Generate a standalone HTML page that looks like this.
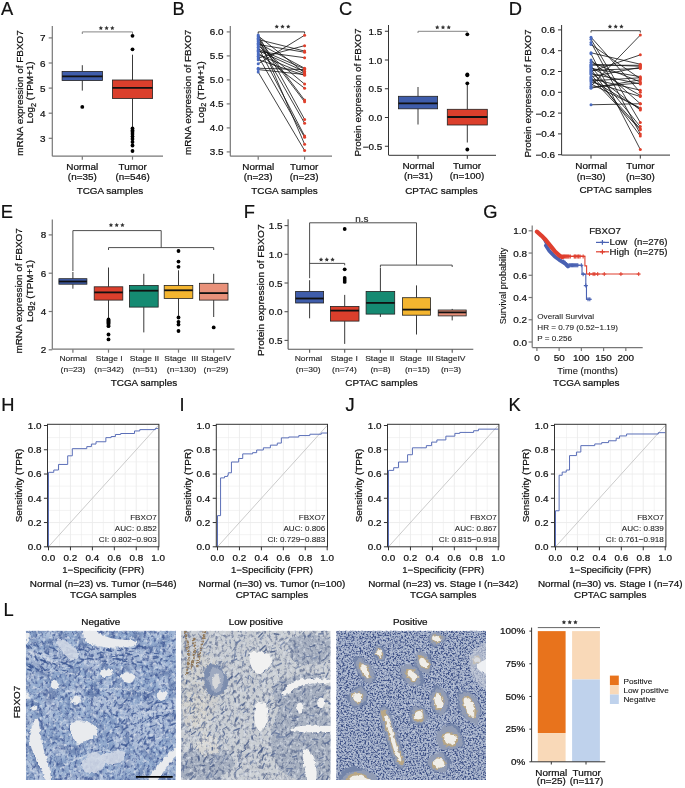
<!DOCTYPE html>
<html><head><meta charset="utf-8"><style>
html,body{margin:0;padding:0;background:#fff;}
svg{display:block;will-change:transform;}
text{font-family:"Liberation Sans", sans-serif;}
</style></head><body>
<svg width="685" height="788" viewBox="0 0 685 788">
<rect width="685" height="788" fill="#fff"/>
<text transform="translate(0.90,14.50) scale(1.0,1)" font-size="18.3" text-anchor="start" fill="#111" stroke="#111" stroke-width="0.22" >A</text>
<line x1="52.30" y1="26.00" x2="52.30" y2="156.20" stroke="#777" stroke-width="1.2" />
<line x1="48.70" y1="37.90" x2="52.30" y2="37.90" stroke="#777" stroke-width="1.2" />
<text transform="translate(45.60,41.40) scale(1.1,1)" font-size="9" text-anchor="end" fill="#111" stroke="#111" stroke-width="0.22" >7</text>
<line x1="48.70" y1="63.00" x2="52.30" y2="63.00" stroke="#777" stroke-width="1.2" />
<text transform="translate(45.60,66.50) scale(1.1,1)" font-size="9" text-anchor="end" fill="#111" stroke="#111" stroke-width="0.22" >6</text>
<line x1="48.70" y1="88.10" x2="52.30" y2="88.10" stroke="#777" stroke-width="1.2" />
<text transform="translate(45.60,91.60) scale(1.1,1)" font-size="9" text-anchor="end" fill="#111" stroke="#111" stroke-width="0.22" >5</text>
<line x1="48.70" y1="113.20" x2="52.30" y2="113.20" stroke="#777" stroke-width="1.2" />
<text transform="translate(45.60,116.70) scale(1.1,1)" font-size="9" text-anchor="end" fill="#111" stroke="#111" stroke-width="0.22" >4</text>
<line x1="48.70" y1="138.30" x2="52.30" y2="138.30" stroke="#777" stroke-width="1.2" />
<text transform="translate(45.60,141.80) scale(1.1,1)" font-size="9" text-anchor="end" fill="#111" stroke="#111" stroke-width="0.22" >3</text>
<line x1="52.30" y1="156.20" x2="163.00" y2="156.20" stroke="#777" stroke-width="1.2" />
<line x1="82.30" y1="156.20" x2="82.30" y2="159.70" stroke="#777" stroke-width="1.2" />
<line x1="132.50" y1="156.20" x2="132.50" y2="159.70" stroke="#777" stroke-width="1.2" />
<line x1="82.30" y1="65.20" x2="82.30" y2="71.40" stroke="#222" stroke-width="0.9" />
<line x1="82.30" y1="80.50" x2="82.30" y2="90.60" stroke="#222" stroke-width="0.9" />
<rect x="62.10" y="71.40" width="40.40" height="9.10" fill="#3f5dab" stroke="#222" stroke-width="0.8" />
<line x1="62.10" y1="76.40" x2="102.50" y2="76.40" stroke="#111" stroke-width="1.8" />
<circle cx="82.30" cy="106.90" r="1.9" fill="#000"/>
<line x1="132.50" y1="54.70" x2="132.50" y2="80.00" stroke="#222" stroke-width="0.9" />
<line x1="132.50" y1="98.50" x2="132.50" y2="128.00" stroke="#222" stroke-width="0.9" />
<rect x="112.40" y="80.00" width="40.20" height="18.50" fill="#db3f2c" stroke="#222" stroke-width="0.8" />
<line x1="112.40" y1="87.90" x2="152.60" y2="87.90" stroke="#111" stroke-width="1.8" />
<circle cx="132.50" cy="35.80" r="1.9" fill="#000"/>
<circle cx="132.50" cy="49.30" r="1.9" fill="#000"/>
<circle cx="132.50" cy="128.50" r="1.9" fill="#000"/>
<circle cx="132.50" cy="130.50" r="1.9" fill="#000"/>
<circle cx="132.50" cy="132.00" r="1.9" fill="#000"/>
<circle cx="132.50" cy="134.00" r="1.9" fill="#000"/>
<circle cx="132.50" cy="136.50" r="1.9" fill="#000"/>
<circle cx="132.50" cy="139.00" r="1.9" fill="#000"/>
<circle cx="132.50" cy="142.00" r="1.9" fill="#000"/>
<circle cx="132.50" cy="145.50" r="1.9" fill="#000"/>
<circle cx="132.50" cy="151.00" r="1.9" fill="#000"/>
<path d="M82.3,34 V31.9 H132.5 V34" stroke="#777" stroke-width="0.9" fill="none" />
<polygon points="100.85,25.80 101.53,27.17 103.04,27.39 101.94,28.46 102.20,29.96 100.85,29.25 99.50,29.96 99.76,28.46 98.66,27.39 100.17,27.17" fill="#333"/>
<polygon points="106.60,25.80 107.28,27.17 108.79,27.39 107.69,28.46 107.95,29.96 106.60,29.25 105.25,29.96 105.51,28.46 104.41,27.39 105.92,27.17" fill="#333"/>
<polygon points="112.35,25.80 113.03,27.17 114.54,27.39 113.44,28.46 113.70,29.96 112.35,29.25 111.00,29.96 111.26,28.46 110.16,27.39 111.67,27.17" fill="#333"/>
<text transform="translate(82.30,169.80) scale(1.1,1)" font-size="9" text-anchor="middle" fill="#111" stroke="#111" stroke-width="0.22" >Normal</text>
<text transform="translate(82.30,180.40) scale(1.1,1)" font-size="9" text-anchor="middle" fill="#111" stroke="#111" stroke-width="0.22" >(n=35)</text>
<text transform="translate(109.90,193.70) scale(1.1,1)" font-size="9" text-anchor="middle" fill="#111" stroke="#111" stroke-width="0.22" >TCGA samples</text>
<text transform="translate(22.50,93.00) rotate(-90) scale(1.1,1)" font-size="9" text-anchor="middle" fill="#111" stroke="#111" stroke-width="0.22" >mRNA expression of FBXO7</text>
<text transform="translate(33.2,92.4) rotate(-90) scale(1.1,1)" font-size="9" text-anchor="middle" fill="#111" stroke="#111" stroke-width="0.22">Log<tspan font-size="6.5" dy="2.5">2</tspan><tspan dy="-2.5"> (TPM+1)</tspan></text>
<text transform="translate(172.50,14.50) scale(1.0,1)" font-size="18.3" text-anchor="start" fill="#111" stroke="#111" stroke-width="0.22" >B</text>
<line x1="230.30" y1="26.00" x2="230.30" y2="156.20" stroke="#777" stroke-width="1.2" />
<line x1="226.70" y1="31.90" x2="230.30" y2="31.90" stroke="#777" stroke-width="1.2" />
<text transform="translate(223.60,35.40) scale(1.1,1)" font-size="9" text-anchor="end" fill="#111" stroke="#111" stroke-width="0.22" >6.0</text>
<line x1="226.70" y1="55.90" x2="230.30" y2="55.90" stroke="#777" stroke-width="1.2" />
<text transform="translate(223.60,59.40) scale(1.1,1)" font-size="9" text-anchor="end" fill="#111" stroke="#111" stroke-width="0.22" >5.5</text>
<line x1="226.70" y1="79.90" x2="230.30" y2="79.90" stroke="#777" stroke-width="1.2" />
<text transform="translate(223.60,83.40) scale(1.1,1)" font-size="9" text-anchor="end" fill="#111" stroke="#111" stroke-width="0.22" >5.0</text>
<line x1="226.70" y1="103.90" x2="230.30" y2="103.90" stroke="#777" stroke-width="1.2" />
<text transform="translate(223.60,107.40) scale(1.1,1)" font-size="9" text-anchor="end" fill="#111" stroke="#111" stroke-width="0.22" >4.5</text>
<line x1="226.70" y1="127.90" x2="230.30" y2="127.90" stroke="#777" stroke-width="1.2" />
<text transform="translate(223.60,131.40) scale(1.1,1)" font-size="9" text-anchor="end" fill="#111" stroke="#111" stroke-width="0.22" >4.0</text>
<line x1="226.70" y1="151.90" x2="230.30" y2="151.90" stroke="#777" stroke-width="1.2" />
<text transform="translate(223.60,155.40) scale(1.1,1)" font-size="9" text-anchor="end" fill="#111" stroke="#111" stroke-width="0.22" >3.5</text>
<line x1="230.30" y1="156.20" x2="332.00" y2="156.20" stroke="#777" stroke-width="1.2" />
<line x1="258.20" y1="156.20" x2="258.20" y2="159.70" stroke="#777" stroke-width="1.2" />
<line x1="304.60" y1="156.20" x2="304.60" y2="159.70" stroke="#777" stroke-width="1.2" />
<line x1="258.20" y1="34.91" x2="304.60" y2="119.44" stroke="#111" stroke-width="0.8" />
<line x1="258.20" y1="35.90" x2="304.60" y2="72.88" stroke="#111" stroke-width="0.8" />
<line x1="258.20" y1="36.89" x2="304.60" y2="144.20" stroke="#111" stroke-width="0.8" />
<line x1="258.20" y1="38.21" x2="304.60" y2="100.12" stroke="#111" stroke-width="0.8" />
<line x1="258.20" y1="39.53" x2="304.60" y2="51.09" stroke="#111" stroke-width="0.8" />
<line x1="258.20" y1="40.68" x2="304.60" y2="101.77" stroke="#111" stroke-width="0.8" />
<line x1="258.20" y1="41.84" x2="304.60" y2="123.23" stroke="#111" stroke-width="0.8" />
<line x1="258.20" y1="43.16" x2="304.60" y2="68.26" stroke="#111" stroke-width="0.8" />
<line x1="258.20" y1="44.48" x2="304.60" y2="52.24" stroke="#111" stroke-width="0.8" />
<line x1="258.20" y1="45.64" x2="304.60" y2="84.11" stroke="#111" stroke-width="0.8" />
<line x1="258.20" y1="47.29" x2="304.60" y2="135.95" stroke="#111" stroke-width="0.8" />
<line x1="258.20" y1="48.94" x2="304.60" y2="68.92" stroke="#111" stroke-width="0.8" />
<line x1="258.20" y1="50.59" x2="304.60" y2="71.56" stroke="#111" stroke-width="0.8" />
<line x1="258.20" y1="51.42" x2="304.60" y2="57.69" stroke="#111" stroke-width="0.8" />
<line x1="258.20" y1="53.07" x2="304.60" y2="88.23" stroke="#111" stroke-width="0.8" />
<line x1="258.20" y1="54.72" x2="304.60" y2="73.70" stroke="#111" stroke-width="0.8" />
<line x1="258.20" y1="56.37" x2="304.60" y2="137.27" stroke="#111" stroke-width="0.8" />
<line x1="258.20" y1="58.02" x2="304.60" y2="45.64" stroke="#111" stroke-width="0.8" />
<line x1="258.20" y1="59.67" x2="304.60" y2="75.35" stroke="#111" stroke-width="0.8" />
<line x1="258.20" y1="63.80" x2="304.60" y2="35.24" stroke="#111" stroke-width="0.8" />
<line x1="258.20" y1="68.26" x2="304.60" y2="69.58" stroke="#111" stroke-width="0.8" />
<line x1="258.20" y1="69.58" x2="304.60" y2="74.53" stroke="#111" stroke-width="0.8" />
<line x1="258.20" y1="72.05" x2="304.60" y2="150.47" stroke="#111" stroke-width="0.8" />
<circle cx="258.20" cy="34.91" r="1.5" fill="#4a6bc0"/>
<circle cx="258.20" cy="35.90" r="1.5" fill="#4a6bc0"/>
<circle cx="258.20" cy="36.89" r="1.5" fill="#4a6bc0"/>
<circle cx="258.20" cy="38.21" r="1.5" fill="#4a6bc0"/>
<circle cx="258.20" cy="39.53" r="1.5" fill="#4a6bc0"/>
<circle cx="258.20" cy="40.68" r="1.5" fill="#4a6bc0"/>
<circle cx="258.20" cy="41.84" r="1.5" fill="#4a6bc0"/>
<circle cx="258.20" cy="43.16" r="1.5" fill="#4a6bc0"/>
<circle cx="258.20" cy="44.48" r="1.5" fill="#4a6bc0"/>
<circle cx="258.20" cy="45.64" r="1.5" fill="#4a6bc0"/>
<circle cx="258.20" cy="47.29" r="1.5" fill="#4a6bc0"/>
<circle cx="258.20" cy="48.94" r="1.5" fill="#4a6bc0"/>
<circle cx="258.20" cy="50.59" r="1.5" fill="#4a6bc0"/>
<circle cx="258.20" cy="51.42" r="1.5" fill="#4a6bc0"/>
<circle cx="258.20" cy="53.07" r="1.5" fill="#4a6bc0"/>
<circle cx="258.20" cy="54.72" r="1.5" fill="#4a6bc0"/>
<circle cx="258.20" cy="56.37" r="1.5" fill="#4a6bc0"/>
<circle cx="258.20" cy="58.02" r="1.5" fill="#4a6bc0"/>
<circle cx="258.20" cy="59.67" r="1.5" fill="#4a6bc0"/>
<circle cx="258.20" cy="63.80" r="1.5" fill="#4a6bc0"/>
<circle cx="258.20" cy="68.26" r="1.5" fill="#4a6bc0"/>
<circle cx="258.20" cy="69.58" r="1.5" fill="#4a6bc0"/>
<circle cx="258.20" cy="72.05" r="1.5" fill="#4a6bc0"/>
<circle cx="304.60" cy="119.44" r="1.5" fill="#e0402c"/>
<circle cx="304.60" cy="72.88" r="1.5" fill="#e0402c"/>
<circle cx="304.60" cy="144.20" r="1.5" fill="#e0402c"/>
<circle cx="304.60" cy="100.12" r="1.5" fill="#e0402c"/>
<circle cx="304.60" cy="51.09" r="1.5" fill="#e0402c"/>
<circle cx="304.60" cy="101.77" r="1.5" fill="#e0402c"/>
<circle cx="304.60" cy="123.23" r="1.5" fill="#e0402c"/>
<circle cx="304.60" cy="68.26" r="1.5" fill="#e0402c"/>
<circle cx="304.60" cy="52.24" r="1.5" fill="#e0402c"/>
<circle cx="304.60" cy="84.11" r="1.5" fill="#e0402c"/>
<circle cx="304.60" cy="135.95" r="1.5" fill="#e0402c"/>
<circle cx="304.60" cy="68.92" r="1.5" fill="#e0402c"/>
<circle cx="304.60" cy="71.56" r="1.5" fill="#e0402c"/>
<circle cx="304.60" cy="57.69" r="1.5" fill="#e0402c"/>
<circle cx="304.60" cy="88.23" r="1.5" fill="#e0402c"/>
<circle cx="304.60" cy="73.70" r="1.5" fill="#e0402c"/>
<circle cx="304.60" cy="137.27" r="1.5" fill="#e0402c"/>
<circle cx="304.60" cy="45.64" r="1.5" fill="#e0402c"/>
<circle cx="304.60" cy="75.35" r="1.5" fill="#e0402c"/>
<circle cx="304.60" cy="35.24" r="1.5" fill="#e0402c"/>
<circle cx="304.60" cy="69.58" r="1.5" fill="#e0402c"/>
<circle cx="304.60" cy="74.53" r="1.5" fill="#e0402c"/>
<circle cx="304.60" cy="150.47" r="1.5" fill="#e0402c"/>
<path d="M258.2,33.6 V31.9 H304.6 V33.6" stroke="#222" stroke-width="0.9" fill="none" />
<polygon points="276.75,24.40 277.43,25.77 278.94,25.99 277.84,27.06 278.10,28.56 276.75,27.85 275.40,28.56 275.66,27.06 274.56,25.99 276.07,25.77" fill="#333"/>
<polygon points="282.50,24.40 283.18,25.77 284.69,25.99 283.59,27.06 283.85,28.56 282.50,27.85 281.15,28.56 281.41,27.06 280.31,25.99 281.82,25.77" fill="#333"/>
<polygon points="288.25,24.40 288.93,25.77 290.44,25.99 289.34,27.06 289.60,28.56 288.25,27.85 286.90,28.56 287.16,27.06 286.06,25.99 287.57,25.77" fill="#333"/>
<text transform="translate(258.20,169.80) scale(1.1,1)" font-size="9" text-anchor="middle" fill="#111" stroke="#111" stroke-width="0.22" >Normal</text>
<text transform="translate(258.20,180.20) scale(1.1,1)" font-size="9" text-anchor="middle" fill="#111" stroke="#111" stroke-width="0.22" >(n=23)</text>
<text transform="translate(284.50,193.70) scale(1.1,1)" font-size="9" text-anchor="middle" fill="#111" stroke="#111" stroke-width="0.22" >TCGA samples</text>
<text transform="translate(190.60,92.30) rotate(-90) scale(1.1,1)" font-size="9" text-anchor="middle" fill="#111" stroke="#111" stroke-width="0.22" >mRNA expression of FBXO7</text>
<text transform="translate(203.6,92.3) rotate(-90) scale(1.1,1)" font-size="9" text-anchor="middle" fill="#111" stroke="#111" stroke-width="0.22">Log<tspan font-size="6.5" dy="2.5">2</tspan><tspan dy="-2.5"> (TPM+1)</tspan></text>
<text transform="translate(339.10,14.50) scale(1.0,1)" font-size="18.3" text-anchor="start" fill="#111" stroke="#111" stroke-width="0.22" >C</text>
<line x1="388.50" y1="25.00" x2="388.50" y2="155.00" stroke="#333" stroke-width="1" />
<line x1="384.90" y1="31.25" x2="388.50" y2="31.25" stroke="#333" stroke-width="1" />
<text transform="translate(382.20,34.75) scale(1.1,1)" font-size="9" text-anchor="end" fill="#111" stroke="#111" stroke-width="0.22" >1.5</text>
<line x1="384.90" y1="60.00" x2="388.50" y2="60.00" stroke="#333" stroke-width="1" />
<text transform="translate(382.20,63.50) scale(1.1,1)" font-size="9" text-anchor="end" fill="#111" stroke="#111" stroke-width="0.22" >1.0</text>
<line x1="384.90" y1="88.75" x2="388.50" y2="88.75" stroke="#333" stroke-width="1" />
<text transform="translate(382.20,92.25) scale(1.1,1)" font-size="9" text-anchor="end" fill="#111" stroke="#111" stroke-width="0.22" >0.5</text>
<line x1="384.90" y1="117.50" x2="388.50" y2="117.50" stroke="#333" stroke-width="1" />
<text transform="translate(382.20,121.00) scale(1.1,1)" font-size="9" text-anchor="end" fill="#111" stroke="#111" stroke-width="0.22" >0.0</text>
<line x1="384.90" y1="146.25" x2="388.50" y2="146.25" stroke="#333" stroke-width="1" />
<text transform="translate(382.20,149.75) scale(1.1,1)" font-size="9" text-anchor="end" fill="#111" stroke="#111" stroke-width="0.22" >−0.5</text>
<line x1="388.50" y1="155.30" x2="496.00" y2="155.30" stroke="#333" stroke-width="1" />
<line x1="418.00" y1="155.30" x2="418.00" y2="158.80" stroke="#333" stroke-width="1" />
<line x1="467.30" y1="155.30" x2="467.30" y2="158.80" stroke="#333" stroke-width="1" />
<line x1="418.00" y1="87.00" x2="418.00" y2="96.30" stroke="#222" stroke-width="0.9" />
<line x1="418.00" y1="108.80" x2="418.00" y2="124.50" stroke="#222" stroke-width="0.9" />
<rect x="398.40" y="96.30" width="39.20" height="12.50" fill="#3f5dab" stroke="#222" stroke-width="0.8" />
<line x1="398.40" y1="103.30" x2="437.60" y2="103.30" stroke="#111" stroke-width="1.8" />
<line x1="467.30" y1="85.00" x2="467.30" y2="109.30" stroke="#222" stroke-width="0.9" />
<line x1="467.30" y1="125.00" x2="467.30" y2="142.50" stroke="#222" stroke-width="0.9" />
<rect x="447.30" y="109.30" width="40.00" height="15.70" fill="#db3f2c" stroke="#222" stroke-width="0.8" />
<line x1="447.30" y1="117.00" x2="487.30" y2="117.00" stroke="#111" stroke-width="1.8" />
<circle cx="467.30" cy="34.30" r="1.9" fill="#000"/>
<circle cx="467.30" cy="74.30" r="1.9" fill="#000"/>
<circle cx="467.30" cy="75.30" r="1.9" fill="#000"/>
<circle cx="467.30" cy="83.30" r="1.9" fill="#000"/>
<circle cx="467.30" cy="149.50" r="1.9" fill="#000"/>
<path d="M418,33 V31.3 H467.3 V33" stroke="#777" stroke-width="0.9" fill="none" />
<polygon points="437.25,25.10 437.93,26.47 439.44,26.69 438.34,27.76 438.60,29.26 437.25,28.55 435.90,29.26 436.16,27.76 435.06,26.69 436.57,26.47" fill="#333"/>
<polygon points="443.00,25.10 443.68,26.47 445.19,26.69 444.09,27.76 444.35,29.26 443.00,28.55 441.65,29.26 441.91,27.76 440.81,26.69 442.32,26.47" fill="#333"/>
<polygon points="448.75,25.10 449.43,26.47 450.94,26.69 449.84,27.76 450.10,29.26 448.75,28.55 447.40,29.26 447.66,27.76 446.56,26.69 448.07,26.47" fill="#333"/>
<text transform="translate(418.40,168.90) scale(1.1,1)" font-size="9" text-anchor="middle" fill="#111" stroke="#111" stroke-width="0.22" >Normal</text>
<text transform="translate(418.40,179.40) scale(1.1,1)" font-size="9" text-anchor="middle" fill="#111" stroke="#111" stroke-width="0.22" >(n=31)</text>
<text transform="translate(441.40,193.50) scale(1.1,1)" font-size="9" text-anchor="middle" fill="#111" stroke="#111" stroke-width="0.22" >CPTAC samples</text>
<text transform="translate(361.00,92.50) rotate(-90) scale(1.1,1)" font-size="9" text-anchor="middle" fill="#111" stroke="#111" stroke-width="0.22" >Protein expression of FBXO7</text>
<text transform="translate(508.80,14.50) scale(1.0,1)" font-size="18.3" text-anchor="start" fill="#111" stroke="#111" stroke-width="0.22" >D</text>
<line x1="561.60" y1="25.00" x2="561.60" y2="155.10" stroke="#333" stroke-width="1" />
<line x1="558.00" y1="29.90" x2="561.60" y2="29.90" stroke="#333" stroke-width="1" />
<text transform="translate(555.00,33.40) scale(1.1,1)" font-size="9" text-anchor="end" fill="#111" stroke="#111" stroke-width="0.22" >0.6</text>
<line x1="558.00" y1="50.70" x2="561.60" y2="50.70" stroke="#333" stroke-width="1" />
<text transform="translate(555.00,54.20) scale(1.1,1)" font-size="9" text-anchor="end" fill="#111" stroke="#111" stroke-width="0.22" >0.4</text>
<line x1="558.00" y1="71.50" x2="561.60" y2="71.50" stroke="#333" stroke-width="1" />
<text transform="translate(555.00,75.00) scale(1.1,1)" font-size="9" text-anchor="end" fill="#111" stroke="#111" stroke-width="0.22" >0.2</text>
<line x1="558.00" y1="92.30" x2="561.60" y2="92.30" stroke="#333" stroke-width="1" />
<text transform="translate(555.00,95.80) scale(1.1,1)" font-size="9" text-anchor="end" fill="#111" stroke="#111" stroke-width="0.22" >0.0</text>
<line x1="558.00" y1="113.10" x2="561.60" y2="113.10" stroke="#333" stroke-width="1" />
<text transform="translate(555.00,116.60) scale(1.1,1)" font-size="9" text-anchor="end" fill="#111" stroke="#111" stroke-width="0.22" >−0.2</text>
<line x1="558.00" y1="133.90" x2="561.60" y2="133.90" stroke="#333" stroke-width="1" />
<text transform="translate(555.00,137.40) scale(1.1,1)" font-size="9" text-anchor="end" fill="#111" stroke="#111" stroke-width="0.22" >−0.4</text>
<line x1="558.00" y1="154.70" x2="561.60" y2="154.70" stroke="#333" stroke-width="1" />
<text transform="translate(555.00,158.20) scale(1.1,1)" font-size="9" text-anchor="end" fill="#111" stroke="#111" stroke-width="0.22" >−0.6</text>
<line x1="561.60" y1="155.10" x2="670.00" y2="155.10" stroke="#333" stroke-width="1" />
<line x1="591.00" y1="155.10" x2="591.00" y2="158.60" stroke="#333" stroke-width="1" />
<line x1="640.30" y1="155.10" x2="640.30" y2="158.60" stroke="#333" stroke-width="1" />
<line x1="591.00" y1="37.18" x2="640.30" y2="92.30" stroke="#111" stroke-width="0.8" />
<line x1="591.00" y1="39.26" x2="640.30" y2="122.46" stroke="#111" stroke-width="0.8" />
<line x1="591.00" y1="42.38" x2="640.30" y2="133.90" stroke="#111" stroke-width="0.8" />
<line x1="591.00" y1="44.46" x2="640.30" y2="78.78" stroke="#111" stroke-width="0.8" />
<line x1="591.00" y1="52.78" x2="640.30" y2="64.22" stroke="#111" stroke-width="0.8" />
<line x1="591.00" y1="53.82" x2="640.30" y2="149.50" stroke="#111" stroke-width="0.8" />
<line x1="591.00" y1="60.06" x2="640.30" y2="103.74" stroke="#111" stroke-width="0.8" />
<line x1="591.00" y1="62.14" x2="640.30" y2="81.90" stroke="#111" stroke-width="0.8" />
<line x1="591.00" y1="64.22" x2="640.30" y2="66.30" stroke="#111" stroke-width="0.8" />
<line x1="591.00" y1="66.30" x2="640.30" y2="126.62" stroke="#111" stroke-width="0.8" />
<line x1="591.00" y1="67.34" x2="640.30" y2="95.42" stroke="#111" stroke-width="0.8" />
<line x1="591.00" y1="68.38" x2="640.30" y2="76.70" stroke="#111" stroke-width="0.8" />
<line x1="591.00" y1="69.42" x2="640.30" y2="135.98" stroke="#111" stroke-width="0.8" />
<line x1="591.00" y1="71.50" x2="640.30" y2="54.86" stroke="#111" stroke-width="0.8" />
<line x1="591.00" y1="72.54" x2="640.30" y2="109.98" stroke="#111" stroke-width="0.8" />
<line x1="591.00" y1="73.58" x2="640.30" y2="83.98" stroke="#111" stroke-width="0.8" />
<line x1="591.00" y1="74.62" x2="640.30" y2="128.70" stroke="#111" stroke-width="0.8" />
<line x1="591.00" y1="76.70" x2="640.30" y2="67.34" stroke="#111" stroke-width="0.8" />
<line x1="591.00" y1="77.74" x2="640.30" y2="129.74" stroke="#111" stroke-width="0.8" />
<line x1="591.00" y1="78.78" x2="640.30" y2="90.22" stroke="#111" stroke-width="0.8" />
<line x1="591.00" y1="80.86" x2="640.30" y2="77.74" stroke="#111" stroke-width="0.8" />
<line x1="591.00" y1="81.90" x2="640.30" y2="96.46" stroke="#111" stroke-width="0.8" />
<line x1="591.00" y1="83.98" x2="640.30" y2="107.90" stroke="#111" stroke-width="0.8" />
<line x1="591.00" y1="86.06" x2="640.30" y2="35.10" stroke="#111" stroke-width="0.8" />
<line x1="591.00" y1="87.10" x2="640.30" y2="82.94" stroke="#111" stroke-width="0.8" />
<line x1="591.00" y1="88.14" x2="640.30" y2="79.82" stroke="#111" stroke-width="0.8" />
<line x1="591.00" y1="79.82" x2="640.30" y2="108.94" stroke="#111" stroke-width="0.8" />
<line x1="591.00" y1="70.46" x2="640.30" y2="68.38" stroke="#111" stroke-width="0.8" />
<line x1="591.00" y1="65.26" x2="640.30" y2="65.26" stroke="#111" stroke-width="0.8" />
<line x1="591.00" y1="104.78" x2="640.30" y2="103.74" stroke="#111" stroke-width="0.8" />
<circle cx="591.00" cy="37.18" r="1.5" fill="#4a6bc0"/>
<circle cx="591.00" cy="39.26" r="1.5" fill="#4a6bc0"/>
<circle cx="591.00" cy="42.38" r="1.5" fill="#4a6bc0"/>
<circle cx="591.00" cy="44.46" r="1.5" fill="#4a6bc0"/>
<circle cx="591.00" cy="52.78" r="1.5" fill="#4a6bc0"/>
<circle cx="591.00" cy="53.82" r="1.5" fill="#4a6bc0"/>
<circle cx="591.00" cy="60.06" r="1.5" fill="#4a6bc0"/>
<circle cx="591.00" cy="62.14" r="1.5" fill="#4a6bc0"/>
<circle cx="591.00" cy="64.22" r="1.5" fill="#4a6bc0"/>
<circle cx="591.00" cy="66.30" r="1.5" fill="#4a6bc0"/>
<circle cx="591.00" cy="67.34" r="1.5" fill="#4a6bc0"/>
<circle cx="591.00" cy="68.38" r="1.5" fill="#4a6bc0"/>
<circle cx="591.00" cy="69.42" r="1.5" fill="#4a6bc0"/>
<circle cx="591.00" cy="71.50" r="1.5" fill="#4a6bc0"/>
<circle cx="591.00" cy="72.54" r="1.5" fill="#4a6bc0"/>
<circle cx="591.00" cy="73.58" r="1.5" fill="#4a6bc0"/>
<circle cx="591.00" cy="74.62" r="1.5" fill="#4a6bc0"/>
<circle cx="591.00" cy="76.70" r="1.5" fill="#4a6bc0"/>
<circle cx="591.00" cy="77.74" r="1.5" fill="#4a6bc0"/>
<circle cx="591.00" cy="78.78" r="1.5" fill="#4a6bc0"/>
<circle cx="591.00" cy="80.86" r="1.5" fill="#4a6bc0"/>
<circle cx="591.00" cy="81.90" r="1.5" fill="#4a6bc0"/>
<circle cx="591.00" cy="83.98" r="1.5" fill="#4a6bc0"/>
<circle cx="591.00" cy="86.06" r="1.5" fill="#4a6bc0"/>
<circle cx="591.00" cy="87.10" r="1.5" fill="#4a6bc0"/>
<circle cx="591.00" cy="88.14" r="1.5" fill="#4a6bc0"/>
<circle cx="591.00" cy="79.82" r="1.5" fill="#4a6bc0"/>
<circle cx="591.00" cy="70.46" r="1.5" fill="#4a6bc0"/>
<circle cx="591.00" cy="65.26" r="1.5" fill="#4a6bc0"/>
<circle cx="591.00" cy="104.78" r="1.5" fill="#4a6bc0"/>
<circle cx="640.30" cy="35.10" r="1.5" fill="#e0402c"/>
<circle cx="640.30" cy="54.86" r="1.5" fill="#e0402c"/>
<circle cx="640.30" cy="64.22" r="1.5" fill="#e0402c"/>
<circle cx="640.30" cy="66.30" r="1.5" fill="#e0402c"/>
<circle cx="640.30" cy="67.34" r="1.5" fill="#e0402c"/>
<circle cx="640.30" cy="68.38" r="1.5" fill="#e0402c"/>
<circle cx="640.30" cy="76.70" r="1.5" fill="#e0402c"/>
<circle cx="640.30" cy="77.74" r="1.5" fill="#e0402c"/>
<circle cx="640.30" cy="78.78" r="1.5" fill="#e0402c"/>
<circle cx="640.30" cy="79.82" r="1.5" fill="#e0402c"/>
<circle cx="640.30" cy="81.90" r="1.5" fill="#e0402c"/>
<circle cx="640.30" cy="83.98" r="1.5" fill="#e0402c"/>
<circle cx="640.30" cy="90.22" r="1.5" fill="#e0402c"/>
<circle cx="640.30" cy="92.30" r="1.5" fill="#e0402c"/>
<circle cx="640.30" cy="95.42" r="1.5" fill="#e0402c"/>
<circle cx="640.30" cy="96.46" r="1.5" fill="#e0402c"/>
<circle cx="640.30" cy="103.74" r="1.5" fill="#e0402c"/>
<circle cx="640.30" cy="107.90" r="1.5" fill="#e0402c"/>
<circle cx="640.30" cy="109.98" r="1.5" fill="#e0402c"/>
<circle cx="640.30" cy="122.46" r="1.5" fill="#e0402c"/>
<circle cx="640.30" cy="126.62" r="1.5" fill="#e0402c"/>
<circle cx="640.30" cy="128.70" r="1.5" fill="#e0402c"/>
<circle cx="640.30" cy="133.90" r="1.5" fill="#e0402c"/>
<circle cx="640.30" cy="135.98" r="1.5" fill="#e0402c"/>
<circle cx="640.30" cy="149.50" r="1.5" fill="#e0402c"/>
<circle cx="640.30" cy="65.26" r="1.5" fill="#e0402c"/>
<circle cx="640.30" cy="82.94" r="1.5" fill="#e0402c"/>
<circle cx="640.30" cy="129.74" r="1.5" fill="#e0402c"/>
<circle cx="640.30" cy="108.94" r="1.5" fill="#e0402c"/>
<circle cx="640.30" cy="103.74" r="1.5" fill="#e0402c"/>
<path d="M591,32.6 V30.7 H640.3 V32.6" stroke="#333" stroke-width="0.9" fill="none" />
<polygon points="609.95,24.30 610.63,25.67 612.14,25.89 611.04,26.96 611.30,28.46 609.95,27.75 608.60,28.46 608.86,26.96 607.76,25.89 609.27,25.67" fill="#333"/>
<polygon points="615.70,24.30 616.38,25.67 617.89,25.89 616.79,26.96 617.05,28.46 615.70,27.75 614.35,28.46 614.61,26.96 613.51,25.89 615.02,25.67" fill="#333"/>
<polygon points="621.45,24.30 622.13,25.67 623.64,25.89 622.54,26.96 622.80,28.46 621.45,27.75 620.10,28.46 620.36,26.96 619.26,25.89 620.77,25.67" fill="#333"/>
<text transform="translate(591.20,168.80) scale(1.1,1)" font-size="9" text-anchor="middle" fill="#111" stroke="#111" stroke-width="0.22" >Normal</text>
<text transform="translate(591.20,179.60) scale(1.1,1)" font-size="9" text-anchor="middle" fill="#111" stroke="#111" stroke-width="0.22" >(n=30)</text>
<text transform="translate(640.40,168.80) scale(1.1,1)" font-size="9" text-anchor="middle" fill="#111" stroke="#111" stroke-width="0.22" >Tumor</text>
<text transform="translate(640.40,179.60) scale(1.1,1)" font-size="9" text-anchor="middle" fill="#111" stroke="#111" stroke-width="0.22" >(n=30)</text>
<text transform="translate(615.60,193.20) scale(1.1,1)" font-size="9" text-anchor="middle" fill="#111" stroke="#111" stroke-width="0.22" >CPTAC samples</text>
<text transform="translate(530.50,93.50) rotate(-90) scale(1.1,1)" font-size="9" text-anchor="middle" fill="#111" stroke="#111" stroke-width="0.22" >Protein expression of FBXO7</text>
<text transform="translate(132.60,169.80) scale(1.1,1)" font-size="9" text-anchor="middle" fill="#111" stroke="#111" stroke-width="0.22" >Tumor</text>
<text transform="translate(132.60,180.40) scale(1.1,1)" font-size="9" text-anchor="middle" fill="#111" stroke="#111" stroke-width="0.22" >(n=546)</text>
<text transform="translate(304.20,169.80) scale(1.1,1)" font-size="9" text-anchor="middle" fill="#111" stroke="#111" stroke-width="0.22" >Tumor</text>
<text transform="translate(304.20,180.20) scale(1.1,1)" font-size="9" text-anchor="middle" fill="#111" stroke="#111" stroke-width="0.22" >(n=23)</text>
<text transform="translate(467.00,168.90) scale(1.1,1)" font-size="9" text-anchor="middle" fill="#111" stroke="#111" stroke-width="0.22" >Tumor</text>
<text transform="translate(467.00,179.40) scale(1.1,1)" font-size="9" text-anchor="middle" fill="#111" stroke="#111" stroke-width="0.22" >(n=100)</text>
<text transform="translate(0.70,217.90) scale(1.0,1)" font-size="18.3" text-anchor="start" fill="#111" stroke="#111" stroke-width="0.22" >E</text>
<line x1="52.30" y1="219.50" x2="52.30" y2="349.20" stroke="#777" stroke-width="1.2" />
<line x1="48.70" y1="234.90" x2="52.30" y2="234.90" stroke="#777" stroke-width="1.2" />
<text transform="translate(46.30,238.40) scale(1.1,1)" font-size="9" text-anchor="end" fill="#111" stroke="#111" stroke-width="0.22" >8</text>
<line x1="48.70" y1="273.20" x2="52.30" y2="273.20" stroke="#777" stroke-width="1.2" />
<text transform="translate(46.30,276.70) scale(1.1,1)" font-size="9" text-anchor="end" fill="#111" stroke="#111" stroke-width="0.22" >6</text>
<line x1="48.70" y1="311.50" x2="52.30" y2="311.50" stroke="#777" stroke-width="1.2" />
<text transform="translate(46.30,315.00) scale(1.1,1)" font-size="9" text-anchor="end" fill="#111" stroke="#111" stroke-width="0.22" >4</text>
<line x1="48.70" y1="349.80" x2="52.30" y2="349.80" stroke="#777" stroke-width="1.2" />
<text transform="translate(46.30,353.30) scale(1.1,1)" font-size="9" text-anchor="end" fill="#111" stroke="#111" stroke-width="0.22" >2</text>
<line x1="52.30" y1="349.20" x2="234.50" y2="349.20" stroke="#777" stroke-width="1.2" />
<line x1="72.90" y1="349.20" x2="72.90" y2="352.70" stroke="#777" stroke-width="1.2" />
<line x1="108.50" y1="349.20" x2="108.50" y2="352.70" stroke="#777" stroke-width="1.2" />
<line x1="143.80" y1="349.20" x2="143.80" y2="352.70" stroke="#777" stroke-width="1.2" />
<line x1="178.50" y1="349.20" x2="178.50" y2="352.70" stroke="#777" stroke-width="1.2" />
<line x1="213.70" y1="349.20" x2="213.70" y2="352.70" stroke="#777" stroke-width="1.2" />
<line x1="72.90" y1="272.00" x2="72.90" y2="278.70" stroke="#222" stroke-width="0.9" />
<line x1="72.90" y1="284.20" x2="72.90" y2="288.70" stroke="#222" stroke-width="0.9" />
<rect x="58.90" y="278.70" width="28.00" height="5.50" fill="#3f5dab" stroke="#222" stroke-width="0.8" />
<line x1="58.90" y1="281.50" x2="86.90" y2="281.50" stroke="#111" stroke-width="1.8" />
<line x1="108.50" y1="267.50" x2="108.50" y2="286.80" stroke="#222" stroke-width="0.9" />
<line x1="108.50" y1="300.10" x2="108.50" y2="318.30" stroke="#222" stroke-width="0.9" />
<rect x="94.20" y="286.80" width="28.60" height="13.30" fill="#db3f2c" stroke="#222" stroke-width="0.8" />
<line x1="94.20" y1="292.40" x2="122.80" y2="292.40" stroke="#111" stroke-width="1.8" />
<circle cx="108.50" cy="319.50" r="1.9" fill="#000"/>
<circle cx="108.50" cy="320.50" r="1.9" fill="#000"/>
<circle cx="108.50" cy="321.50" r="1.9" fill="#000"/>
<circle cx="108.50" cy="322.50" r="1.9" fill="#000"/>
<circle cx="108.50" cy="323.50" r="1.9" fill="#000"/>
<circle cx="108.50" cy="325.00" r="1.9" fill="#000"/>
<circle cx="108.50" cy="326.20" r="1.9" fill="#000"/>
<circle cx="108.50" cy="334.50" r="1.9" fill="#000"/>
<circle cx="108.50" cy="339.40" r="1.9" fill="#000"/>
<line x1="143.80" y1="273.80" x2="143.80" y2="285.40" stroke="#222" stroke-width="0.9" />
<line x1="143.80" y1="307.10" x2="143.80" y2="332.40" stroke="#222" stroke-width="0.9" />
<rect x="129.40" y="285.40" width="28.80" height="21.70" fill="#158a72" stroke="#222" stroke-width="0.8" />
<line x1="129.40" y1="290.70" x2="158.20" y2="290.70" stroke="#111" stroke-width="1.8" />
<line x1="178.50" y1="270.30" x2="178.50" y2="285.40" stroke="#222" stroke-width="0.9" />
<line x1="178.50" y1="298.40" x2="178.50" y2="315.90" stroke="#222" stroke-width="0.9" />
<rect x="164.20" y="285.40" width="28.60" height="13.00" fill="#f4b52f" stroke="#222" stroke-width="0.8" />
<line x1="164.20" y1="290.30" x2="192.80" y2="290.30" stroke="#111" stroke-width="1.8" />
<circle cx="178.50" cy="251.00" r="1.9" fill="#000"/>
<circle cx="178.50" cy="261.60" r="1.9" fill="#000"/>
<circle cx="178.50" cy="266.80" r="1.9" fill="#000"/>
<circle cx="178.50" cy="317.50" r="1.9" fill="#000"/>
<circle cx="178.50" cy="321.80" r="1.9" fill="#000"/>
<circle cx="178.50" cy="324.60" r="1.9" fill="#000"/>
<circle cx="178.50" cy="331.00" r="1.9" fill="#000"/>
<line x1="213.70" y1="273.80" x2="213.70" y2="283.30" stroke="#222" stroke-width="0.9" />
<line x1="213.70" y1="300.10" x2="213.70" y2="317.00" stroke="#222" stroke-width="0.9" />
<rect x="199.40" y="283.30" width="28.60" height="16.80" fill="#e9917a" stroke="#222" stroke-width="0.8" />
<line x1="199.40" y1="293.10" x2="228.00" y2="293.10" stroke="#111" stroke-width="1.8" />
<circle cx="213.70" cy="327.40" r="1.9" fill="#000"/>
<path d="M72.9,271 V230.6 H161.2 V247.6" stroke="#3a3a3a" stroke-width="0.9" fill="none" />
<path d="M108.5,250 V247.6 H213.7 V250" stroke="#3a3a3a" stroke-width="0.9" fill="none" />
<polygon points="110.95,222.80 111.63,224.17 113.14,224.39 112.04,225.46 112.30,226.96 110.95,226.25 109.60,226.96 109.86,225.46 108.76,224.39 110.27,224.17" fill="#333"/>
<polygon points="116.70,222.80 117.38,224.17 118.89,224.39 117.79,225.46 118.05,226.96 116.70,226.25 115.35,226.96 115.61,225.46 114.51,224.39 116.02,224.17" fill="#333"/>
<polygon points="122.45,222.80 123.13,224.17 124.64,224.39 123.54,225.46 123.80,226.96 122.45,226.25 121.10,226.96 121.36,225.46 120.26,224.39 121.77,224.17" fill="#333"/>
<text transform="translate(73.10,361.00) scale(1.12,1)" font-size="7.6" text-anchor="middle" fill="#2a2a2a" stroke="#2a2a2a" stroke-width="0.15" >Normal</text>
<text transform="translate(73.00,371.60) scale(1.12,1)" font-size="7.6" text-anchor="middle" fill="#2a2a2a" stroke="#2a2a2a" stroke-width="0.15" >(n=23)</text>
<text transform="translate(109.20,361.00) scale(1.12,1)" font-size="7.6" text-anchor="middle" fill="#2a2a2a" stroke="#2a2a2a" stroke-width="0.15" >Stage I</text>
<text transform="translate(109.10,371.60) scale(1.12,1)" font-size="7.6" text-anchor="middle" fill="#2a2a2a" stroke="#2a2a2a" stroke-width="0.15" >(n=342)</text>
<text transform="translate(144.50,361.00) scale(1.12,1)" font-size="7.6" text-anchor="middle" fill="#2a2a2a" stroke="#2a2a2a" stroke-width="0.15" >Stage II</text>
<text transform="translate(144.90,371.60) scale(1.12,1)" font-size="7.6" text-anchor="middle" fill="#2a2a2a" stroke="#2a2a2a" stroke-width="0.15" >(n=51)</text>
<text transform="translate(181.30,361.00) scale(1.12,1)" font-size="7.6" text-anchor="middle" fill="#2a2a2a" stroke="#2a2a2a" stroke-width="0.15" >Stage  III</text>
<text transform="translate(181.60,371.60) scale(1.12,1)" font-size="7.6" text-anchor="middle" fill="#2a2a2a" stroke="#2a2a2a" stroke-width="0.15" >(n=130)</text>
<text transform="translate(216.00,361.00) scale(1.12,1)" font-size="7.6" text-anchor="middle" fill="#2a2a2a" stroke="#2a2a2a" stroke-width="0.15" >StageIV</text>
<text transform="translate(216.00,371.60) scale(1.12,1)" font-size="7.6" text-anchor="middle" fill="#2a2a2a" stroke="#2a2a2a" stroke-width="0.15" >(n=29)</text>
<text transform="translate(144.00,386.30) scale(1.1,1)" font-size="9" text-anchor="middle" fill="#111" stroke="#111" stroke-width="0.22" >TCGA samples</text>
<text transform="translate(22.20,290.90) rotate(-90) scale(1.1,1)" font-size="9" text-anchor="middle" fill="#111" stroke="#111" stroke-width="0.22" >mRNA expression of FBXO7</text>
<text transform="translate(32.6,290.9) rotate(-90) scale(1.1,1)" font-size="9" text-anchor="middle" fill="#111" stroke="#111" stroke-width="0.22">Log<tspan font-size="6.5" dy="2.5">2</tspan><tspan dy="-2.5"> (TPM+1)</tspan></text>
<text transform="translate(243.70,217.90) scale(1.0,1)" font-size="18.3" text-anchor="start" fill="#111" stroke="#111" stroke-width="0.22" >F</text>
<line x1="288.10" y1="219.30" x2="288.10" y2="349.20" stroke="#555" stroke-width="1.1" />
<line x1="284.50" y1="225.60" x2="288.10" y2="225.60" stroke="#555" stroke-width="1.1" />
<text transform="translate(282.60,229.10) scale(1.1,1)" font-size="9" text-anchor="end" fill="#111" stroke="#111" stroke-width="0.22" >1.5</text>
<line x1="284.50" y1="254.30" x2="288.10" y2="254.30" stroke="#555" stroke-width="1.1" />
<text transform="translate(282.60,257.80) scale(1.1,1)" font-size="9" text-anchor="end" fill="#111" stroke="#111" stroke-width="0.22" >1.0</text>
<line x1="284.50" y1="283.00" x2="288.10" y2="283.00" stroke="#555" stroke-width="1.1" />
<text transform="translate(282.60,286.50) scale(1.1,1)" font-size="9" text-anchor="end" fill="#111" stroke="#111" stroke-width="0.22" >0.5</text>
<line x1="284.50" y1="311.70" x2="288.10" y2="311.70" stroke="#555" stroke-width="1.1" />
<text transform="translate(282.60,315.20) scale(1.1,1)" font-size="9" text-anchor="end" fill="#111" stroke="#111" stroke-width="0.22" >0.0</text>
<line x1="284.50" y1="340.40" x2="288.10" y2="340.40" stroke="#555" stroke-width="1.1" />
<text transform="translate(282.60,343.90) scale(1.1,1)" font-size="9" text-anchor="end" fill="#111" stroke="#111" stroke-width="0.22" >0.5</text>
<line x1="288.10" y1="349.20" x2="473.30" y2="349.20" stroke="#555" stroke-width="1.1" />
<line x1="309.60" y1="349.20" x2="309.60" y2="352.70" stroke="#555" stroke-width="1.1" />
<line x1="344.70" y1="349.20" x2="344.70" y2="352.70" stroke="#555" stroke-width="1.1" />
<line x1="380.40" y1="349.20" x2="380.40" y2="352.70" stroke="#555" stroke-width="1.1" />
<line x1="416.50" y1="349.20" x2="416.50" y2="352.70" stroke="#555" stroke-width="1.1" />
<line x1="452.20" y1="349.20" x2="452.20" y2="352.70" stroke="#555" stroke-width="1.1" />
<line x1="309.60" y1="280.20" x2="309.60" y2="291.40" stroke="#222" stroke-width="0.9" />
<line x1="309.60" y1="303.00" x2="309.60" y2="318.30" stroke="#222" stroke-width="0.9" />
<rect x="295.60" y="291.40" width="28.00" height="11.60" fill="#3f5dab" stroke="#222" stroke-width="0.8" />
<line x1="295.60" y1="298.50" x2="323.60" y2="298.50" stroke="#111" stroke-width="1.8" />
<line x1="344.70" y1="294.90" x2="344.70" y2="306.40" stroke="#222" stroke-width="0.9" />
<line x1="344.70" y1="321.10" x2="344.70" y2="343.90" stroke="#222" stroke-width="0.9" />
<rect x="330.40" y="306.40" width="28.60" height="14.70" fill="#db3f2c" stroke="#222" stroke-width="0.8" />
<line x1="330.40" y1="310.60" x2="359.00" y2="310.60" stroke="#111" stroke-width="1.8" />
<circle cx="344.70" cy="229.00" r="1.9" fill="#000"/>
<circle cx="344.70" cy="269.30" r="1.9" fill="#000"/>
<circle cx="344.70" cy="278.00" r="1.9" fill="#000"/>
<circle cx="344.70" cy="280.00" r="1.9" fill="#000"/>
<circle cx="344.70" cy="281.90" r="1.9" fill="#000"/>
<line x1="380.40" y1="267.50" x2="380.40" y2="291.40" stroke="#222" stroke-width="0.9" />
<line x1="380.40" y1="314.10" x2="380.40" y2="316.90" stroke="#222" stroke-width="0.9" />
<rect x="366.10" y="291.40" width="28.60" height="22.70" fill="#158a72" stroke="#222" stroke-width="0.8" />
<line x1="366.10" y1="302.90" x2="394.70" y2="302.90" stroke="#111" stroke-width="1.8" />
<line x1="416.50" y1="285.40" x2="416.50" y2="297.70" stroke="#222" stroke-width="0.9" />
<line x1="416.50" y1="315.20" x2="416.50" y2="334.50" stroke="#222" stroke-width="0.9" />
<rect x="402.50" y="297.70" width="28.00" height="17.50" fill="#f4b52f" stroke="#222" stroke-width="0.8" />
<line x1="402.50" y1="309.60" x2="430.50" y2="309.60" stroke="#111" stroke-width="1.8" />
<line x1="452.20" y1="308.90" x2="452.20" y2="310.00" stroke="#222" stroke-width="0.9" />
<line x1="452.20" y1="315.90" x2="452.20" y2="320.40" stroke="#222" stroke-width="0.9" />
<rect x="438.20" y="310.00" width="28.00" height="5.90" fill="#e9917a" stroke="#222" stroke-width="0.8" />
<line x1="438.20" y1="312.40" x2="466.20" y2="312.40" stroke="#111" stroke-width="1.8" />
<path d="M309.6,278.2 V222.8 H416.5 V265.1" stroke="#3a3a3a" stroke-width="0.9" fill="none" />
<path d="M380.4,267 V265.1 H452.2 V267" stroke="#3a3a3a" stroke-width="0.9" fill="none" />
<path d="M309.6,263.4 H344.7 V265.3" stroke="#3a3a3a" stroke-width="0.9" fill="none" />
<polygon points="321.05,257.30 321.73,258.67 323.24,258.89 322.14,259.96 322.40,261.46 321.05,260.75 319.70,261.46 319.96,259.96 318.86,258.89 320.37,258.67" fill="#333"/>
<polygon points="326.80,257.30 327.48,258.67 328.99,258.89 327.89,259.96 328.15,261.46 326.80,260.75 325.45,261.46 325.71,259.96 324.61,258.89 326.12,258.67" fill="#333"/>
<polygon points="332.55,257.30 333.23,258.67 334.74,258.89 333.64,259.96 333.90,261.46 332.55,260.75 331.20,261.46 331.46,259.96 330.36,258.89 331.87,258.67" fill="#333"/>
<text transform="translate(361.80,221.60) scale(1.1,1)" font-size="9" text-anchor="middle" fill="#333" stroke="#333" stroke-width="0.22" >n.s</text>
<text transform="translate(308.40,361.00) scale(1.12,1)" font-size="7.6" text-anchor="middle" fill="#2a2a2a" stroke="#2a2a2a" stroke-width="0.15" >Normal</text>
<text transform="translate(308.20,371.60) scale(1.12,1)" font-size="7.6" text-anchor="middle" fill="#2a2a2a" stroke="#2a2a2a" stroke-width="0.15" >(n=30)</text>
<text transform="translate(344.30,361.00) scale(1.12,1)" font-size="7.6" text-anchor="middle" fill="#2a2a2a" stroke="#2a2a2a" stroke-width="0.15" >Stage I</text>
<text transform="translate(344.50,371.60) scale(1.12,1)" font-size="7.6" text-anchor="middle" fill="#2a2a2a" stroke="#2a2a2a" stroke-width="0.15" >(n=74)</text>
<text transform="translate(379.80,361.00) scale(1.12,1)" font-size="7.6" text-anchor="middle" fill="#2a2a2a" stroke="#2a2a2a" stroke-width="0.15" >Stage II</text>
<text transform="translate(380.50,371.60) scale(1.12,1)" font-size="7.6" text-anchor="middle" fill="#2a2a2a" stroke="#2a2a2a" stroke-width="0.15" >(n=8)</text>
<text transform="translate(416.70,361.00) scale(1.12,1)" font-size="7.6" text-anchor="middle" fill="#2a2a2a" stroke="#2a2a2a" stroke-width="0.15" >Stage  III</text>
<text transform="translate(417.40,371.60) scale(1.12,1)" font-size="7.6" text-anchor="middle" fill="#2a2a2a" stroke="#2a2a2a" stroke-width="0.15" >(n=15)</text>
<text transform="translate(450.40,361.00) scale(1.12,1)" font-size="7.6" text-anchor="middle" fill="#2a2a2a" stroke="#2a2a2a" stroke-width="0.15" >StageIV</text>
<text transform="translate(451.00,371.60) scale(1.12,1)" font-size="7.6" text-anchor="middle" fill="#2a2a2a" stroke="#2a2a2a" stroke-width="0.15" >(n=3)</text>
<text transform="translate(381.50,386.30) scale(1.1,1)" font-size="9" text-anchor="middle" fill="#111" stroke="#111" stroke-width="0.22" >CPTAC samples</text>
<text transform="translate(263.80,290.20) rotate(-90) scale(1.13,1)" font-size="9" text-anchor="middle" fill="#111" stroke="#111" stroke-width="0.22" >Protein expression of FBXO7</text>
<text transform="translate(483.20,217.90) scale(1.0,1)" font-size="18.3" text-anchor="start" fill="#111" stroke="#111" stroke-width="0.22" >G</text>
<line x1="532.20" y1="225.50" x2="532.20" y2="347.60" stroke="#777" stroke-width="1.2" />
<line x1="528.60" y1="230.80" x2="532.20" y2="230.80" stroke="#777" stroke-width="1.2" />
<text transform="translate(526.90,234.30) scale(1.1,1)" font-size="9" text-anchor="end" fill="#111" stroke="#111" stroke-width="0.22" >1.0</text>
<line x1="528.60" y1="253.04" x2="532.20" y2="253.04" stroke="#777" stroke-width="1.2" />
<text transform="translate(526.90,256.54) scale(1.1,1)" font-size="9" text-anchor="end" fill="#111" stroke="#111" stroke-width="0.22" >0.8</text>
<line x1="528.60" y1="275.28" x2="532.20" y2="275.28" stroke="#777" stroke-width="1.2" />
<text transform="translate(526.90,278.78) scale(1.1,1)" font-size="9" text-anchor="end" fill="#111" stroke="#111" stroke-width="0.22" >0.6</text>
<line x1="528.60" y1="297.52" x2="532.20" y2="297.52" stroke="#777" stroke-width="1.2" />
<text transform="translate(526.90,301.02) scale(1.1,1)" font-size="9" text-anchor="end" fill="#111" stroke="#111" stroke-width="0.22" >0.4</text>
<line x1="528.60" y1="319.76" x2="532.20" y2="319.76" stroke="#777" stroke-width="1.2" />
<text transform="translate(526.90,323.26) scale(1.1,1)" font-size="9" text-anchor="end" fill="#111" stroke="#111" stroke-width="0.22" >0.2</text>
<line x1="528.60" y1="342.00" x2="532.20" y2="342.00" stroke="#777" stroke-width="1.2" />
<text transform="translate(526.90,345.50) scale(1.1,1)" font-size="9" text-anchor="end" fill="#111" stroke="#111" stroke-width="0.22" >0.0</text>
<line x1="532.20" y1="347.60" x2="642.70" y2="347.60" stroke="#777" stroke-width="1.2" />
<line x1="536.90" y1="347.60" x2="536.90" y2="351.10" stroke="#777" stroke-width="1.2" />
<line x1="559.13" y1="347.60" x2="559.13" y2="351.10" stroke="#777" stroke-width="1.2" />
<line x1="581.36" y1="347.60" x2="581.36" y2="351.10" stroke="#777" stroke-width="1.2" />
<line x1="603.59" y1="347.60" x2="603.59" y2="351.10" stroke="#777" stroke-width="1.2" />
<line x1="625.82" y1="347.60" x2="625.82" y2="351.10" stroke="#777" stroke-width="1.2" />
<text transform="translate(536.90,361.30) scale(1.1,1)" font-size="9" text-anchor="middle" fill="#111" stroke="#111" stroke-width="0.22" >0</text>
<text transform="translate(559.13,361.30) scale(1.1,1)" font-size="9" text-anchor="middle" fill="#111" stroke="#111" stroke-width="0.22" >50</text>
<text transform="translate(581.36,361.30) scale(1.1,1)" font-size="9" text-anchor="middle" fill="#111" stroke="#111" stroke-width="0.22" >100</text>
<text transform="translate(603.59,361.30) scale(1.1,1)" font-size="9" text-anchor="middle" fill="#111" stroke="#111" stroke-width="0.22" >150</text>
<text transform="translate(625.82,361.30) scale(1.1,1)" font-size="9" text-anchor="middle" fill="#111" stroke="#111" stroke-width="0.22" >200</text>
<text transform="translate(587.60,373.50) scale(1.1,1)" font-size="8.6" text-anchor="middle" fill="#111" stroke="#111" stroke-width="0.08" >Time (months)</text>
<text transform="translate(586.30,385.80) scale(1.1,1)" font-size="9" text-anchor="middle" fill="#111" stroke="#111" stroke-width="0.22" >TCGA samples</text>
<text transform="translate(505.60,286.00) rotate(-90) scale(1.1,1)" font-size="8.3" text-anchor="middle" fill="#111" stroke="#111" stroke-width="0.08" >Survival probability</text>
<path d="M536.90,230.80 L539.57,233.58 L542.24,237.47 L545.79,244.14 L549.35,249.70 L554.68,255.26 L559.13,258.60 L563.58,261.38 L566.24,263.05 L568.02,265.27" stroke="#4a62b3" stroke-width="1.2" fill="none" stroke-linejoin="round" stroke-linecap="round"/>
<path d="M545.79,245.48 L549.35,251.04 L554.68,256.60 L559.13,259.93 L563.58,262.71 L566.24,264.38 L568.02,266.61" stroke="#4a62b3" stroke-width="3.6" fill="none" stroke-linejoin="round" stroke-linecap="round"/>
<path d="M568.02,265.27 H582.03 V274.17 H585.81 V285.62 H586.47 V299.30 H591.14" stroke="#4a62b3" stroke-width="1.1" fill="none" />
<path d="M561.58,261.38 H565.58 M563.58,259.38 V263.38" stroke="#4a62b3" stroke-width="1.1" fill="none" />
<path d="M562.47,262.49 H566.47 M564.47,260.49 V264.49" stroke="#4a62b3" stroke-width="1.1" fill="none" />
<path d="M563.35,263.60 H567.35 M565.35,261.60 V265.60" stroke="#4a62b3" stroke-width="1.1" fill="none" />
<path d="M564.24,264.72 H568.24 M566.24,262.72 V266.72" stroke="#4a62b3" stroke-width="1.1" fill="none" />
<path d="M565.13,265.83 H569.13 M567.13,263.83 V267.83" stroke="#4a62b3" stroke-width="1.1" fill="none" />
<path d="M566.91,265.27 H570.91 M568.91,263.27 V267.27" stroke="#4a62b3" stroke-width="1.1" fill="none" />
<path d="M567.80,265.27 H571.80 M569.80,263.27 V267.27" stroke="#4a62b3" stroke-width="1.1" fill="none" />
<path d="M568.69,265.27 H572.69 M570.69,263.27 V267.27" stroke="#4a62b3" stroke-width="1.1" fill="none" />
<path d="M569.58,265.27 H573.58 M571.58,263.27 V267.27" stroke="#4a62b3" stroke-width="1.1" fill="none" />
<path d="M570.47,265.27 H574.47 M572.47,263.27 V267.27" stroke="#4a62b3" stroke-width="1.1" fill="none" />
<path d="M571.36,265.27 H575.36 M573.36,263.27 V267.27" stroke="#4a62b3" stroke-width="1.1" fill="none" />
<path d="M572.25,265.27 H576.25 M574.25,263.27 V267.27" stroke="#4a62b3" stroke-width="1.1" fill="none" />
<path d="M573.14,265.27 H577.14 M575.14,263.27 V267.27" stroke="#4a62b3" stroke-width="1.1" fill="none" />
<path d="M574.02,265.27 H578.02 M576.02,263.27 V267.27" stroke="#4a62b3" stroke-width="1.1" fill="none" />
<path d="M574.91,265.27 H578.91 M576.91,263.27 V267.27" stroke="#4a62b3" stroke-width="1.1" fill="none" />
<path d="M575.80,265.27 H579.80 M577.80,263.27 V267.27" stroke="#4a62b3" stroke-width="1.1" fill="none" />
<path d="M579.36,265.27 H583.36 M581.36,263.27 V267.27" stroke="#4a62b3" stroke-width="1.1" fill="none" />
<path d="M581.14,274.17 H585.14 M583.14,272.17 V276.17" stroke="#4a62b3" stroke-width="1.1" fill="none" />
<path d="M583.81,285.62 H587.81 M585.81,283.62 V287.62" stroke="#4a62b3" stroke-width="1.1" fill="none" />
<path d="M586.03,299.30 H590.03 M588.03,297.30 V301.30" stroke="#4a62b3" stroke-width="1.1" fill="none" />
<path d="M587.81,299.30 H591.81 M589.81,297.30 V301.30" stroke="#4a62b3" stroke-width="1.1" fill="none" />
<path d="M536.90,230.80 L541.35,234.69 L545.79,239.14 L550.24,244.70 L554.68,250.26 L559.13,254.49 L562.24,256.38" stroke="#df3f2f" stroke-width="1.2" fill="none" stroke-linejoin="round" stroke-linecap="round"/>
<path d="M536.90,231.69 L541.35,235.58 L545.79,240.03 L550.24,245.59 L554.68,251.15 L559.13,255.38 L562.24,257.27" stroke="#df3f2f" stroke-width="4.2" fill="none" stroke-linejoin="round" stroke-linecap="round"/>
<path d="M562.24,256.38 H584.92 V265.83 H586.61 V274.06 H639.60" stroke="#df3f2f" stroke-width="1.1" fill="none" />
<path d="M560.69,256.38 H564.69 M562.69,254.38 V258.38" stroke="#df3f2f" stroke-width="1.1" fill="none" />
<path d="M561.58,256.38 H565.58 M563.58,254.38 V258.38" stroke="#df3f2f" stroke-width="1.1" fill="none" />
<path d="M562.47,256.38 H566.47 M564.47,254.38 V258.38" stroke="#df3f2f" stroke-width="1.1" fill="none" />
<path d="M563.35,256.38 H567.35 M565.35,254.38 V258.38" stroke="#df3f2f" stroke-width="1.1" fill="none" />
<path d="M564.24,256.38 H568.24 M566.24,254.38 V258.38" stroke="#df3f2f" stroke-width="1.1" fill="none" />
<path d="M565.13,256.38 H569.13 M567.13,254.38 V258.38" stroke="#df3f2f" stroke-width="1.1" fill="none" />
<path d="M566.02,256.38 H570.02 M568.02,254.38 V258.38" stroke="#df3f2f" stroke-width="1.1" fill="none" />
<path d="M566.91,256.38 H570.91 M568.91,254.38 V258.38" stroke="#df3f2f" stroke-width="1.1" fill="none" />
<path d="M568.25,256.38 H572.25 M570.25,254.38 V258.38" stroke="#df3f2f" stroke-width="1.1" fill="none" />
<path d="M572.25,256.38 H576.25 M574.25,254.38 V258.38" stroke="#df3f2f" stroke-width="1.1" fill="none" />
<path d="M573.14,256.38 H577.14 M575.14,254.38 V258.38" stroke="#df3f2f" stroke-width="1.1" fill="none" />
<path d="M574.02,256.38 H578.02 M576.02,254.38 V258.38" stroke="#df3f2f" stroke-width="1.1" fill="none" />
<path d="M575.80,256.38 H579.80 M577.80,254.38 V258.38" stroke="#df3f2f" stroke-width="1.1" fill="none" />
<path d="M576.69,256.38 H580.69 M578.69,254.38 V258.38" stroke="#df3f2f" stroke-width="1.1" fill="none" />
<path d="M578.03,256.38 H582.03 M580.03,254.38 V258.38" stroke="#df3f2f" stroke-width="1.1" fill="none" />
<path d="M581.14,256.38 H585.14 M583.14,254.38 V258.38" stroke="#df3f2f" stroke-width="1.1" fill="none" />
<path d="M587.59,274.06 H591.59 M589.59,272.06 V276.06" stroke="#df3f2f" stroke-width="1.0" fill="none" />
<path d="M591.14,274.06 H595.14 M593.14,272.06 V276.06" stroke="#df3f2f" stroke-width="1.0" fill="none" />
<path d="M592.83,274.06 H596.83 M594.83,272.06 V276.06" stroke="#df3f2f" stroke-width="1.0" fill="none" />
<path d="M595.72,274.06 H599.72 M597.72,272.06 V276.06" stroke="#df3f2f" stroke-width="1.0" fill="none" />
<path d="M602.26,274.06 H606.26 M604.26,272.06 V276.06" stroke="#df3f2f" stroke-width="1.0" fill="none" />
<path d="M618.93,274.06 H622.93 M620.93,272.06 V276.06" stroke="#df3f2f" stroke-width="1.0" fill="none" />
<path d="M636.71,274.06 H640.71 M638.71,272.06 V276.06" stroke="#df3f2f" stroke-width="1.0" fill="none" />
<text transform="translate(589.20,234.40) scale(1.1,1)" font-size="8.8" text-anchor="start" fill="#222" stroke="#222" stroke-width="0.22" >FBXO7</text>
<line x1="596.00" y1="242.40" x2="609.00" y2="242.40" stroke="#4a62b3" stroke-width="1.2" />
<path d="M600.00,242.40 H604.80 M602.40,240.00 V244.80" stroke="#4a62b3" stroke-width="1.2" fill="none" />
<line x1="596.00" y1="251.80" x2="609.00" y2="251.80" stroke="#df3f2f" stroke-width="1.2" />
<path d="M600.00,251.80 H604.80 M602.40,249.40 V254.20" stroke="#df3f2f" stroke-width="1.2" fill="none" />
<text transform="translate(609.50,245.00) scale(1.1,1)" font-size="8.8" text-anchor="start" fill="#222" stroke="#222" stroke-width="0.22" >Low</text>
<text transform="translate(633.90,245.00) scale(1.1,1)" font-size="8.8" text-anchor="start" fill="#222" stroke="#222" stroke-width="0.22" >(n=276)</text>
<text transform="translate(609.50,254.80) scale(1.1,1)" font-size="8.8" text-anchor="start" fill="#222" stroke="#222" stroke-width="0.22" >High</text>
<text transform="translate(633.90,254.80) scale(1.1,1)" font-size="8.8" text-anchor="start" fill="#222" stroke="#222" stroke-width="0.22" >(n=275)</text>
<text transform="translate(537.30,318.80) scale(1.0,1)" font-size="8.1" text-anchor="start" fill="#222" stroke="#222" stroke-width="0.08" >Overall Survival</text>
<text transform="translate(537.30,330.40) scale(1.0,1)" font-size="8.1" text-anchor="start" fill="#222" stroke="#222" stroke-width="0.08" >HR = 0.79 (0.52−1.19)</text>
<text transform="translate(537.30,341.40) scale(1.0,1)" font-size="8.1" text-anchor="start" fill="#222" stroke="#222" stroke-width="0.08" >P = 0.256</text>
<text transform="translate(1.30,410.80) scale(1.0,1)" font-size="18.3" text-anchor="start" fill="#111" stroke="#111" stroke-width="0.22" >H</text>
<line x1="59.47" y1="424.30" x2="59.47" y2="546.80" stroke="#ebebeb" stroke-width="0.6" />
<line x1="47.50" y1="534.67" x2="158.90" y2="534.67" stroke="#ebebeb" stroke-width="0.6" />
<line x1="70.44" y1="424.30" x2="70.44" y2="546.80" stroke="#ebebeb" stroke-width="0.9" />
<line x1="47.50" y1="522.54" x2="158.90" y2="522.54" stroke="#ebebeb" stroke-width="0.9" />
<line x1="81.41" y1="424.30" x2="81.41" y2="546.80" stroke="#ebebeb" stroke-width="0.6" />
<line x1="47.50" y1="510.41" x2="158.90" y2="510.41" stroke="#ebebeb" stroke-width="0.6" />
<line x1="92.38" y1="424.30" x2="92.38" y2="546.80" stroke="#ebebeb" stroke-width="0.9" />
<line x1="47.50" y1="498.28" x2="158.90" y2="498.28" stroke="#ebebeb" stroke-width="0.9" />
<line x1="103.35" y1="424.30" x2="103.35" y2="546.80" stroke="#ebebeb" stroke-width="0.6" />
<line x1="47.50" y1="486.15" x2="158.90" y2="486.15" stroke="#ebebeb" stroke-width="0.6" />
<line x1="114.32" y1="424.30" x2="114.32" y2="546.80" stroke="#ebebeb" stroke-width="0.9" />
<line x1="47.50" y1="474.02" x2="158.90" y2="474.02" stroke="#ebebeb" stroke-width="0.9" />
<line x1="125.29" y1="424.30" x2="125.29" y2="546.80" stroke="#ebebeb" stroke-width="0.6" />
<line x1="47.50" y1="461.89" x2="158.90" y2="461.89" stroke="#ebebeb" stroke-width="0.6" />
<line x1="136.26" y1="424.30" x2="136.26" y2="546.80" stroke="#ebebeb" stroke-width="0.9" />
<line x1="47.50" y1="449.76" x2="158.90" y2="449.76" stroke="#ebebeb" stroke-width="0.9" />
<line x1="147.23" y1="424.30" x2="147.23" y2="546.80" stroke="#ebebeb" stroke-width="0.6" />
<line x1="47.50" y1="437.63" x2="158.90" y2="437.63" stroke="#ebebeb" stroke-width="0.6" />
<line x1="48.50" y1="546.80" x2="158.20" y2="425.50" stroke="#b5b5b5" stroke-width="0.7" />
<path d="M48.50,546.80 V472.32 H53.77 V470.02 H58.48 V464.44 H67.70 V455.82 H72.30 V448.67 H86.79 V446.61 H91.39 V444.06 H96.00 V441.75 H105.87 V437.63 H111.14 V436.54 H115.42 V434.48 H120.68 V433.51 H134.50 V430.96 H139.77 V429.62 H155.35 V428.41 H158.20 V428.41" stroke="#5b6fb8" stroke-width="1.0" fill="none" />
<rect x="47.50" y="424.30" width="111.40" height="122.50" fill="none" stroke="#333" stroke-width="1.0" />
<line x1="43.90" y1="546.80" x2="47.50" y2="546.80" stroke="#333" stroke-width="1" />
<text transform="translate(41.50,550.10) scale(1.1,1)" font-size="9" text-anchor="end" fill="#111" stroke="#111" stroke-width="0.22" >0.0</text>
<line x1="48.50" y1="546.80" x2="48.50" y2="550.30" stroke="#333" stroke-width="1" />
<text transform="translate(48.50,560.60) scale(1.1,1)" font-size="9" text-anchor="middle" fill="#111" stroke="#111" stroke-width="0.22" >0.0</text>
<line x1="43.90" y1="522.54" x2="47.50" y2="522.54" stroke="#333" stroke-width="1" />
<text transform="translate(41.50,525.84) scale(1.1,1)" font-size="9" text-anchor="end" fill="#111" stroke="#111" stroke-width="0.22" >0.2</text>
<line x1="70.44" y1="546.80" x2="70.44" y2="550.30" stroke="#333" stroke-width="1" />
<text transform="translate(70.44,560.60) scale(1.1,1)" font-size="9" text-anchor="middle" fill="#111" stroke="#111" stroke-width="0.22" >0.2</text>
<line x1="43.90" y1="498.28" x2="47.50" y2="498.28" stroke="#333" stroke-width="1" />
<text transform="translate(41.50,501.58) scale(1.1,1)" font-size="9" text-anchor="end" fill="#111" stroke="#111" stroke-width="0.22" >0.4</text>
<line x1="92.38" y1="546.80" x2="92.38" y2="550.30" stroke="#333" stroke-width="1" />
<text transform="translate(92.38,560.60) scale(1.1,1)" font-size="9" text-anchor="middle" fill="#111" stroke="#111" stroke-width="0.22" >0.4</text>
<line x1="43.90" y1="474.02" x2="47.50" y2="474.02" stroke="#333" stroke-width="1" />
<text transform="translate(41.50,477.32) scale(1.1,1)" font-size="9" text-anchor="end" fill="#111" stroke="#111" stroke-width="0.22" >0.6</text>
<line x1="114.32" y1="546.80" x2="114.32" y2="550.30" stroke="#333" stroke-width="1" />
<text transform="translate(114.32,560.60) scale(1.1,1)" font-size="9" text-anchor="middle" fill="#111" stroke="#111" stroke-width="0.22" >0.6</text>
<line x1="43.90" y1="449.76" x2="47.50" y2="449.76" stroke="#333" stroke-width="1" />
<text transform="translate(41.50,453.06) scale(1.1,1)" font-size="9" text-anchor="end" fill="#111" stroke="#111" stroke-width="0.22" >0.8</text>
<line x1="136.26" y1="546.80" x2="136.26" y2="550.30" stroke="#333" stroke-width="1" />
<text transform="translate(136.26,560.60) scale(1.1,1)" font-size="9" text-anchor="middle" fill="#111" stroke="#111" stroke-width="0.22" >0.8</text>
<line x1="43.90" y1="425.50" x2="47.50" y2="425.50" stroke="#333" stroke-width="1" />
<text transform="translate(41.50,428.80) scale(1.1,1)" font-size="9" text-anchor="end" fill="#111" stroke="#111" stroke-width="0.22" >1.0</text>
<line x1="158.20" y1="546.80" x2="158.20" y2="550.30" stroke="#333" stroke-width="1" />
<text transform="translate(158.20,560.60) scale(1.1,1)" font-size="9" text-anchor="middle" fill="#111" stroke="#111" stroke-width="0.22" >1.0</text>
<text transform="translate(156.70,519.80) scale(1.0,1)" font-size="8.1" text-anchor="end" fill="#222" stroke="#222" stroke-width="0.08" >FBXO7</text>
<text transform="translate(156.70,531.10) scale(1.0,1)" font-size="8.1" text-anchor="end" fill="#222" stroke="#222" stroke-width="0.08" >AUC: 0.852</text>
<text transform="translate(156.70,542.40) scale(1.0,1)" font-size="8.1" text-anchor="end" fill="#222" stroke="#222" stroke-width="0.08" >CI: 0.802−0.903</text>
<text transform="translate(103.20,572.70) scale(1.06,1)" font-size="9" text-anchor="middle" fill="#111" stroke="#111" stroke-width="0.22" >1−Specificity (FPR)</text>
<text transform="translate(103.20,586.60) scale(1.1,1)" font-size="9" text-anchor="middle" fill="#111" stroke="#111" stroke-width="0.22" >Normal (n=23) vs. Tumor (n=546)</text>
<text transform="translate(103.20,598.30) scale(1.1,1)" font-size="9" text-anchor="middle" fill="#111" stroke="#111" stroke-width="0.22" >TCGA samples</text>
<text transform="translate(21.70,485.50) rotate(-90) scale(1.1,1)" font-size="9" text-anchor="middle" fill="#111" stroke="#111" stroke-width="0.22" >Sensitivity (TPR)</text>
<text transform="translate(179.50,410.80) scale(1.0,1)" font-size="18.3" text-anchor="start" fill="#111" stroke="#111" stroke-width="0.22" >I</text>
<line x1="228.47" y1="424.30" x2="228.47" y2="546.80" stroke="#ebebeb" stroke-width="0.6" />
<line x1="216.30" y1="534.67" x2="327.50" y2="534.67" stroke="#ebebeb" stroke-width="0.6" />
<line x1="239.44" y1="424.30" x2="239.44" y2="546.80" stroke="#ebebeb" stroke-width="0.9" />
<line x1="216.30" y1="522.54" x2="327.50" y2="522.54" stroke="#ebebeb" stroke-width="0.9" />
<line x1="250.41" y1="424.30" x2="250.41" y2="546.80" stroke="#ebebeb" stroke-width="0.6" />
<line x1="216.30" y1="510.41" x2="327.50" y2="510.41" stroke="#ebebeb" stroke-width="0.6" />
<line x1="261.38" y1="424.30" x2="261.38" y2="546.80" stroke="#ebebeb" stroke-width="0.9" />
<line x1="216.30" y1="498.28" x2="327.50" y2="498.28" stroke="#ebebeb" stroke-width="0.9" />
<line x1="272.35" y1="424.30" x2="272.35" y2="546.80" stroke="#ebebeb" stroke-width="0.6" />
<line x1="216.30" y1="486.15" x2="327.50" y2="486.15" stroke="#ebebeb" stroke-width="0.6" />
<line x1="283.32" y1="424.30" x2="283.32" y2="546.80" stroke="#ebebeb" stroke-width="0.9" />
<line x1="216.30" y1="474.02" x2="327.50" y2="474.02" stroke="#ebebeb" stroke-width="0.9" />
<line x1="294.29" y1="424.30" x2="294.29" y2="546.80" stroke="#ebebeb" stroke-width="0.6" />
<line x1="216.30" y1="461.89" x2="327.50" y2="461.89" stroke="#ebebeb" stroke-width="0.6" />
<line x1="305.26" y1="424.30" x2="305.26" y2="546.80" stroke="#ebebeb" stroke-width="0.9" />
<line x1="216.30" y1="449.76" x2="327.50" y2="449.76" stroke="#ebebeb" stroke-width="0.9" />
<line x1="316.23" y1="424.30" x2="316.23" y2="546.80" stroke="#ebebeb" stroke-width="0.6" />
<line x1="216.30" y1="437.63" x2="327.50" y2="437.63" stroke="#ebebeb" stroke-width="0.6" />
<line x1="217.50" y1="546.80" x2="327.20" y2="425.50" stroke="#b5b5b5" stroke-width="0.7" />
<path d="M217.50,546.80 V515.63 H220.57 V477.90 H224.52 V476.45 H227.59 V475.23 H228.25 V472.81 H231.43 V462.01 H238.67 V458.49 H242.73 V453.88 H252.60 V452.67 H256.66 V450.00 H263.35 V447.82 H270.38 V445.15 H277.29 V443.09 H281.35 V437.87 H288.70 V437.02 H298.79 V435.57 H309.87 V434.23 H321.28 V433.02 H327.20 V433.02" stroke="#5b6fb8" stroke-width="1.0" fill="none" />
<rect x="216.30" y="424.30" width="111.20" height="122.50" fill="none" stroke="#333" stroke-width="1.0" />
<line x1="212.70" y1="546.80" x2="216.30" y2="546.80" stroke="#333" stroke-width="1" />
<text transform="translate(210.30,550.10) scale(1.1,1)" font-size="9" text-anchor="end" fill="#111" stroke="#111" stroke-width="0.22" >0.0</text>
<line x1="217.50" y1="546.80" x2="217.50" y2="550.30" stroke="#333" stroke-width="1" />
<text transform="translate(217.50,560.60) scale(1.1,1)" font-size="9" text-anchor="middle" fill="#111" stroke="#111" stroke-width="0.22" >0.0</text>
<line x1="212.70" y1="522.54" x2="216.30" y2="522.54" stroke="#333" stroke-width="1" />
<text transform="translate(210.30,525.84) scale(1.1,1)" font-size="9" text-anchor="end" fill="#111" stroke="#111" stroke-width="0.22" >0.2</text>
<line x1="239.44" y1="546.80" x2="239.44" y2="550.30" stroke="#333" stroke-width="1" />
<text transform="translate(239.44,560.60) scale(1.1,1)" font-size="9" text-anchor="middle" fill="#111" stroke="#111" stroke-width="0.22" >0.2</text>
<line x1="212.70" y1="498.28" x2="216.30" y2="498.28" stroke="#333" stroke-width="1" />
<text transform="translate(210.30,501.58) scale(1.1,1)" font-size="9" text-anchor="end" fill="#111" stroke="#111" stroke-width="0.22" >0.4</text>
<line x1="261.38" y1="546.80" x2="261.38" y2="550.30" stroke="#333" stroke-width="1" />
<text transform="translate(261.38,560.60) scale(1.1,1)" font-size="9" text-anchor="middle" fill="#111" stroke="#111" stroke-width="0.22" >0.4</text>
<line x1="212.70" y1="474.02" x2="216.30" y2="474.02" stroke="#333" stroke-width="1" />
<text transform="translate(210.30,477.32) scale(1.1,1)" font-size="9" text-anchor="end" fill="#111" stroke="#111" stroke-width="0.22" >0.6</text>
<line x1="283.32" y1="546.80" x2="283.32" y2="550.30" stroke="#333" stroke-width="1" />
<text transform="translate(283.32,560.60) scale(1.1,1)" font-size="9" text-anchor="middle" fill="#111" stroke="#111" stroke-width="0.22" >0.6</text>
<line x1="212.70" y1="449.76" x2="216.30" y2="449.76" stroke="#333" stroke-width="1" />
<text transform="translate(210.30,453.06) scale(1.1,1)" font-size="9" text-anchor="end" fill="#111" stroke="#111" stroke-width="0.22" >0.8</text>
<line x1="305.26" y1="546.80" x2="305.26" y2="550.30" stroke="#333" stroke-width="1" />
<text transform="translate(305.26,560.60) scale(1.1,1)" font-size="9" text-anchor="middle" fill="#111" stroke="#111" stroke-width="0.22" >0.8</text>
<line x1="212.70" y1="425.50" x2="216.30" y2="425.50" stroke="#333" stroke-width="1" />
<text transform="translate(210.30,428.80) scale(1.1,1)" font-size="9" text-anchor="end" fill="#111" stroke="#111" stroke-width="0.22" >1.0</text>
<line x1="327.20" y1="546.80" x2="327.20" y2="550.30" stroke="#333" stroke-width="1" />
<text transform="translate(327.20,560.60) scale(1.1,1)" font-size="9" text-anchor="middle" fill="#111" stroke="#111" stroke-width="0.22" >1.0</text>
<text transform="translate(325.30,519.80) scale(1.0,1)" font-size="8.1" text-anchor="end" fill="#222" stroke="#222" stroke-width="0.08" >FBXO7</text>
<text transform="translate(325.30,531.10) scale(1.0,1)" font-size="8.1" text-anchor="end" fill="#222" stroke="#222" stroke-width="0.08" >AUC: 0.806</text>
<text transform="translate(325.30,542.40) scale(1.0,1)" font-size="8.1" text-anchor="end" fill="#222" stroke="#222" stroke-width="0.08" >CI: 0.729−0.883</text>
<text transform="translate(271.90,572.70) scale(1.06,1)" font-size="9" text-anchor="middle" fill="#111" stroke="#111" stroke-width="0.22" >1−Specificity (FPR)</text>
<text transform="translate(271.90,586.60) scale(1.1,1)" font-size="9" text-anchor="middle" fill="#111" stroke="#111" stroke-width="0.22" >Normal (n=30) vs. Tumor (n=100)</text>
<text transform="translate(271.90,598.30) scale(1.1,1)" font-size="9" text-anchor="middle" fill="#111" stroke="#111" stroke-width="0.22" >CPTAC samples</text>
<text transform="translate(190.50,485.50) rotate(-90) scale(1.1,1)" font-size="9" text-anchor="middle" fill="#111" stroke="#111" stroke-width="0.22" >Sensitivity (TPR)</text>
<text transform="translate(345.60,410.80) scale(1.0,1)" font-size="18.3" text-anchor="start" fill="#111" stroke="#111" stroke-width="0.22" >J</text>
<line x1="399.47" y1="424.30" x2="399.47" y2="546.80" stroke="#ebebeb" stroke-width="0.6" />
<line x1="387.50" y1="534.67" x2="498.90" y2="534.67" stroke="#ebebeb" stroke-width="0.6" />
<line x1="410.44" y1="424.30" x2="410.44" y2="546.80" stroke="#ebebeb" stroke-width="0.9" />
<line x1="387.50" y1="522.54" x2="498.90" y2="522.54" stroke="#ebebeb" stroke-width="0.9" />
<line x1="421.41" y1="424.30" x2="421.41" y2="546.80" stroke="#ebebeb" stroke-width="0.6" />
<line x1="387.50" y1="510.41" x2="498.90" y2="510.41" stroke="#ebebeb" stroke-width="0.6" />
<line x1="432.38" y1="424.30" x2="432.38" y2="546.80" stroke="#ebebeb" stroke-width="0.9" />
<line x1="387.50" y1="498.28" x2="498.90" y2="498.28" stroke="#ebebeb" stroke-width="0.9" />
<line x1="443.35" y1="424.30" x2="443.35" y2="546.80" stroke="#ebebeb" stroke-width="0.6" />
<line x1="387.50" y1="486.15" x2="498.90" y2="486.15" stroke="#ebebeb" stroke-width="0.6" />
<line x1="454.32" y1="424.30" x2="454.32" y2="546.80" stroke="#ebebeb" stroke-width="0.9" />
<line x1="387.50" y1="474.02" x2="498.90" y2="474.02" stroke="#ebebeb" stroke-width="0.9" />
<line x1="465.29" y1="424.30" x2="465.29" y2="546.80" stroke="#ebebeb" stroke-width="0.6" />
<line x1="387.50" y1="461.89" x2="498.90" y2="461.89" stroke="#ebebeb" stroke-width="0.6" />
<line x1="476.26" y1="424.30" x2="476.26" y2="546.80" stroke="#ebebeb" stroke-width="0.9" />
<line x1="387.50" y1="449.76" x2="498.90" y2="449.76" stroke="#ebebeb" stroke-width="0.9" />
<line x1="487.23" y1="424.30" x2="487.23" y2="546.80" stroke="#ebebeb" stroke-width="0.6" />
<line x1="387.50" y1="437.63" x2="498.90" y2="437.63" stroke="#ebebeb" stroke-width="0.6" />
<line x1="388.50" y1="546.80" x2="498.20" y2="425.50" stroke="#b5b5b5" stroke-width="0.7" />
<path d="M388.50,546.80 V470.38 H393.66 V467.71 H398.48 V462.01 H407.59 V454.73 H412.41 V447.82 H426.35 V445.64 H431.61 V442.12 H436.88 V439.93 H445.87 V436.17 H454.87 V433.38 H459.81 V432.41 H473.63 V430.72 H478.45 V429.14 H498.20 V429.14" stroke="#5b6fb8" stroke-width="1.0" fill="none" />
<rect x="387.50" y="424.30" width="111.40" height="122.50" fill="none" stroke="#333" stroke-width="1.0" />
<line x1="383.90" y1="546.80" x2="387.50" y2="546.80" stroke="#333" stroke-width="1" />
<text transform="translate(381.50,550.10) scale(1.1,1)" font-size="9" text-anchor="end" fill="#111" stroke="#111" stroke-width="0.22" >0.0</text>
<line x1="388.50" y1="546.80" x2="388.50" y2="550.30" stroke="#333" stroke-width="1" />
<text transform="translate(388.50,560.60) scale(1.1,1)" font-size="9" text-anchor="middle" fill="#111" stroke="#111" stroke-width="0.22" >0.0</text>
<line x1="383.90" y1="522.54" x2="387.50" y2="522.54" stroke="#333" stroke-width="1" />
<text transform="translate(381.50,525.84) scale(1.1,1)" font-size="9" text-anchor="end" fill="#111" stroke="#111" stroke-width="0.22" >0.2</text>
<line x1="410.44" y1="546.80" x2="410.44" y2="550.30" stroke="#333" stroke-width="1" />
<text transform="translate(410.44,560.60) scale(1.1,1)" font-size="9" text-anchor="middle" fill="#111" stroke="#111" stroke-width="0.22" >0.2</text>
<line x1="383.90" y1="498.28" x2="387.50" y2="498.28" stroke="#333" stroke-width="1" />
<text transform="translate(381.50,501.58) scale(1.1,1)" font-size="9" text-anchor="end" fill="#111" stroke="#111" stroke-width="0.22" >0.4</text>
<line x1="432.38" y1="546.80" x2="432.38" y2="550.30" stroke="#333" stroke-width="1" />
<text transform="translate(432.38,560.60) scale(1.1,1)" font-size="9" text-anchor="middle" fill="#111" stroke="#111" stroke-width="0.22" >0.4</text>
<line x1="383.90" y1="474.02" x2="387.50" y2="474.02" stroke="#333" stroke-width="1" />
<text transform="translate(381.50,477.32) scale(1.1,1)" font-size="9" text-anchor="end" fill="#111" stroke="#111" stroke-width="0.22" >0.6</text>
<line x1="454.32" y1="546.80" x2="454.32" y2="550.30" stroke="#333" stroke-width="1" />
<text transform="translate(454.32,560.60) scale(1.1,1)" font-size="9" text-anchor="middle" fill="#111" stroke="#111" stroke-width="0.22" >0.6</text>
<line x1="383.90" y1="449.76" x2="387.50" y2="449.76" stroke="#333" stroke-width="1" />
<text transform="translate(381.50,453.06) scale(1.1,1)" font-size="9" text-anchor="end" fill="#111" stroke="#111" stroke-width="0.22" >0.8</text>
<line x1="476.26" y1="546.80" x2="476.26" y2="550.30" stroke="#333" stroke-width="1" />
<text transform="translate(476.26,560.60) scale(1.1,1)" font-size="9" text-anchor="middle" fill="#111" stroke="#111" stroke-width="0.22" >0.8</text>
<line x1="383.90" y1="425.50" x2="387.50" y2="425.50" stroke="#333" stroke-width="1" />
<text transform="translate(381.50,428.80) scale(1.1,1)" font-size="9" text-anchor="end" fill="#111" stroke="#111" stroke-width="0.22" >1.0</text>
<line x1="498.20" y1="546.80" x2="498.20" y2="550.30" stroke="#333" stroke-width="1" />
<text transform="translate(498.20,560.60) scale(1.1,1)" font-size="9" text-anchor="middle" fill="#111" stroke="#111" stroke-width="0.22" >1.0</text>
<text transform="translate(496.70,519.80) scale(1.0,1)" font-size="8.1" text-anchor="end" fill="#222" stroke="#222" stroke-width="0.08" >FBXO7</text>
<text transform="translate(496.70,531.10) scale(1.0,1)" font-size="8.1" text-anchor="end" fill="#222" stroke="#222" stroke-width="0.08" >AUC: 0.867</text>
<text transform="translate(496.70,542.40) scale(1.0,1)" font-size="8.1" text-anchor="end" fill="#222" stroke="#222" stroke-width="0.08" >CI: 0.815−0.918</text>
<text transform="translate(443.20,572.70) scale(1.06,1)" font-size="9" text-anchor="middle" fill="#111" stroke="#111" stroke-width="0.22" >1−Specificity (FPR)</text>
<text transform="translate(443.20,586.60) scale(1.1,1)" font-size="9" text-anchor="middle" fill="#111" stroke="#111" stroke-width="0.22" >Normal (n=23) vs. Stage I (n=342)</text>
<text transform="translate(443.20,598.30) scale(1.1,1)" font-size="9" text-anchor="middle" fill="#111" stroke="#111" stroke-width="0.22" >TCGA samples</text>
<text transform="translate(361.70,485.50) rotate(-90) scale(1.1,1)" font-size="9" text-anchor="middle" fill="#111" stroke="#111" stroke-width="0.22" >Sensitivity (TPR)</text>
<text transform="translate(508.50,410.80) scale(1.0,1)" font-size="18.3" text-anchor="start" fill="#111" stroke="#111" stroke-width="0.22" >K</text>
<line x1="566.47" y1="424.30" x2="566.47" y2="546.80" stroke="#ebebeb" stroke-width="0.6" />
<line x1="554.50" y1="534.67" x2="665.90" y2="534.67" stroke="#ebebeb" stroke-width="0.6" />
<line x1="577.44" y1="424.30" x2="577.44" y2="546.80" stroke="#ebebeb" stroke-width="0.9" />
<line x1="554.50" y1="522.54" x2="665.90" y2="522.54" stroke="#ebebeb" stroke-width="0.9" />
<line x1="588.41" y1="424.30" x2="588.41" y2="546.80" stroke="#ebebeb" stroke-width="0.6" />
<line x1="554.50" y1="510.41" x2="665.90" y2="510.41" stroke="#ebebeb" stroke-width="0.6" />
<line x1="599.38" y1="424.30" x2="599.38" y2="546.80" stroke="#ebebeb" stroke-width="0.9" />
<line x1="554.50" y1="498.28" x2="665.90" y2="498.28" stroke="#ebebeb" stroke-width="0.9" />
<line x1="610.35" y1="424.30" x2="610.35" y2="546.80" stroke="#ebebeb" stroke-width="0.6" />
<line x1="554.50" y1="486.15" x2="665.90" y2="486.15" stroke="#ebebeb" stroke-width="0.6" />
<line x1="621.32" y1="424.30" x2="621.32" y2="546.80" stroke="#ebebeb" stroke-width="0.9" />
<line x1="554.50" y1="474.02" x2="665.90" y2="474.02" stroke="#ebebeb" stroke-width="0.9" />
<line x1="632.29" y1="424.30" x2="632.29" y2="546.80" stroke="#ebebeb" stroke-width="0.6" />
<line x1="554.50" y1="461.89" x2="665.90" y2="461.89" stroke="#ebebeb" stroke-width="0.6" />
<line x1="643.26" y1="424.30" x2="643.26" y2="546.80" stroke="#ebebeb" stroke-width="0.9" />
<line x1="554.50" y1="449.76" x2="665.90" y2="449.76" stroke="#ebebeb" stroke-width="0.9" />
<line x1="654.23" y1="424.30" x2="654.23" y2="546.80" stroke="#ebebeb" stroke-width="0.6" />
<line x1="554.50" y1="437.63" x2="665.90" y2="437.63" stroke="#ebebeb" stroke-width="0.6" />
<line x1="555.50" y1="546.80" x2="665.20" y2="425.50" stroke="#b5b5b5" stroke-width="0.7" />
<path d="M555.50,546.80 V510.77 H559.12 V475.23 H562.19 V472.08 H566.25 V470.02 H569.54 V455.58 H576.45 V452.06 H580.84 V445.64 H594.77 V443.94 H601.68 V442.60 H608.59 V440.78 H616.16 V438.24 H619.56 V435.93 H626.59 V433.99 H658.29 V432.66 H665.20 V432.66" stroke="#5b6fb8" stroke-width="1.0" fill="none" />
<rect x="554.50" y="424.30" width="111.40" height="122.50" fill="none" stroke="#333" stroke-width="1.0" />
<line x1="550.90" y1="546.80" x2="554.50" y2="546.80" stroke="#333" stroke-width="1" />
<text transform="translate(548.50,550.10) scale(1.1,1)" font-size="9" text-anchor="end" fill="#111" stroke="#111" stroke-width="0.22" >0.0</text>
<line x1="555.50" y1="546.80" x2="555.50" y2="550.30" stroke="#333" stroke-width="1" />
<text transform="translate(555.50,560.60) scale(1.1,1)" font-size="9" text-anchor="middle" fill="#111" stroke="#111" stroke-width="0.22" >0.0</text>
<line x1="550.90" y1="522.54" x2="554.50" y2="522.54" stroke="#333" stroke-width="1" />
<text transform="translate(548.50,525.84) scale(1.1,1)" font-size="9" text-anchor="end" fill="#111" stroke="#111" stroke-width="0.22" >0.2</text>
<line x1="577.44" y1="546.80" x2="577.44" y2="550.30" stroke="#333" stroke-width="1" />
<text transform="translate(577.44,560.60) scale(1.1,1)" font-size="9" text-anchor="middle" fill="#111" stroke="#111" stroke-width="0.22" >0.2</text>
<line x1="550.90" y1="498.28" x2="554.50" y2="498.28" stroke="#333" stroke-width="1" />
<text transform="translate(548.50,501.58) scale(1.1,1)" font-size="9" text-anchor="end" fill="#111" stroke="#111" stroke-width="0.22" >0.4</text>
<line x1="599.38" y1="546.80" x2="599.38" y2="550.30" stroke="#333" stroke-width="1" />
<text transform="translate(599.38,560.60) scale(1.1,1)" font-size="9" text-anchor="middle" fill="#111" stroke="#111" stroke-width="0.22" >0.4</text>
<line x1="550.90" y1="474.02" x2="554.50" y2="474.02" stroke="#333" stroke-width="1" />
<text transform="translate(548.50,477.32) scale(1.1,1)" font-size="9" text-anchor="end" fill="#111" stroke="#111" stroke-width="0.22" >0.6</text>
<line x1="621.32" y1="546.80" x2="621.32" y2="550.30" stroke="#333" stroke-width="1" />
<text transform="translate(621.32,560.60) scale(1.1,1)" font-size="9" text-anchor="middle" fill="#111" stroke="#111" stroke-width="0.22" >0.6</text>
<line x1="550.90" y1="449.76" x2="554.50" y2="449.76" stroke="#333" stroke-width="1" />
<text transform="translate(548.50,453.06) scale(1.1,1)" font-size="9" text-anchor="end" fill="#111" stroke="#111" stroke-width="0.22" >0.8</text>
<line x1="643.26" y1="546.80" x2="643.26" y2="550.30" stroke="#333" stroke-width="1" />
<text transform="translate(643.26,560.60) scale(1.1,1)" font-size="9" text-anchor="middle" fill="#111" stroke="#111" stroke-width="0.22" >0.8</text>
<line x1="550.90" y1="425.50" x2="554.50" y2="425.50" stroke="#333" stroke-width="1" />
<text transform="translate(548.50,428.80) scale(1.1,1)" font-size="9" text-anchor="end" fill="#111" stroke="#111" stroke-width="0.22" >1.0</text>
<line x1="665.20" y1="546.80" x2="665.20" y2="550.30" stroke="#333" stroke-width="1" />
<text transform="translate(665.20,560.60) scale(1.1,1)" font-size="9" text-anchor="middle" fill="#111" stroke="#111" stroke-width="0.22" >1.0</text>
<text transform="translate(663.70,519.80) scale(1.0,1)" font-size="8.1" text-anchor="end" fill="#222" stroke="#222" stroke-width="0.08" >FBXO7</text>
<text transform="translate(663.70,531.10) scale(1.0,1)" font-size="8.1" text-anchor="end" fill="#222" stroke="#222" stroke-width="0.08" >AUC: 0.839</text>
<text transform="translate(663.70,542.40) scale(1.0,1)" font-size="8.1" text-anchor="end" fill="#222" stroke="#222" stroke-width="0.08" >CI: 0.761−0.918</text>
<text transform="translate(610.20,572.70) scale(1.06,1)" font-size="9" text-anchor="middle" fill="#111" stroke="#111" stroke-width="0.22" >1−Specificity (FPR)</text>
<text transform="translate(610.20,586.60) scale(1.1,1)" font-size="9" text-anchor="middle" fill="#111" stroke="#111" stroke-width="0.22" >Normal (n=30) vs. Stage I (n=74)</text>
<text transform="translate(610.20,598.30) scale(1.1,1)" font-size="9" text-anchor="middle" fill="#111" stroke="#111" stroke-width="0.22" >CPTAC samples</text>
<text transform="translate(528.70,485.50) rotate(-90) scale(1.1,1)" font-size="9" text-anchor="middle" fill="#111" stroke="#111" stroke-width="0.22" >Sensitivity (TPR)</text>
<text transform="translate(3.50,615.90) scale(1.0,1)" font-size="18.3" text-anchor="start" fill="#111" stroke="#111" stroke-width="0.22" >L</text>
<text transform="translate(100.80,625.00) scale(1.1,1)" font-size="9" text-anchor="middle" fill="#111" stroke="#111" stroke-width="0.22" >Negative</text>
<text transform="translate(255.90,625.00) scale(1.1,1)" font-size="9" text-anchor="middle" fill="#111" stroke="#111" stroke-width="0.22" >Low positive</text>
<text transform="translate(410.30,625.00) scale(1.1,1)" font-size="9" text-anchor="middle" fill="#111" stroke="#111" stroke-width="0.22" >Positive</text>
<text transform="translate(19.90,702.00) rotate(-90) scale(1.1,1)" font-size="9" text-anchor="middle" fill="#111" stroke="#111" stroke-width="0.22" >FBXO7</text>
<defs>
<clipPath id="c1"><rect x="25.9" y="630.8" width="150" height="149.2"/></clipPath>
<clipPath id="c2"><rect x="181.0" y="630.8" width="149.6" height="149.2"/></clipPath>
<clipPath id="c3"><rect x="336.2" y="630.8" width="149.8" height="149.2"/></clipPath>
<filter color-interpolation-filters="sRGB" id="spkD" x="0" y="0" width="1" height="1">
 <feTurbulence type="fractalNoise" baseFrequency="0.32 0.26" numOctaves="3" seed="4"/>
 <feColorMatrix type="matrix" values="0 0 0 0 0.2  0 0 0 0 0.31  0 0 0 0 0.6  4 0 0 0 -1.92"/>
</filter>
<filter color-interpolation-filters="sRGB" id="spkL" x="0" y="0" width="1" height="1">
 <feTurbulence type="fractalNoise" baseFrequency="0.3" numOctaves="2" seed="9"/>
 <feColorMatrix type="matrix" values="0 0 0 0 0.85  0 0 0 0 0.88  0 0 0 0 0.93  3.5 0 0 0 -1.8"/>
</filter>
<filter color-interpolation-filters="sRGB" id="spkN" x="0" y="0" width="1" height="1">
 <feTurbulence type="fractalNoise" baseFrequency="0.6" numOctaves="2" seed="21"/>
 <feColorMatrix type="matrix" values="0 0 0 0 0.17  0 0 0 0 0.27  0 0 0 0 0.57  4.5 0 0 0 -2.0"/>
</filter>
<filter color-interpolation-filters="sRGB" id="spkW3" x="0" y="0" width="1" height="1">
 <feTurbulence type="fractalNoise" baseFrequency="0.45" numOctaves="2" seed="33"/>
 <feColorMatrix type="matrix" values="0 0 0 0 0.88  0 0 0 0 0.9  0 0 0 0 0.94  4.5 0 0 0 -2.3"/>
</filter>
<filter color-interpolation-filters="sRGB" id="coarse" x="0" y="0" width="1" height="1">
 <feTurbulence type="fractalNoise" baseFrequency="0.07" numOctaves="2" seed="5"/>
 <feColorMatrix type="matrix" values="0 0 0 0 0.82  0 0 0 0 0.86  0 0 0 0 0.93  3 0 0 0 -1.3"/>
</filter>
<filter color-interpolation-filters="sRGB" id="coarseD" x="0" y="0" width="1" height="1">
 <feTurbulence type="fractalNoise" baseFrequency="0.09" numOctaves="2" seed="15"/>
 <feColorMatrix type="matrix" values="0 0 0 0 0.25  0 0 0 0 0.36  0 0 0 0 0.62  3 0 0 0 -1.35"/>
</filter>
<filter color-interpolation-filters="sRGB" id="rough" x="-20%" y="-20%" width="140%" height="140%">
 <feTurbulence type="fractalNoise" baseFrequency="0.25" numOctaves="2" seed="7" result="t"/>
 <feDisplacementMap in="SourceGraphic" in2="t" scale="4" xChannelSelector="R" yChannelSelector="G" result="d"/>
 <feGaussianBlur in="d" stdDeviation="0.5"/>
</filter>
<filter color-interpolation-filters="sRGB" id="desat1"><feColorMatrix type="saturate" values="0.85"/></filter>
<filter color-interpolation-filters="sRGB" id="desat2"><feColorMatrix type="saturate" values="0.6"/></filter>
<filter color-interpolation-filters="sRGB" id="desat3"><feColorMatrix type="saturate" values="0.75"/></filter>
<filter color-interpolation-filters="sRGB" id="soft" x="-20%" y="-20%" width="140%" height="140%"><feGaussianBlur stdDeviation="1.2"/></filter>
</defs>
<g clip-path="url(#c1)"><g filter="url(#desat1)">
<rect x="25.90" y="630.80" width="150.00" height="149.20" fill="#8eaad4" stroke="none" stroke-width="1" />
<rect x="25.9" y="630.8" width="150" height="149.2" filter="url(#coarse)" opacity="0.6"/>
<rect x="25.9" y="630.8" width="150" height="149.2" filter="url(#coarseD)" opacity="0.55"/>
<path d="M158.9,658.1 C158.1,659.7 155.6,661.3 149.3,662.4 C142.9,663.5 132.2,665.0 120.9,664.9 C109.6,664.7 92.9,662.8 81.3,661.5 C69.7,660.3 58.3,658.8 51.1,657.2 C44.0,655.5 37.2,653.2 38.2,651.8 C39.2,650.3 50.0,649.5 57.2,648.6 C64.5,647.7 71.4,646.5 81.8,646.4 C92.2,646.3 107.8,647.0 119.8,648.1 C131.8,649.1 147.3,650.9 153.9,652.6 C160.4,654.3 159.7,656.5 158.9,658.1Z" fill="#b9c8e2" filter="url(#rough)" opacity="0.55"/>
<path d="M172.5,716.8 C173.5,721.0 175.5,725.4 173.9,729.1 C172.3,732.8 167.2,735.7 163.0,739.2 C158.9,742.7 154.1,749.0 148.9,750.1 C143.7,751.3 135.4,749.1 132.0,746.3 C128.5,743.4 130.1,737.4 128.0,733.0 C126.0,728.6 119.1,724.4 119.8,719.8 C120.5,715.2 127.0,708.6 132.2,705.5 C137.4,702.4 145.1,701.3 151.0,701.1 C156.9,700.9 164.0,701.7 167.6,704.3 C171.1,706.9 171.4,712.7 172.5,716.8Z" fill="#b9c8e2" filter="url(#rough)" opacity="0.55"/>
<path d="M53.2,664.8 C52.0,666.2 50.5,666.9 48.5,667.8 C46.6,668.6 44.2,670.2 41.7,669.8 C39.2,669.4 36.0,666.9 33.6,665.3 C31.3,663.8 28.8,662.2 27.6,660.5 C26.4,658.8 25.7,656.4 26.4,655.0 C27.0,653.7 29.4,653.0 31.4,652.2 C33.4,651.4 35.6,650.1 38.3,650.4 C41.0,650.7 44.5,652.3 47.4,653.8 C50.3,655.3 54.7,657.6 55.7,659.4 C56.7,661.2 54.4,663.4 53.2,664.8Z" fill="#b9c8e2" filter="url(#rough)" opacity="0.55"/>
<path d="M132.2,705.0 C132.1,706.7 131.3,708.7 128.7,709.9 C126.1,711.2 121.1,712.1 116.8,712.6 C112.5,713.1 106.9,713.5 102.8,713.1 C98.8,712.6 94.6,711.0 92.5,709.6 C90.3,708.3 90.3,706.7 89.8,705.0 C89.2,703.3 87.0,700.9 89.0,699.5 C91.1,698.0 97.2,696.5 102.0,696.0 C106.8,695.5 113.1,695.8 117.6,696.5 C122.2,697.1 126.7,698.5 129.1,699.9 C131.5,701.4 132.2,703.3 132.2,705.0Z" fill="#b9c8e2" filter="url(#rough)" opacity="0.55"/>
<rect x="25.9" y="630.8" width="150" height="149.2" filter="url(#spkD)" opacity="0.72"/>
<rect x="25.9" y="630.8" width="150" height="149.2" filter="url(#spkL)" opacity="0.8"/>
<line x1="85.1" y1="650.4" x2="88.2" y2="652.0" stroke="#35559c" stroke-width="1.5" stroke-linecap="round" opacity="0.8"/>
<line x1="169.9" y1="661.0" x2="172.4" y2="661.5" stroke="#35559c" stroke-width="1.1" stroke-linecap="round" opacity="0.8"/>
<line x1="44.8" y1="670.8" x2="48.6" y2="672.1" stroke="#35559c" stroke-width="1.5" stroke-linecap="round" opacity="0.8"/>
<line x1="67.7" y1="652.0" x2="72.6" y2="652.0" stroke="#35559c" stroke-width="1.5" stroke-linecap="round" opacity="0.8"/>
<line x1="87.3" y1="647.1" x2="89.9" y2="648.5" stroke="#35559c" stroke-width="1.3" stroke-linecap="round" opacity="0.8"/>
<line x1="80.7" y1="659.0" x2="83.5" y2="659.4" stroke="#35559c" stroke-width="1.4" stroke-linecap="round" opacity="0.8"/>
<line x1="106.6" y1="650.3" x2="111.0" y2="649.4" stroke="#35559c" stroke-width="1.2" stroke-linecap="round" opacity="0.8"/>
<line x1="34.8" y1="653.4" x2="35.8" y2="657.9" stroke="#35559c" stroke-width="1.4" stroke-linecap="round" opacity="0.8"/>
<line x1="173.1" y1="650.0" x2="176.4" y2="649.6" stroke="#35559c" stroke-width="1.2" stroke-linecap="round" opacity="0.8"/>
<line x1="69.1" y1="655.7" x2="71.8" y2="657.3" stroke="#35559c" stroke-width="1.4" stroke-linecap="round" opacity="0.8"/>
<line x1="110.6" y1="664.5" x2="114.6" y2="662.1" stroke="#35559c" stroke-width="1.1" stroke-linecap="round" opacity="0.8"/>
<line x1="163.8" y1="660.8" x2="166.9" y2="660.7" stroke="#35559c" stroke-width="1.1" stroke-linecap="round" opacity="0.8"/>
<line x1="170.2" y1="709.0" x2="173.9" y2="710.7" stroke="#35559c" stroke-width="1.3" stroke-linecap="round" opacity="0.8"/>
<line x1="63.0" y1="663.8" x2="66.0" y2="662.9" stroke="#35559c" stroke-width="1.4" stroke-linecap="round" opacity="0.8"/>
<line x1="153.4" y1="657.0" x2="157.7" y2="656.4" stroke="#35559c" stroke-width="1.0" stroke-linecap="round" opacity="0.8"/>
<line x1="122.9" y1="661.1" x2="126.9" y2="661.6" stroke="#35559c" stroke-width="1.2" stroke-linecap="round" opacity="0.8"/>
<line x1="33.7" y1="644.9" x2="36.2" y2="646.0" stroke="#35559c" stroke-width="1.1" stroke-linecap="round" opacity="0.8"/>
<line x1="124.7" y1="647.9" x2="128.0" y2="648.9" stroke="#35559c" stroke-width="1.5" stroke-linecap="round" opacity="0.8"/>
<line x1="53.7" y1="663.3" x2="56.2" y2="664.0" stroke="#35559c" stroke-width="1.0" stroke-linecap="round" opacity="0.8"/>
<line x1="55.6" y1="670.6" x2="58.0" y2="671.4" stroke="#35559c" stroke-width="1.4" stroke-linecap="round" opacity="0.8"/>
<line x1="156.3" y1="716.4" x2="160.1" y2="715.4" stroke="#35559c" stroke-width="1.4" stroke-linecap="round" opacity="0.8"/>
<line x1="56.4" y1="663.1" x2="60.5" y2="664.9" stroke="#35559c" stroke-width="1.5" stroke-linecap="round" opacity="0.8"/>
<line x1="137.3" y1="661.9" x2="141.7" y2="662.6" stroke="#35559c" stroke-width="1.5" stroke-linecap="round" opacity="0.8"/>
<line x1="149.8" y1="720.5" x2="152.7" y2="717.7" stroke="#35559c" stroke-width="1.4" stroke-linecap="round" opacity="0.8"/>
<line x1="132.5" y1="663.3" x2="135.8" y2="664.4" stroke="#35559c" stroke-width="1.4" stroke-linecap="round" opacity="0.8"/>
<line x1="138.3" y1="743.0" x2="139.9" y2="740.8" stroke="#35559c" stroke-width="1.5" stroke-linecap="round" opacity="0.8"/>
<line x1="127.9" y1="654.7" x2="131.6" y2="654.6" stroke="#35559c" stroke-width="1.4" stroke-linecap="round" opacity="0.8"/>
<line x1="36.3" y1="644.0" x2="38.2" y2="646.6" stroke="#35559c" stroke-width="1.4" stroke-linecap="round" opacity="0.8"/>
<line x1="77.4" y1="663.0" x2="81.9" y2="661.6" stroke="#35559c" stroke-width="1.2" stroke-linecap="round" opacity="0.8"/>
<line x1="121.6" y1="723.2" x2="124.6" y2="719.9" stroke="#35559c" stroke-width="1.5" stroke-linecap="round" opacity="0.8"/>
<line x1="41.2" y1="660.1" x2="44.7" y2="661.4" stroke="#35559c" stroke-width="1.5" stroke-linecap="round" opacity="0.8"/>
<line x1="56.0" y1="669.7" x2="58.6" y2="671.6" stroke="#35559c" stroke-width="1.1" stroke-linecap="round" opacity="0.8"/>
<line x1="127.1" y1="712.2" x2="129.2" y2="709.2" stroke="#35559c" stroke-width="1.2" stroke-linecap="round" opacity="0.8"/>
<line x1="68.2" y1="656.4" x2="70.2" y2="658.1" stroke="#35559c" stroke-width="1.0" stroke-linecap="round" opacity="0.8"/>
<line x1="25.6" y1="663.8" x2="30.0" y2="664.5" stroke="#35559c" stroke-width="1.0" stroke-linecap="round" opacity="0.8"/>
<line x1="110.5" y1="646.9" x2="115.0" y2="646.0" stroke="#35559c" stroke-width="1.1" stroke-linecap="round" opacity="0.8"/>
<line x1="63.7" y1="658.4" x2="67.2" y2="656.2" stroke="#35559c" stroke-width="1.5" stroke-linecap="round" opacity="0.8"/>
<line x1="54.6" y1="649.3" x2="57.6" y2="651.4" stroke="#35559c" stroke-width="1.1" stroke-linecap="round" opacity="0.8"/>
<line x1="113.1" y1="658.8" x2="116.5" y2="658.9" stroke="#35559c" stroke-width="1.4" stroke-linecap="round" opacity="0.8"/>
<line x1="148.8" y1="738.0" x2="152.3" y2="737.6" stroke="#35559c" stroke-width="1.5" stroke-linecap="round" opacity="0.8"/>
<line x1="28.2" y1="669.5" x2="31.5" y2="670.9" stroke="#35559c" stroke-width="1.4" stroke-linecap="round" opacity="0.8"/>
<line x1="40.3" y1="659.8" x2="44.9" y2="661.0" stroke="#35559c" stroke-width="1.5" stroke-linecap="round" opacity="0.8"/>
<line x1="44.5" y1="661.3" x2="48.3" y2="663.9" stroke="#35559c" stroke-width="1.4" stroke-linecap="round" opacity="0.8"/>
<line x1="121.7" y1="744.4" x2="126.5" y2="745.6" stroke="#35559c" stroke-width="1.6" stroke-linecap="round" opacity="0.8"/>
<line x1="160.6" y1="715.5" x2="163.8" y2="716.5" stroke="#35559c" stroke-width="1.0" stroke-linecap="round" opacity="0.8"/>
<line x1="122.2" y1="660.6" x2="125.5" y2="659.0" stroke="#35559c" stroke-width="1.0" stroke-linecap="round" opacity="0.8"/>
<line x1="27.0" y1="665.4" x2="30.7" y2="667.8" stroke="#35559c" stroke-width="1.1" stroke-linecap="round" opacity="0.8"/>
<line x1="117.7" y1="658.6" x2="122.2" y2="659.5" stroke="#35559c" stroke-width="1.4" stroke-linecap="round" opacity="0.8"/>
<line x1="46.2" y1="669.5" x2="49.2" y2="671.8" stroke="#35559c" stroke-width="1.2" stroke-linecap="round" opacity="0.8"/>
<line x1="149.9" y1="726.8" x2="154.4" y2="725.5" stroke="#35559c" stroke-width="1.3" stroke-linecap="round" opacity="0.8"/>
<line x1="101.9" y1="661.0" x2="106.5" y2="661.5" stroke="#35559c" stroke-width="1.6" stroke-linecap="round" opacity="0.8"/>
<line x1="146.2" y1="711.1" x2="149.4" y2="708.9" stroke="#35559c" stroke-width="1.3" stroke-linecap="round" opacity="0.8"/>
<line x1="110.4" y1="750.2" x2="113.3" y2="746.7" stroke="#35559c" stroke-width="1.3" stroke-linecap="round" opacity="0.8"/>
<line x1="153.9" y1="704.2" x2="157.3" y2="702.4" stroke="#35559c" stroke-width="1.2" stroke-linecap="round" opacity="0.8"/>
<line x1="64.9" y1="651.8" x2="68.4" y2="652.7" stroke="#35559c" stroke-width="1.5" stroke-linecap="round" opacity="0.8"/>
<line x1="45.6" y1="652.9" x2="48.3" y2="654.2" stroke="#35559c" stroke-width="1.4" stroke-linecap="round" opacity="0.8"/>
<line x1="30.5" y1="665.1" x2="32.9" y2="667.0" stroke="#35559c" stroke-width="1.4" stroke-linecap="round" opacity="0.8"/>
<line x1="99.8" y1="657.2" x2="102.6" y2="657.1" stroke="#35559c" stroke-width="1.4" stroke-linecap="round" opacity="0.8"/>
<line x1="117.4" y1="650.4" x2="121.0" y2="650.6" stroke="#35559c" stroke-width="1.2" stroke-linecap="round" opacity="0.8"/>
<line x1="120.0" y1="648.4" x2="122.8" y2="649.3" stroke="#35559c" stroke-width="1.4" stroke-linecap="round" opacity="0.8"/>
<line x1="144.2" y1="743.9" x2="145.7" y2="741.2" stroke="#35559c" stroke-width="1.4" stroke-linecap="round" opacity="0.8"/>
<line x1="64.1" y1="653.5" x2="67.4" y2="653.5" stroke="#35559c" stroke-width="1.6" stroke-linecap="round" opacity="0.8"/>
<line x1="173.7" y1="661.8" x2="178.0" y2="662.2" stroke="#35559c" stroke-width="1.2" stroke-linecap="round" opacity="0.8"/>
<line x1="154.3" y1="653.4" x2="158.8" y2="653.8" stroke="#35559c" stroke-width="1.1" stroke-linecap="round" opacity="0.8"/>
<line x1="137.1" y1="646.1" x2="141.9" y2="646.5" stroke="#35559c" stroke-width="1.6" stroke-linecap="round" opacity="0.8"/>
<line x1="116.9" y1="658.9" x2="120.4" y2="660.4" stroke="#35559c" stroke-width="1.4" stroke-linecap="round" opacity="0.8"/>
<line x1="66.4" y1="647.3" x2="70.0" y2="648.5" stroke="#35559c" stroke-width="1.3" stroke-linecap="round" opacity="0.8"/>
<line x1="79.1" y1="649.6" x2="83.7" y2="649.7" stroke="#35559c" stroke-width="1.6" stroke-linecap="round" opacity="0.8"/>
<line x1="28.7" y1="645.1" x2="31.7" y2="648.3" stroke="#35559c" stroke-width="1.2" stroke-linecap="round" opacity="0.8"/>
<line x1="142.3" y1="722.6" x2="145.7" y2="720.4" stroke="#35559c" stroke-width="1.0" stroke-linecap="round" opacity="0.8"/>
<line x1="165.0" y1="710.6" x2="166.5" y2="707.5" stroke="#35559c" stroke-width="1.1" stroke-linecap="round" opacity="0.8"/>
<line x1="117.1" y1="646.1" x2="121.8" y2="646.5" stroke="#35559c" stroke-width="1.5" stroke-linecap="round" opacity="0.8"/>
<line x1="165.7" y1="733.0" x2="167.9" y2="730.0" stroke="#35559c" stroke-width="1.6" stroke-linecap="round" opacity="0.8"/>
<line x1="35.7" y1="668.2" x2="39.0" y2="671.0" stroke="#35559c" stroke-width="1.5" stroke-linecap="round" opacity="0.8"/>
<line x1="42.4" y1="667.6" x2="45.3" y2="670.8" stroke="#35559c" stroke-width="1.5" stroke-linecap="round" opacity="0.8"/>
<line x1="142.3" y1="648.0" x2="145.3" y2="646.5" stroke="#35559c" stroke-width="1.3" stroke-linecap="round" opacity="0.8"/>
<line x1="98.9" y1="658.1" x2="103.6" y2="656.9" stroke="#35559c" stroke-width="1.4" stroke-linecap="round" opacity="0.8"/>
<line x1="134.7" y1="656.8" x2="138.4" y2="655.7" stroke="#35559c" stroke-width="1.2" stroke-linecap="round" opacity="0.8"/>
<line x1="53.1" y1="663.3" x2="55.4" y2="664.6" stroke="#35559c" stroke-width="1.4" stroke-linecap="round" opacity="0.8"/>
<line x1="127.0" y1="721.4" x2="126.8" y2="718.8" stroke="#35559c" stroke-width="1.1" stroke-linecap="round" opacity="0.8"/>
<line x1="69.6" y1="650.0" x2="73.2" y2="651.0" stroke="#35559c" stroke-width="1.6" stroke-linecap="round" opacity="0.8"/>
<line x1="174.0" y1="733.4" x2="177.3" y2="730.4" stroke="#35559c" stroke-width="1.0" stroke-linecap="round" opacity="0.8"/>
<line x1="158.3" y1="702.6" x2="161.9" y2="701.9" stroke="#35559c" stroke-width="1.1" stroke-linecap="round" opacity="0.8"/>
<line x1="148.3" y1="704.2" x2="152.4" y2="701.7" stroke="#35559c" stroke-width="1.3" stroke-linecap="round" opacity="0.8"/>
<line x1="147.8" y1="719.3" x2="151.1" y2="717.2" stroke="#35559c" stroke-width="1.2" stroke-linecap="round" opacity="0.8"/>
<line x1="128.0" y1="700.4" x2="131.1" y2="701.0" stroke="#35559c" stroke-width="1.0" stroke-linecap="round" opacity="0.8"/>
<line x1="146.3" y1="652.5" x2="148.8" y2="653.5" stroke="#35559c" stroke-width="1.6" stroke-linecap="round" opacity="0.8"/>
<line x1="27.5" y1="669.3" x2="31.0" y2="669.6" stroke="#35559c" stroke-width="1.3" stroke-linecap="round" opacity="0.8"/>
<line x1="35.7" y1="657.6" x2="37.8" y2="660.6" stroke="#35559c" stroke-width="1.6" stroke-linecap="round" opacity="0.8"/>
<line x1="50.6" y1="647.7" x2="54.5" y2="648.6" stroke="#35559c" stroke-width="1.3" stroke-linecap="round" opacity="0.8"/>
<line x1="64.0" y1="655.1" x2="68.1" y2="655.9" stroke="#35559c" stroke-width="1.3" stroke-linecap="round" opacity="0.8"/>
<line x1="125.4" y1="653.2" x2="129.7" y2="653.9" stroke="#35559c" stroke-width="1.3" stroke-linecap="round" opacity="0.8"/>
<line x1="65.8" y1="663.8" x2="70.0" y2="665.9" stroke="#35559c" stroke-width="1.5" stroke-linecap="round" opacity="0.8"/>
<line x1="131.7" y1="714.0" x2="135.8" y2="713.1" stroke="#35559c" stroke-width="1.3" stroke-linecap="round" opacity="0.8"/>
<line x1="149.4" y1="738.4" x2="154.1" y2="736.9" stroke="#35559c" stroke-width="1.5" stroke-linecap="round" opacity="0.8"/>
<line x1="26.5" y1="645.6" x2="29.0" y2="647.6" stroke="#35559c" stroke-width="1.3" stroke-linecap="round" opacity="0.8"/>
<line x1="114.7" y1="727.6" x2="118.8" y2="726.5" stroke="#35559c" stroke-width="1.3" stroke-linecap="round" opacity="0.8"/>
<line x1="133.2" y1="724.5" x2="136.0" y2="723.4" stroke="#35559c" stroke-width="1.2" stroke-linecap="round" opacity="0.8"/>
<line x1="163.3" y1="703.4" x2="167.4" y2="704.0" stroke="#35559c" stroke-width="1.5" stroke-linecap="round" opacity="0.8"/>
<line x1="107.1" y1="649.9" x2="111.4" y2="651.4" stroke="#35559c" stroke-width="1.2" stroke-linecap="round" opacity="0.8"/>
<line x1="174.3" y1="718.4" x2="176.3" y2="714.1" stroke="#35559c" stroke-width="1.3" stroke-linecap="round" opacity="0.8"/>
<line x1="70.0" y1="662.1" x2="72.6" y2="661.4" stroke="#35559c" stroke-width="1.0" stroke-linecap="round" opacity="0.8"/>
<line x1="140.9" y1="735.1" x2="143.1" y2="733.4" stroke="#35559c" stroke-width="1.1" stroke-linecap="round" opacity="0.8"/>
<line x1="113.3" y1="714.6" x2="117.5" y2="715.8" stroke="#35559c" stroke-width="1.4" stroke-linecap="round" opacity="0.8"/>
<line x1="75.2" y1="652.6" x2="78.0" y2="652.2" stroke="#35559c" stroke-width="1.4" stroke-linecap="round" opacity="0.8"/>
<line x1="169.0" y1="748.8" x2="172.2" y2="745.2" stroke="#35559c" stroke-width="1.3" stroke-linecap="round" opacity="0.8"/>
<line x1="37.1" y1="654.1" x2="41.7" y2="653.1" stroke="#35559c" stroke-width="1.1" stroke-linecap="round" opacity="0.8"/>
<line x1="100.8" y1="651.9" x2="104.0" y2="653.2" stroke="#35559c" stroke-width="1.2" stroke-linecap="round" opacity="0.8"/>
<line x1="123.9" y1="661.7" x2="126.9" y2="659.0" stroke="#35559c" stroke-width="1.1" stroke-linecap="round" opacity="0.8"/>
<line x1="167.1" y1="714.8" x2="169.2" y2="713.3" stroke="#35559c" stroke-width="1.3" stroke-linecap="round" opacity="0.8"/>
<line x1="146.6" y1="749.4" x2="148.3" y2="747.3" stroke="#35559c" stroke-width="1.3" stroke-linecap="round" opacity="0.8"/>
<line x1="114.5" y1="706.0" x2="116.6" y2="702.2" stroke="#35559c" stroke-width="1.5" stroke-linecap="round" opacity="0.8"/>
<line x1="132.0" y1="648.7" x2="135.1" y2="648.4" stroke="#35559c" stroke-width="1.1" stroke-linecap="round" opacity="0.8"/>
<line x1="143.6" y1="739.8" x2="145.3" y2="736.7" stroke="#35559c" stroke-width="1.2" stroke-linecap="round" opacity="0.8"/>
<line x1="53.5" y1="658.6" x2="57.7" y2="658.1" stroke="#35559c" stroke-width="1.5" stroke-linecap="round" opacity="0.8"/>
<line x1="153.6" y1="658.5" x2="158.1" y2="657.5" stroke="#35559c" stroke-width="1.5" stroke-linecap="round" opacity="0.8"/>
<line x1="63.0" y1="670.5" x2="67.2" y2="671.2" stroke="#35559c" stroke-width="1.5" stroke-linecap="round" opacity="0.8"/>
<line x1="106.8" y1="649.5" x2="110.8" y2="647.8" stroke="#35559c" stroke-width="1.6" stroke-linecap="round" opacity="0.8"/>
<line x1="77.1" y1="650.5" x2="81.8" y2="648.8" stroke="#35559c" stroke-width="1.0" stroke-linecap="round" opacity="0.8"/>
<line x1="71.1" y1="657.6" x2="75.5" y2="657.8" stroke="#35559c" stroke-width="1.1" stroke-linecap="round" opacity="0.8"/>
<line x1="111.8" y1="656.5" x2="114.6" y2="656.5" stroke="#35559c" stroke-width="1.1" stroke-linecap="round" opacity="0.8"/>
<line x1="85.3" y1="659.2" x2="89.3" y2="658.6" stroke="#35559c" stroke-width="1.1" stroke-linecap="round" opacity="0.8"/>
<line x1="90.7" y1="649.2" x2="94.5" y2="649.0" stroke="#35559c" stroke-width="1.5" stroke-linecap="round" opacity="0.8"/>
<line x1="125.5" y1="746.1" x2="128.8" y2="742.6" stroke="#35559c" stroke-width="1.2" stroke-linecap="round" opacity="0.8"/>
<line x1="170.9" y1="725.1" x2="175.4" y2="723.2" stroke="#35559c" stroke-width="1.5" stroke-linecap="round" opacity="0.8"/>
<line x1="119.6" y1="655.2" x2="122.8" y2="655.3" stroke="#35559c" stroke-width="1.6" stroke-linecap="round" opacity="0.8"/>
<line x1="124.2" y1="702.2" x2="127.2" y2="698.9" stroke="#35559c" stroke-width="1.4" stroke-linecap="round" opacity="0.8"/>
<line x1="118.8" y1="708.4" x2="121.9" y2="707.3" stroke="#35559c" stroke-width="1.2" stroke-linecap="round" opacity="0.8"/>
<line x1="47.3" y1="660.9" x2="50.2" y2="663.4" stroke="#35559c" stroke-width="1.1" stroke-linecap="round" opacity="0.8"/>
<line x1="108.0" y1="742.1" x2="112.2" y2="740.1" stroke="#35559c" stroke-width="1.5" stroke-linecap="round" opacity="0.8"/>
<line x1="89.5" y1="658.5" x2="93.1" y2="659.3" stroke="#35559c" stroke-width="1.6" stroke-linecap="round" opacity="0.8"/>
<line x1="164.4" y1="715.5" x2="168.8" y2="714.8" stroke="#35559c" stroke-width="1.3" stroke-linecap="round" opacity="0.8"/>
<line x1="28.4" y1="666.3" x2="31.6" y2="668.3" stroke="#35559c" stroke-width="1.1" stroke-linecap="round" opacity="0.8"/>
<line x1="38.8" y1="652.4" x2="40.6" y2="654.4" stroke="#35559c" stroke-width="1.2" stroke-linecap="round" opacity="0.8"/>
<line x1="155.7" y1="718.8" x2="158.7" y2="717.1" stroke="#35559c" stroke-width="1.3" stroke-linecap="round" opacity="0.8"/>
<line x1="61.3" y1="662.3" x2="63.7" y2="663.0" stroke="#35559c" stroke-width="1.2" stroke-linecap="round" opacity="0.8"/>
<line x1="123.5" y1="729.4" x2="127.9" y2="727.0" stroke="#35559c" stroke-width="1.5" stroke-linecap="round" opacity="0.8"/>
<line x1="129.7" y1="651.4" x2="133.2" y2="651.1" stroke="#35559c" stroke-width="1.3" stroke-linecap="round" opacity="0.8"/>
<line x1="97.7" y1="653.4" x2="100.6" y2="652.7" stroke="#35559c" stroke-width="1.4" stroke-linecap="round" opacity="0.8"/>
<line x1="167.6" y1="656.8" x2="171.7" y2="655.5" stroke="#35559c" stroke-width="1.2" stroke-linecap="round" opacity="0.8"/>
<path d="M44,672 C60,668 80,676 101,683" stroke="#dde4ef" stroke-width="1.4" fill="none" filter="url(#rough)" opacity="0.55"/>
<path d="M100,689 C115,687 135,690 152,692" stroke="#dde4ef" stroke-width="1.4" fill="none" filter="url(#rough)" opacity="0.55"/>
<path d="M136,713 C150,712 165,711 176,709" stroke="#dde4ef" stroke-width="1.4" fill="none" filter="url(#rough)" opacity="0.55"/>
<path d="M28,652 C45,657 60,665 69,669" stroke="#dde4ef" stroke-width="1.4" fill="none" filter="url(#rough)" opacity="0.55"/>
<path d="M60,770 C70,760 90,752 110,750" stroke="#dde4ef" stroke-width="1.4" fill="none" filter="url(#rough)" opacity="0.55"/>
<path d="M56,640 C62,637 70,642 77,650 C80,656 77,661 71,660 C64,655 58,648 56,640 Z" fill="#d3dbea" filter="url(#rough)" opacity="0.85"/>
<path d="M105.3,764.0 C105.0,766.0 102.1,768.0 100.6,769.5 C99.0,771.0 97.7,772.5 96.0,773.1 C94.2,773.7 92.2,773.3 90.1,772.9 C88.0,772.6 85.0,772.4 83.5,770.9 C82.0,769.4 80.9,766.1 81.2,764.0 C81.4,761.9 83.7,760.0 85.1,758.3 C86.6,756.6 87.8,754.9 89.7,753.9 C91.7,752.9 94.7,751.7 96.8,752.3 C98.9,752.8 100.8,755.4 102.2,757.3 C103.6,759.3 105.6,762.0 105.3,764.0Z" fill="#d3dbea" filter="url(#rough)" opacity="0.85"/>
<path d="M124.9,756.1 C124.9,757.4 125.1,758.8 124.0,760.0 C122.9,761.2 120.5,762.4 118.5,763.1 C116.4,763.8 113.9,764.2 111.6,764.3 C109.3,764.4 106.1,764.4 104.7,763.7 C103.3,763.0 103.7,761.3 103.2,759.9 C102.6,758.5 100.3,756.7 101.3,755.4 C102.2,754.2 106.4,753.1 109.0,752.3 C111.6,751.5 114.3,750.8 116.8,750.7 C119.3,750.6 122.8,750.9 124.2,751.8 C125.5,752.7 124.9,754.7 124.9,756.1Z" fill="#d3dbea" filter="url(#rough)" opacity="0.85"/>
<path d="M83,630 L96,630 C98,633 102,636 115,639 C125,640 133,640 137,641 L137,645 C130,647.5 118,648 108,647.5 C98,647 92,645 87,642 C84,639 83,635 83,630 Z" fill="#e9ebee" filter="url(#rough)"/>
<path d="M25.9,633 L29.5,633 L29.5,643 L25.9,643 Z" fill="#e9ebee" filter="url(#rough)"/>
<path d="M58.8,685.0 C58.8,685.9 58.5,687.0 58.0,687.6 C57.5,688.2 56.4,688.5 55.6,688.6 C54.8,688.8 54.0,688.8 53.2,688.6 C52.5,688.3 51.6,687.9 51.3,687.3 C50.9,686.7 51.1,685.8 51.1,685.0 C51.1,684.2 51.0,683.4 51.3,682.7 C51.6,682.1 52.3,681.3 53.1,680.9 C53.8,680.6 55.0,680.3 55.9,680.5 C56.7,680.8 57.5,681.7 58.0,682.4 C58.5,683.1 58.8,684.1 58.8,685.0Z" fill="#e9ebee" filter="url(#rough)"/>
<path d="M80.8,700.0 C80.7,700.9 80.4,702.1 79.8,702.6 C79.2,703.2 78.0,703.2 77.1,703.4 C76.3,703.6 75.5,704.0 74.7,703.8 C73.9,703.7 73.1,703.0 72.6,702.4 C72.0,701.7 71.2,700.8 71.3,700.0 C71.3,699.2 72.3,698.5 72.9,697.8 C73.4,697.2 73.9,696.4 74.7,696.1 C75.4,695.8 76.5,695.7 77.4,695.9 C78.3,696.1 79.5,696.5 80.0,697.2 C80.6,697.9 80.8,699.1 80.8,700.0Z" fill="#e9ebee" filter="url(#rough)"/>
<path d="M112.7,673.0 C112.7,673.9 111.9,675.0 111.0,675.6 C110.2,676.2 108.8,676.2 107.6,676.5 C106.4,676.8 105.2,677.5 104.0,677.4 C102.8,677.3 101.1,676.6 100.4,675.8 C99.8,675.1 99.7,673.9 99.9,673.0 C100.1,672.1 100.7,671.3 101.4,670.7 C102.1,670.0 103.1,669.2 104.1,669.0 C105.2,668.8 106.4,669.3 107.6,669.5 C108.8,669.7 110.4,669.8 111.2,670.3 C112.1,670.9 112.7,672.1 112.7,673.0Z" fill="#e9ebee" filter="url(#rough)"/>
<path d="M135.6,676.8 C135.7,677.8 134.1,679.0 133.2,679.9 C132.2,680.8 131.2,681.7 129.9,682.1 C128.6,682.5 126.6,682.8 125.4,682.3 C124.2,681.9 123.8,680.4 122.9,679.5 C122.0,678.6 120.1,677.8 119.9,676.8 C119.8,675.8 121.0,674.3 122.0,673.6 C123.0,672.9 124.6,672.6 125.9,672.4 C127.1,672.2 128.3,672.3 129.5,672.6 C130.6,672.9 131.6,673.3 132.6,674.0 C133.6,674.7 135.5,675.8 135.6,676.8Z" fill="#e9ebee" filter="url(#rough)"/>
<path d="M166.7,695.5 C166.7,696.6 166.5,697.9 165.9,698.6 C165.3,699.4 164.1,699.6 163.1,700.0 C162.0,700.4 160.7,701.3 159.8,701.0 C158.9,700.7 158.3,699.2 157.8,698.3 C157.2,697.4 156.6,696.4 156.7,695.5 C156.7,694.6 157.6,693.9 158.1,693.0 C158.6,692.0 159.0,690.2 159.8,689.9 C160.6,689.7 161.9,691.0 162.9,691.4 C164.0,691.7 165.6,691.4 166.2,692.1 C166.9,692.8 166.8,694.4 166.7,695.5Z" fill="#e9ebee" filter="url(#rough)"/>
<path d="M37.2,707.8 C37.2,708.4 37.0,709.0 36.7,709.5 C36.4,709.9 35.8,710.4 35.3,710.5 C34.8,710.6 34.2,710.4 33.6,710.2 C33.0,710.1 32.2,710.1 31.8,709.7 C31.4,709.3 31.1,708.4 31.1,707.8 C31.1,707.2 31.5,706.4 31.9,706.0 C32.3,705.5 33.0,705.1 33.5,705.0 C34.0,705.0 34.6,705.3 35.1,705.5 C35.7,705.7 36.6,705.6 36.9,706.0 C37.3,706.3 37.3,707.2 37.2,707.8Z" fill="#e9ebee" filter="url(#rough)"/>
<path d="M35,719 C37,718 38.5,719 38.8,722 C40,730 41,740 44,751 C47,760 51,768 51,781 L46,781 C43,773 40,768 37,760 C33,752 29.5,745 29.5,738 C30,730 33,724 35,719 Z" fill="#e9ebee" filter="url(#rough)"/>
<path d="M70,724 C75,721 84,720 90,723 C95,725 98,728 97,733 C95,738 88,740 84,742 C81,744 79,746 77,744 C74,740 72,735 70,730 Z" fill="#e9ebee" filter="url(#rough)"/>
<path d="M147,781 C152,772 160,762 168,755 C172,751 175,748 177,747 L177,756 C172,760 166,768 157,781 Z" fill="#e9ebee" filter="url(#rough)"/>
<path d="M29.8,695.5 C29.9,696.2 30.1,697.3 29.8,697.9 C29.5,698.4 28.7,698.3 28.2,698.5 C27.7,698.7 27.2,699.0 26.7,698.9 C26.2,698.8 25.5,698.4 25.2,697.8 C25.0,697.2 25.2,696.2 25.3,695.5 C25.3,694.8 25.2,693.9 25.4,693.4 C25.7,692.9 26.4,692.8 26.8,692.7 C27.3,692.6 27.7,692.6 28.1,692.7 C28.5,692.9 29.0,693.2 29.3,693.7 C29.6,694.1 29.7,694.8 29.8,695.5Z" fill="#e9ebee" filter="url(#rough)"/>
</g></g>
<line x1="136.00" y1="776.80" x2="172.70" y2="776.80" stroke="#000" stroke-width="1.8" />
<g clip-path="url(#c2)"><g filter="url(#desat2)">
<rect x="181.00" y="630.80" width="149.60" height="149.20" fill="#bfcbe0" stroke="none" stroke-width="1" />
<rect x="181.0" y="630.8" width="149.6" height="149.2" filter="url(#coarse)" opacity="0.5"/>
<path d="M342.6,735.0 C344.0,744.7 339.5,760.7 335.0,769.0 C330.5,777.4 322.0,783.6 315.5,785.3 C308.9,787.0 302.1,782.4 295.8,779.3 C289.5,776.1 281.8,773.6 277.5,766.2 C273.3,758.8 269.8,744.9 270.3,735.0 C270.7,725.1 276.1,715.1 280.2,706.9 C284.3,698.7 288.8,690.0 294.8,685.9 C300.7,681.8 310.7,678.1 316.0,682.2 C321.2,686.4 321.9,701.9 326.4,710.7 C330.8,719.5 341.2,725.3 342.6,735.0Z" fill="#86a0cf" filter="url(#rough)" opacity="0.85"/>
<path d="M326.3,685.4 C327.1,688.3 327.9,692.3 325.2,695.0 C322.6,697.7 315.5,699.8 310.3,701.7 C305.0,703.5 299.3,705.6 293.8,705.9 C288.3,706.3 280.5,705.7 277.2,703.8 C273.9,701.9 274.4,697.7 273.9,694.6 C273.4,691.4 271.7,687.7 274.3,684.9 C276.8,682.1 283.8,679.7 289.2,677.8 C294.6,675.8 301.4,673.1 306.6,673.0 C311.9,672.9 317.6,675.3 320.9,677.3 C324.2,679.4 325.6,682.4 326.3,685.4Z" fill="#86a0cf" filter="url(#rough)" opacity="0.85"/>
<path d="M234.4,765.0 C233.5,768.4 227.3,770.8 223.9,773.8 C220.5,776.8 218.6,782.2 214.2,783.2 C209.8,784.2 203.4,780.9 197.5,779.9 C191.5,779.0 182.2,779.8 178.6,777.3 C175.0,774.8 175.3,768.8 176.0,765.0 C176.7,761.2 179.2,757.3 182.6,754.5 C186.0,751.8 191.4,749.7 196.6,748.4 C201.9,747.2 208.6,746.2 214.0,747.1 C219.5,748.0 225.8,750.7 229.2,753.7 C232.6,756.7 235.3,761.6 234.4,765.0Z" fill="#86a0cf" filter="url(#rough)" opacity="0.85"/>
<path d="M203.1,705.0 C203.0,709.4 202.2,714.7 200.6,717.8 C199.0,721.0 196.2,722.3 193.7,723.9 C191.2,725.5 188.1,728.4 185.6,727.4 C183.2,726.5 180.6,721.9 179.1,718.2 C177.6,714.5 176.2,709.1 176.5,705.0 C176.7,700.9 179.0,696.7 180.6,693.6 C182.3,690.5 184.2,687.8 186.4,686.4 C188.6,685.1 191.3,684.7 193.8,685.5 C196.3,686.4 199.6,688.3 201.1,691.5 C202.7,694.8 203.2,700.6 203.1,705.0Z" fill="#86a0cf" filter="url(#rough)" opacity="0.85"/>
<path d="M335.2,650.0 C335.1,652.8 333.4,656.1 330.4,658.3 C327.5,660.5 322.4,661.8 317.5,663.0 C312.7,664.1 305.6,666.1 301.2,665.3 C296.7,664.4 293.1,660.2 291.1,657.7 C289.1,655.2 289.5,652.8 289.0,650.0 C288.5,647.2 286.1,643.6 288.1,641.1 C290.2,638.6 296.1,635.7 301.2,634.8 C306.2,633.8 313.4,634.5 318.4,635.6 C323.3,636.7 328.1,639.1 330.9,641.5 C333.7,643.9 335.3,647.2 335.2,650.0Z" fill="#86a0cf" filter="url(#rough)" opacity="0.85"/>
<path d="M219.6,690.0 C219.3,698.8 215.9,707.2 213.5,714.6 C211.2,722.0 208.8,732.3 205.7,734.2 C202.7,736.2 198.4,729.7 195.3,726.2 C192.2,722.6 189.6,718.9 187.4,712.9 C185.2,706.8 182.7,698.2 182.3,690.0 C182.0,681.8 183.4,670.4 185.4,663.5 C187.5,656.7 191.4,650.4 194.6,648.8 C197.9,647.2 201.2,652.0 204.7,654.1 C208.2,656.3 213.1,655.7 215.6,661.7 C218.1,667.7 220.0,681.2 219.6,690.0Z" fill="#d9d3c6" opacity="0.45" filter="url(#soft)"/>
<path d="M205.1,712.0 C204.7,715.6 203.2,718.9 201.8,721.6 C200.4,724.2 198.5,726.8 196.4,727.9 C194.4,729.1 191.5,729.5 189.4,728.5 C187.4,727.4 185.3,724.3 184.2,721.6 C183.1,718.8 183.3,715.6 182.9,712.0 C182.5,708.4 180.9,703.2 181.9,699.9 C182.8,696.5 186.2,693.0 188.7,692.0 C191.2,691.0 194.4,692.5 196.9,693.9 C199.5,695.2 202.6,697.0 204.0,700.0 C205.4,703.0 205.5,708.4 205.1,712.0Z" fill="#e2ddd2" filter="url(#rough)" opacity="0.75"/>
<path d="M218.7,745.0 C218.8,747.3 219.1,750.6 217.9,752.2 C216.6,753.7 213.3,753.7 211.1,754.4 C208.8,755.1 206.3,756.9 204.3,756.4 C202.3,755.9 200.4,753.5 198.9,751.6 C197.4,749.7 195.2,747.0 195.4,745.0 C195.7,743.0 198.9,741.4 200.4,739.5 C201.9,737.5 202.5,734.0 204.2,733.4 C206.0,732.9 208.8,735.1 210.9,736.0 C213.1,736.8 215.7,736.9 217.0,738.4 C218.3,740.0 218.5,742.7 218.7,745.0Z" fill="#e6e4de" filter="url(#rough)" opacity="0.8"/>
<rect x="181.0" y="630.8" width="149.6" height="149.2" fill="#d9cfbb" opacity="0.28"/>
<rect x="181.0" y="630.8" width="149.6" height="149.2" filter="url(#spkD)" opacity="0.55"/>
<rect x="181.0" y="630.8" width="149.6" height="149.2" filter="url(#spkL)" opacity="0.8"/>
<line x1="321.7" y1="631.8" x2="324.9" y2="630.0" stroke="#3d5da3" stroke-width="1.2" stroke-linecap="round" opacity="0.85"/>
<line x1="247.2" y1="710.9" x2="249.5" y2="709.0" stroke="#4a6ab0" stroke-width="0.8" stroke-linecap="round" opacity="0.85"/>
<line x1="184.7" y1="767.6" x2="186.6" y2="762.1" stroke="#6f8cc4" stroke-width="1.5" stroke-linecap="round" opacity="0.85"/>
<line x1="209.2" y1="760.3" x2="213.4" y2="757.6" stroke="#3d5da3" stroke-width="1.0" stroke-linecap="round" opacity="0.85"/>
<line x1="304.4" y1="685.6" x2="308.3" y2="681.7" stroke="#4a6ab0" stroke-width="1.2" stroke-linecap="round" opacity="0.85"/>
<line x1="214.7" y1="775.0" x2="217.9" y2="770.0" stroke="#3d5da3" stroke-width="1.0" stroke-linecap="round" opacity="0.85"/>
<line x1="301.0" y1="775.8" x2="305.6" y2="772.7" stroke="#5a78b8" stroke-width="1.4" stroke-linecap="round" opacity="0.85"/>
<line x1="319.9" y1="697.3" x2="322.7" y2="697.1" stroke="#4a6ab0" stroke-width="1.5" stroke-linecap="round" opacity="0.85"/>
<line x1="198.1" y1="735.8" x2="200.0" y2="732.0" stroke="#5a78b8" stroke-width="1.4" stroke-linecap="round" opacity="0.85"/>
<line x1="234.1" y1="730.5" x2="239.4" y2="728.6" stroke="#4a6ab0" stroke-width="1.6" stroke-linecap="round" opacity="0.85"/>
<line x1="312.8" y1="658.9" x2="317.1" y2="656.6" stroke="#6f8cc4" stroke-width="1.6" stroke-linecap="round" opacity="0.85"/>
<line x1="245.4" y1="711.2" x2="248.4" y2="708.0" stroke="#3d5da3" stroke-width="0.8" stroke-linecap="round" opacity="0.85"/>
<line x1="268.7" y1="712.5" x2="268.8" y2="709.4" stroke="#4a6ab0" stroke-width="1.0" stroke-linecap="round" opacity="0.85"/>
<line x1="221.6" y1="713.7" x2="223.9" y2="711.5" stroke="#4a6ab0" stroke-width="1.6" stroke-linecap="round" opacity="0.85"/>
<line x1="184.6" y1="702.2" x2="187.5" y2="697.2" stroke="#6f8cc4" stroke-width="0.8" stroke-linecap="round" opacity="0.85"/>
<line x1="190.3" y1="749.5" x2="190.8" y2="743.9" stroke="#5a78b8" stroke-width="1.3" stroke-linecap="round" opacity="0.85"/>
<line x1="297.6" y1="710.3" x2="298.6" y2="705.5" stroke="#4a6ab0" stroke-width="1.3" stroke-linecap="round" opacity="0.85"/>
<line x1="294.7" y1="648.6" x2="298.1" y2="646.5" stroke="#6f8cc4" stroke-width="1.2" stroke-linecap="round" opacity="0.85"/>
<line x1="218.3" y1="739.6" x2="220.3" y2="735.7" stroke="#6f8cc4" stroke-width="1.0" stroke-linecap="round" opacity="0.85"/>
<line x1="211.0" y1="776.9" x2="211.5" y2="774.3" stroke="#6f8cc4" stroke-width="1.5" stroke-linecap="round" opacity="0.85"/>
<line x1="206.2" y1="654.5" x2="209.7" y2="652.4" stroke="#6f8cc4" stroke-width="1.4" stroke-linecap="round" opacity="0.85"/>
<line x1="307.9" y1="636.1" x2="310.5" y2="634.8" stroke="#4a6ab0" stroke-width="1.3" stroke-linecap="round" opacity="0.85"/>
<line x1="261.3" y1="750.4" x2="263.2" y2="747.4" stroke="#3d5da3" stroke-width="1.4" stroke-linecap="round" opacity="0.85"/>
<line x1="301.1" y1="741.7" x2="306.1" y2="740.3" stroke="#6f8cc4" stroke-width="0.9" stroke-linecap="round" opacity="0.85"/>
<line x1="301.6" y1="657.6" x2="305.9" y2="655.2" stroke="#6f8cc4" stroke-width="0.8" stroke-linecap="round" opacity="0.85"/>
<line x1="241.3" y1="686.3" x2="243.6" y2="684.0" stroke="#3d5da3" stroke-width="0.9" stroke-linecap="round" opacity="0.85"/>
<line x1="291.8" y1="720.5" x2="296.2" y2="720.3" stroke="#3d5da3" stroke-width="0.8" stroke-linecap="round" opacity="0.85"/>
<line x1="241.1" y1="709.9" x2="243.5" y2="708.5" stroke="#5a78b8" stroke-width="1.2" stroke-linecap="round" opacity="0.85"/>
<line x1="318.9" y1="777.9" x2="323.0" y2="773.6" stroke="#4a6ab0" stroke-width="1.0" stroke-linecap="round" opacity="0.85"/>
<line x1="199.0" y1="760.4" x2="198.6" y2="756.4" stroke="#3d5da3" stroke-width="1.5" stroke-linecap="round" opacity="0.85"/>
<line x1="234.3" y1="681.7" x2="236.6" y2="680.5" stroke="#6f8cc4" stroke-width="1.3" stroke-linecap="round" opacity="0.85"/>
<line x1="328.0" y1="742.1" x2="331.7" y2="739.6" stroke="#4a6ab0" stroke-width="1.2" stroke-linecap="round" opacity="0.85"/>
<line x1="239.8" y1="758.2" x2="239.7" y2="755.0" stroke="#5a78b8" stroke-width="1.0" stroke-linecap="round" opacity="0.85"/>
<line x1="297.6" y1="750.8" x2="301.8" y2="750.8" stroke="#6f8cc4" stroke-width="1.0" stroke-linecap="round" opacity="0.85"/>
<line x1="252.7" y1="678.6" x2="249.3" y2="675.1" stroke="#6f8cc4" stroke-width="1.0" stroke-linecap="round" opacity="0.85"/>
<line x1="236.3" y1="643.0" x2="240.3" y2="640.3" stroke="#5a78b8" stroke-width="1.6" stroke-linecap="round" opacity="0.85"/>
<line x1="272.0" y1="709.4" x2="275.8" y2="707.0" stroke="#4a6ab0" stroke-width="1.0" stroke-linecap="round" opacity="0.85"/>
<line x1="235.0" y1="656.6" x2="235.0" y2="650.8" stroke="#5a78b8" stroke-width="0.9" stroke-linecap="round" opacity="0.85"/>
<line x1="214.3" y1="755.8" x2="219.7" y2="756.2" stroke="#6f8cc4" stroke-width="0.9" stroke-linecap="round" opacity="0.85"/>
<line x1="310.8" y1="678.0" x2="315.3" y2="680.6" stroke="#3d5da3" stroke-width="1.0" stroke-linecap="round" opacity="0.85"/>
<line x1="270.5" y1="704.1" x2="273.3" y2="703.2" stroke="#4a6ab0" stroke-width="1.0" stroke-linecap="round" opacity="0.85"/>
<line x1="243.2" y1="712.8" x2="245.7" y2="711.2" stroke="#5a78b8" stroke-width="1.1" stroke-linecap="round" opacity="0.85"/>
<line x1="246.6" y1="688.0" x2="250.5" y2="686.1" stroke="#6f8cc4" stroke-width="1.1" stroke-linecap="round" opacity="0.85"/>
<line x1="238.9" y1="761.6" x2="238.8" y2="758.4" stroke="#5a78b8" stroke-width="1.1" stroke-linecap="round" opacity="0.85"/>
<line x1="270.4" y1="652.0" x2="274.5" y2="651.5" stroke="#3d5da3" stroke-width="1.4" stroke-linecap="round" opacity="0.85"/>
<line x1="325.9" y1="677.5" x2="328.0" y2="673.1" stroke="#4a6ab0" stroke-width="1.2" stroke-linecap="round" opacity="0.85"/>
<line x1="232.4" y1="651.2" x2="235.3" y2="646.8" stroke="#5a78b8" stroke-width="0.9" stroke-linecap="round" opacity="0.85"/>
<line x1="244.8" y1="690.7" x2="245.1" y2="688.0" stroke="#6f8cc4" stroke-width="1.5" stroke-linecap="round" opacity="0.85"/>
<line x1="222.5" y1="737.0" x2="224.6" y2="734.5" stroke="#4a6ab0" stroke-width="1.1" stroke-linecap="round" opacity="0.85"/>
<line x1="285.3" y1="707.3" x2="289.9" y2="709.6" stroke="#6f8cc4" stroke-width="1.4" stroke-linecap="round" opacity="0.85"/>
<line x1="250.6" y1="671.2" x2="254.5" y2="667.1" stroke="#6f8cc4" stroke-width="0.9" stroke-linecap="round" opacity="0.85"/>
<line x1="315.9" y1="768.2" x2="318.3" y2="765.7" stroke="#6f8cc4" stroke-width="1.2" stroke-linecap="round" opacity="0.85"/>
<line x1="268.2" y1="702.0" x2="269.1" y2="699.6" stroke="#5a78b8" stroke-width="1.1" stroke-linecap="round" opacity="0.85"/>
<line x1="234.9" y1="677.0" x2="238.8" y2="673.3" stroke="#4a6ab0" stroke-width="1.3" stroke-linecap="round" opacity="0.85"/>
<line x1="237.1" y1="683.8" x2="239.9" y2="679.7" stroke="#4a6ab0" stroke-width="1.4" stroke-linecap="round" opacity="0.85"/>
<line x1="273.2" y1="724.5" x2="276.5" y2="722.3" stroke="#6f8cc4" stroke-width="0.9" stroke-linecap="round" opacity="0.85"/>
<line x1="192.2" y1="701.7" x2="190.2" y2="698.4" stroke="#4a6ab0" stroke-width="1.3" stroke-linecap="round" opacity="0.85"/>
<line x1="220.2" y1="706.0" x2="223.4" y2="703.3" stroke="#3d5da3" stroke-width="0.9" stroke-linecap="round" opacity="0.85"/>
<line x1="209.3" y1="666.1" x2="210.3" y2="663.7" stroke="#6f8cc4" stroke-width="0.8" stroke-linecap="round" opacity="0.85"/>
<line x1="262.2" y1="760.0" x2="263.4" y2="754.9" stroke="#3d5da3" stroke-width="1.3" stroke-linecap="round" opacity="0.85"/>
<line x1="263.4" y1="755.9" x2="266.4" y2="753.7" stroke="#3d5da3" stroke-width="1.1" stroke-linecap="round" opacity="0.85"/>
<line x1="286.1" y1="735.9" x2="290.1" y2="733.2" stroke="#4a6ab0" stroke-width="1.5" stroke-linecap="round" opacity="0.85"/>
<line x1="204.9" y1="725.4" x2="204.8" y2="721.6" stroke="#5a78b8" stroke-width="1.1" stroke-linecap="round" opacity="0.85"/>
<line x1="278.8" y1="706.3" x2="283.0" y2="704.0" stroke="#5a78b8" stroke-width="1.1" stroke-linecap="round" opacity="0.85"/>
<line x1="206.8" y1="708.6" x2="208.4" y2="706.3" stroke="#3d5da3" stroke-width="1.5" stroke-linecap="round" opacity="0.85"/>
<line x1="226.1" y1="759.2" x2="228.7" y2="755.7" stroke="#6f8cc4" stroke-width="0.8" stroke-linecap="round" opacity="0.85"/>
<line x1="272.8" y1="693.9" x2="275.2" y2="690.8" stroke="#6f8cc4" stroke-width="1.0" stroke-linecap="round" opacity="0.85"/>
<line x1="273.8" y1="686.8" x2="278.1" y2="684.5" stroke="#4a6ab0" stroke-width="1.1" stroke-linecap="round" opacity="0.85"/>
<line x1="292.7" y1="757.0" x2="296.5" y2="756.0" stroke="#4a6ab0" stroke-width="1.3" stroke-linecap="round" opacity="0.85"/>
<line x1="304.6" y1="751.6" x2="306.1" y2="749.1" stroke="#6f8cc4" stroke-width="1.3" stroke-linecap="round" opacity="0.85"/>
<line x1="222.6" y1="729.4" x2="226.8" y2="726.8" stroke="#4a6ab0" stroke-width="1.0" stroke-linecap="round" opacity="0.85"/>
<line x1="220.5" y1="670.6" x2="222.6" y2="666.2" stroke="#6f8cc4" stroke-width="1.5" stroke-linecap="round" opacity="0.85"/>
<line x1="327.8" y1="638.8" x2="330.0" y2="637.3" stroke="#5a78b8" stroke-width="1.1" stroke-linecap="round" opacity="0.85"/>
<line x1="261.0" y1="752.3" x2="262.2" y2="748.5" stroke="#3d5da3" stroke-width="1.5" stroke-linecap="round" opacity="0.85"/>
<line x1="306.2" y1="656.6" x2="311.8" y2="656.1" stroke="#5a78b8" stroke-width="1.0" stroke-linecap="round" opacity="0.85"/>
<line x1="287.6" y1="692.2" x2="290.4" y2="691.2" stroke="#6f8cc4" stroke-width="1.3" stroke-linecap="round" opacity="0.85"/>
<line x1="211.4" y1="674.8" x2="215.4" y2="671.2" stroke="#5a78b8" stroke-width="1.5" stroke-linecap="round" opacity="0.85"/>
<line x1="245.2" y1="656.2" x2="246.2" y2="650.7" stroke="#5a78b8" stroke-width="1.3" stroke-linecap="round" opacity="0.85"/>
<line x1="201.5" y1="726.0" x2="203.4" y2="722.2" stroke="#5a78b8" stroke-width="1.2" stroke-linecap="round" opacity="0.85"/>
<line x1="263.7" y1="654.3" x2="265.6" y2="652.6" stroke="#5a78b8" stroke-width="1.3" stroke-linecap="round" opacity="0.85"/>
<line x1="179.1" y1="682.6" x2="184.1" y2="679.4" stroke="#6f8cc4" stroke-width="1.2" stroke-linecap="round" opacity="0.85"/>
<line x1="241.3" y1="752.1" x2="244.8" y2="750.4" stroke="#3d5da3" stroke-width="1.0" stroke-linecap="round" opacity="0.85"/>
<line x1="271.7" y1="755.1" x2="274.8" y2="753.3" stroke="#4a6ab0" stroke-width="1.6" stroke-linecap="round" opacity="0.85"/>
<line x1="245.5" y1="756.9" x2="249.1" y2="753.4" stroke="#4a6ab0" stroke-width="1.5" stroke-linecap="round" opacity="0.85"/>
<line x1="321.3" y1="712.0" x2="323.3" y2="710.4" stroke="#5a78b8" stroke-width="0.9" stroke-linecap="round" opacity="0.85"/>
<line x1="250.4" y1="764.4" x2="251.0" y2="761.7" stroke="#5a78b8" stroke-width="0.8" stroke-linecap="round" opacity="0.85"/>
<line x1="258.6" y1="753.1" x2="261.1" y2="750.2" stroke="#3d5da3" stroke-width="1.5" stroke-linecap="round" opacity="0.85"/>
<line x1="253.4" y1="758.1" x2="252.8" y2="754.2" stroke="#3d5da3" stroke-width="0.8" stroke-linecap="round" opacity="0.85"/>
<line x1="201.3" y1="680.7" x2="202.8" y2="677.5" stroke="#5a78b8" stroke-width="1.3" stroke-linecap="round" opacity="0.85"/>
<line x1="248.3" y1="678.7" x2="248.3" y2="676.0" stroke="#5a78b8" stroke-width="1.3" stroke-linecap="round" opacity="0.85"/>
<line x1="219.8" y1="663.9" x2="221.4" y2="661.4" stroke="#5a78b8" stroke-width="1.3" stroke-linecap="round" opacity="0.85"/>
<line x1="206.6" y1="647.8" x2="208.4" y2="645.4" stroke="#5a78b8" stroke-width="0.9" stroke-linecap="round" opacity="0.85"/>
<line x1="182.4" y1="692.7" x2="186.2" y2="688.2" stroke="#4a6ab0" stroke-width="0.8" stroke-linecap="round" opacity="0.85"/>
<line x1="205.9" y1="642.6" x2="208.4" y2="638.8" stroke="#5a78b8" stroke-width="1.1" stroke-linecap="round" opacity="0.85"/>
<line x1="324.3" y1="665.0" x2="325.7" y2="662.2" stroke="#5a78b8" stroke-width="0.9" stroke-linecap="round" opacity="0.85"/>
<line x1="237.2" y1="769.9" x2="241.5" y2="766.5" stroke="#5a78b8" stroke-width="1.2" stroke-linecap="round" opacity="0.85"/>
<line x1="182.5" y1="741.1" x2="182.5" y2="738.4" stroke="#5a78b8" stroke-width="1.5" stroke-linecap="round" opacity="0.85"/>
<line x1="308.6" y1="726.7" x2="309.6" y2="722.5" stroke="#3d5da3" stroke-width="0.9" stroke-linecap="round" opacity="0.85"/>
<line x1="290.0" y1="744.1" x2="293.0" y2="739.6" stroke="#4a6ab0" stroke-width="1.1" stroke-linecap="round" opacity="0.85"/>
<line x1="260.1" y1="639.3" x2="263.8" y2="635.0" stroke="#6f8cc4" stroke-width="1.2" stroke-linecap="round" opacity="0.85"/>
<line x1="268.4" y1="721.0" x2="271.2" y2="718.0" stroke="#5a78b8" stroke-width="1.4" stroke-linecap="round" opacity="0.85"/>
<line x1="226.6" y1="743.4" x2="229.0" y2="738.0" stroke="#6f8cc4" stroke-width="0.8" stroke-linecap="round" opacity="0.85"/>
<line x1="324.4" y1="743.7" x2="327.3" y2="742.6" stroke="#4a6ab0" stroke-width="1.5" stroke-linecap="round" opacity="0.85"/>
<line x1="298.0" y1="708.9" x2="302.7" y2="705.3" stroke="#3d5da3" stroke-width="0.9" stroke-linecap="round" opacity="0.85"/>
<line x1="186.5" y1="683.5" x2="186.9" y2="680.3" stroke="#3d5da3" stroke-width="1.5" stroke-linecap="round" opacity="0.85"/>
<line x1="209.2" y1="674.6" x2="211.4" y2="670.4" stroke="#3d5da3" stroke-width="0.9" stroke-linecap="round" opacity="0.85"/>
<line x1="245.6" y1="745.4" x2="248.2" y2="742.1" stroke="#3d5da3" stroke-width="1.4" stroke-linecap="round" opacity="0.85"/>
<line x1="262.1" y1="768.4" x2="264.2" y2="763.5" stroke="#4a6ab0" stroke-width="1.4" stroke-linecap="round" opacity="0.85"/>
<line x1="206.1" y1="680.7" x2="209.3" y2="680.5" stroke="#5a78b8" stroke-width="0.9" stroke-linecap="round" opacity="0.85"/>
<line x1="208.0" y1="691.5" x2="208.3" y2="686.1" stroke="#6f8cc4" stroke-width="1.5" stroke-linecap="round" opacity="0.85"/>
<line x1="190.0" y1="780.3" x2="193.5" y2="776.0" stroke="#4a6ab0" stroke-width="1.2" stroke-linecap="round" opacity="0.85"/>
<line x1="327.1" y1="687.0" x2="332.4" y2="687.4" stroke="#5a78b8" stroke-width="1.5" stroke-linecap="round" opacity="0.85"/>
<line x1="320.2" y1="730.1" x2="324.8" y2="727.9" stroke="#4a6ab0" stroke-width="1.4" stroke-linecap="round" opacity="0.85"/>
<line x1="249.7" y1="651.1" x2="251.8" y2="649.1" stroke="#5a78b8" stroke-width="1.3" stroke-linecap="round" opacity="0.85"/>
<line x1="232.1" y1="661.0" x2="236.8" y2="659.1" stroke="#5a78b8" stroke-width="1.5" stroke-linecap="round" opacity="0.85"/>
<line x1="295.0" y1="661.4" x2="297.3" y2="660.0" stroke="#5a78b8" stroke-width="1.1" stroke-linecap="round" opacity="0.85"/>
<line x1="302.2" y1="694.3" x2="305.2" y2="689.3" stroke="#5a78b8" stroke-width="1.2" stroke-linecap="round" opacity="0.85"/>
<line x1="242.6" y1="705.4" x2="244.4" y2="703.1" stroke="#3d5da3" stroke-width="1.5" stroke-linecap="round" opacity="0.85"/>
<line x1="223.0" y1="761.0" x2="224.7" y2="755.5" stroke="#6f8cc4" stroke-width="1.0" stroke-linecap="round" opacity="0.85"/>
<line x1="242.7" y1="666.0" x2="243.2" y2="661.3" stroke="#5a78b8" stroke-width="1.1" stroke-linecap="round" opacity="0.85"/>
<line x1="221.2" y1="698.2" x2="225.0" y2="695.0" stroke="#4a6ab0" stroke-width="0.8" stroke-linecap="round" opacity="0.85"/>
<line x1="235.9" y1="721.8" x2="238.2" y2="716.8" stroke="#6f8cc4" stroke-width="1.1" stroke-linecap="round" opacity="0.85"/>
<line x1="230.4" y1="754.6" x2="233.8" y2="751.8" stroke="#3d5da3" stroke-width="1.2" stroke-linecap="round" opacity="0.85"/>
<line x1="212.2" y1="750.0" x2="212.4" y2="747.4" stroke="#3d5da3" stroke-width="1.4" stroke-linecap="round" opacity="0.85"/>
<line x1="279.9" y1="681.7" x2="282.3" y2="682.5" stroke="#4a6ab0" stroke-width="1.2" stroke-linecap="round" opacity="0.85"/>
<line x1="235.3" y1="701.9" x2="234.9" y2="698.4" stroke="#3d5da3" stroke-width="1.6" stroke-linecap="round" opacity="0.85"/>
<line x1="326.2" y1="781.1" x2="328.0" y2="776.7" stroke="#3d5da3" stroke-width="1.6" stroke-linecap="round" opacity="0.85"/>
<line x1="189.3" y1="700.8" x2="192.6" y2="698.8" stroke="#4a6ab0" stroke-width="1.2" stroke-linecap="round" opacity="0.85"/>
<line x1="267.4" y1="706.0" x2="269.4" y2="704.0" stroke="#3d5da3" stroke-width="0.8" stroke-linecap="round" opacity="0.85"/>
<line x1="322.9" y1="736.8" x2="325.8" y2="732.4" stroke="#5a78b8" stroke-width="1.3" stroke-linecap="round" opacity="0.85"/>
<line x1="324.6" y1="701.8" x2="327.6" y2="701.2" stroke="#5a78b8" stroke-width="1.5" stroke-linecap="round" opacity="0.85"/>
<line x1="321.4" y1="765.4" x2="323.2" y2="763.5" stroke="#5a78b8" stroke-width="1.1" stroke-linecap="round" opacity="0.85"/>
<line x1="263.4" y1="778.7" x2="266.5" y2="773.6" stroke="#3d5da3" stroke-width="0.9" stroke-linecap="round" opacity="0.85"/>
<line x1="215.9" y1="731.7" x2="217.3" y2="727.6" stroke="#5a78b8" stroke-width="1.0" stroke-linecap="round" opacity="0.85"/>
<line x1="296.0" y1="668.6" x2="298.6" y2="666.6" stroke="#6f8cc4" stroke-width="0.9" stroke-linecap="round" opacity="0.85"/>
<line x1="195.0" y1="653.7" x2="198.2" y2="649.0" stroke="#4a6ab0" stroke-width="0.9" stroke-linecap="round" opacity="0.85"/>
<line x1="266.2" y1="659.1" x2="264.7" y2="654.3" stroke="#3d5da3" stroke-width="1.1" stroke-linecap="round" opacity="0.85"/>
<line x1="183.2" y1="656.3" x2="182.0" y2="651.1" stroke="#6f8cc4" stroke-width="0.9" stroke-linecap="round" opacity="0.85"/>
<line x1="258.3" y1="637.1" x2="262.6" y2="633.0" stroke="#3d5da3" stroke-width="1.1" stroke-linecap="round" opacity="0.85"/>
<line x1="224.3" y1="664.4" x2="227.3" y2="661.2" stroke="#6f8cc4" stroke-width="1.1" stroke-linecap="round" opacity="0.85"/>
<line x1="252.0" y1="728.9" x2="256.3" y2="727.8" stroke="#3d5da3" stroke-width="1.1" stroke-linecap="round" opacity="0.85"/>
<line x1="226.1" y1="742.8" x2="225.5" y2="739.4" stroke="#5a78b8" stroke-width="0.9" stroke-linecap="round" opacity="0.85"/>
<line x1="298.4" y1="689.2" x2="300.5" y2="687.2" stroke="#5a78b8" stroke-width="1.5" stroke-linecap="round" opacity="0.85"/>
<line x1="189.8" y1="711.7" x2="190.7" y2="707.4" stroke="#6f8cc4" stroke-width="1.5" stroke-linecap="round" opacity="0.85"/>
<line x1="279.1" y1="737.5" x2="284.9" y2="736.8" stroke="#6f8cc4" stroke-width="1.4" stroke-linecap="round" opacity="0.85"/>
<line x1="236.0" y1="720.5" x2="237.7" y2="718.1" stroke="#5a78b8" stroke-width="1.6" stroke-linecap="round" opacity="0.85"/>
<line x1="235.1" y1="722.3" x2="236.3" y2="717.8" stroke="#3d5da3" stroke-width="1.1" stroke-linecap="round" opacity="0.85"/>
<line x1="253.6" y1="709.6" x2="257.3" y2="706.0" stroke="#3d5da3" stroke-width="1.5" stroke-linecap="round" opacity="0.85"/>
<line x1="211.1" y1="720.2" x2="214.8" y2="717.3" stroke="#5a78b8" stroke-width="1.1" stroke-linecap="round" opacity="0.85"/>
<line x1="224.4" y1="733.5" x2="223.1" y2="731.0" stroke="#4a6ab0" stroke-width="1.5" stroke-linecap="round" opacity="0.85"/>
<line x1="228.3" y1="679.7" x2="231.9" y2="676.6" stroke="#3d5da3" stroke-width="1.6" stroke-linecap="round" opacity="0.85"/>
<line x1="254.6" y1="691.1" x2="254.1" y2="688.4" stroke="#4a6ab0" stroke-width="1.5" stroke-linecap="round" opacity="0.85"/>
<line x1="274.3" y1="633.8" x2="278.8" y2="634.5" stroke="#3d5da3" stroke-width="1.5" stroke-linecap="round" opacity="0.85"/>
<line x1="252.1" y1="683.1" x2="253.2" y2="678.6" stroke="#3d5da3" stroke-width="0.9" stroke-linecap="round" opacity="0.85"/>
<line x1="191.4" y1="734.4" x2="195.5" y2="731.7" stroke="#3d5da3" stroke-width="1.2" stroke-linecap="round" opacity="0.85"/>
<line x1="312.5" y1="739.3" x2="317.9" y2="739.5" stroke="#5a78b8" stroke-width="1.3" stroke-linecap="round" opacity="0.85"/>
<line x1="260.9" y1="649.7" x2="265.1" y2="645.7" stroke="#3d5da3" stroke-width="1.5" stroke-linecap="round" opacity="0.85"/>
<line x1="211.1" y1="694.2" x2="214.1" y2="691.1" stroke="#3d5da3" stroke-width="0.9" stroke-linecap="round" opacity="0.85"/>
<line x1="220.4" y1="692.0" x2="223.5" y2="691.2" stroke="#6f8cc4" stroke-width="1.2" stroke-linecap="round" opacity="0.85"/>
<line x1="283.1" y1="691.1" x2="285.3" y2="686.3" stroke="#3d5da3" stroke-width="1.2" stroke-linecap="round" opacity="0.85"/>
<line x1="306.6" y1="747.5" x2="311.2" y2="744.7" stroke="#5a78b8" stroke-width="1.1" stroke-linecap="round" opacity="0.85"/>
<line x1="299.3" y1="733.7" x2="303.0" y2="731.9" stroke="#6f8cc4" stroke-width="1.1" stroke-linecap="round" opacity="0.85"/>
<line x1="266.4" y1="704.0" x2="270.3" y2="701.0" stroke="#4a6ab0" stroke-width="1.3" stroke-linecap="round" opacity="0.85"/>
<line x1="232.9" y1="693.3" x2="234.1" y2="690.9" stroke="#3d5da3" stroke-width="1.4" stroke-linecap="round" opacity="0.85"/>
<line x1="218.2" y1="668.1" x2="220.0" y2="666.1" stroke="#4a6ab0" stroke-width="1.6" stroke-linecap="round" opacity="0.85"/>
<line x1="315.1" y1="698.0" x2="319.0" y2="699.6" stroke="#4a6ab0" stroke-width="0.9" stroke-linecap="round" opacity="0.85"/>
<line x1="271.6" y1="734.3" x2="275.9" y2="730.1" stroke="#5a78b8" stroke-width="1.3" stroke-linecap="round" opacity="0.85"/>
<line x1="262.7" y1="681.8" x2="264.3" y2="679.2" stroke="#5a78b8" stroke-width="1.4" stroke-linecap="round" opacity="0.85"/>
<line x1="194.4" y1="749.6" x2="196.8" y2="746.0" stroke="#5a78b8" stroke-width="0.9" stroke-linecap="round" opacity="0.85"/>
<line x1="292.7" y1="718.4" x2="298.2" y2="717.0" stroke="#5a78b8" stroke-width="1.4" stroke-linecap="round" opacity="0.85"/>
<line x1="234.3" y1="775.2" x2="236.7" y2="770.2" stroke="#5a78b8" stroke-width="0.9" stroke-linecap="round" opacity="0.85"/>
<line x1="234.1" y1="659.3" x2="235.0" y2="653.8" stroke="#5a78b8" stroke-width="1.0" stroke-linecap="round" opacity="0.85"/>
<line x1="263.4" y1="672.1" x2="266.4" y2="667.8" stroke="#4a6ab0" stroke-width="1.5" stroke-linecap="round" opacity="0.85"/>
<line x1="203.5" y1="761.4" x2="206.4" y2="756.7" stroke="#3d5da3" stroke-width="1.2" stroke-linecap="round" opacity="0.85"/>
<line x1="289.5" y1="712.8" x2="292.1" y2="708.3" stroke="#5a78b8" stroke-width="1.0" stroke-linecap="round" opacity="0.85"/>
<line x1="245.6" y1="749.5" x2="244.2" y2="744.9" stroke="#4a6ab0" stroke-width="1.2" stroke-linecap="round" opacity="0.85"/>
<line x1="282.1" y1="683.0" x2="285.2" y2="681.7" stroke="#5a78b8" stroke-width="1.5" stroke-linecap="round" opacity="0.85"/>
<line x1="190.2" y1="713.8" x2="194.3" y2="711.9" stroke="#3d5da3" stroke-width="1.0" stroke-linecap="round" opacity="0.85"/>
<line x1="180.0" y1="771.4" x2="182.8" y2="768.8" stroke="#5a78b8" stroke-width="1.5" stroke-linecap="round" opacity="0.85"/>
<line x1="189.6" y1="731.5" x2="190.8" y2="729.0" stroke="#3d5da3" stroke-width="1.1" stroke-linecap="round" opacity="0.85"/>
<line x1="199.6" y1="765.0" x2="205.2" y2="765.7" stroke="#3d5da3" stroke-width="1.1" stroke-linecap="round" opacity="0.85"/>
<line x1="280.8" y1="645.3" x2="284.5" y2="642.0" stroke="#6f8cc4" stroke-width="1.5" stroke-linecap="round" opacity="0.85"/>
<line x1="310.3" y1="646.8" x2="314.9" y2="645.2" stroke="#3d5da3" stroke-width="1.2" stroke-linecap="round" opacity="0.85"/>
<line x1="325.1" y1="715.0" x2="327.9" y2="714.1" stroke="#5a78b8" stroke-width="1.0" stroke-linecap="round" opacity="0.85"/>
<line x1="211.8" y1="673.3" x2="215.9" y2="669.6" stroke="#4a6ab0" stroke-width="1.5" stroke-linecap="round" opacity="0.85"/>
<line x1="318.8" y1="634.0" x2="323.0" y2="633.6" stroke="#5a78b8" stroke-width="1.5" stroke-linecap="round" opacity="0.85"/>
<line x1="193.1" y1="709.4" x2="194.8" y2="707.1" stroke="#5a78b8" stroke-width="1.6" stroke-linecap="round" opacity="0.85"/>
<line x1="183.3" y1="637.9" x2="185.9" y2="633.2" stroke="#3d5da3" stroke-width="0.8" stroke-linecap="round" opacity="0.85"/>
<line x1="189.2" y1="749.7" x2="193.1" y2="748.8" stroke="#5a78b8" stroke-width="1.0" stroke-linecap="round" opacity="0.85"/>
<line x1="239.0" y1="766.4" x2="240.3" y2="763.3" stroke="#3d5da3" stroke-width="1.3" stroke-linecap="round" opacity="0.85"/>
<line x1="259.2" y1="682.4" x2="260.2" y2="679.3" stroke="#6f8cc4" stroke-width="0.9" stroke-linecap="round" opacity="0.85"/>
<line x1="203.2" y1="670.7" x2="203.6" y2="666.5" stroke="#5a78b8" stroke-width="0.9" stroke-linecap="round" opacity="0.85"/>
<line x1="281.2" y1="723.7" x2="283.7" y2="720.0" stroke="#3d5da3" stroke-width="0.9" stroke-linecap="round" opacity="0.85"/>
<line x1="215.4" y1="677.6" x2="216.1" y2="674.0" stroke="#4a6ab0" stroke-width="1.3" stroke-linecap="round" opacity="0.85"/>
<line x1="297.6" y1="711.2" x2="300.9" y2="711.6" stroke="#4a6ab0" stroke-width="0.8" stroke-linecap="round" opacity="0.85"/>
<line x1="262.5" y1="653.0" x2="266.2" y2="649.8" stroke="#3d5da3" stroke-width="1.5" stroke-linecap="round" opacity="0.85"/>
<line x1="326.6" y1="688.6" x2="331.8" y2="688.5" stroke="#5a78b8" stroke-width="1.6" stroke-linecap="round" opacity="0.85"/>
<line x1="210.0" y1="767.1" x2="214.0" y2="765.1" stroke="#3d5da3" stroke-width="1.2" stroke-linecap="round" opacity="0.85"/>
<line x1="302.6" y1="634.0" x2="304.2" y2="631.8" stroke="#4a6ab0" stroke-width="0.9" stroke-linecap="round" opacity="0.85"/>
<line x1="210.3" y1="764.4" x2="213.2" y2="759.3" stroke="#5a78b8" stroke-width="1.1" stroke-linecap="round" opacity="0.85"/>
<line x1="319.1" y1="653.0" x2="321.4" y2="650.9" stroke="#4a6ab0" stroke-width="1.4" stroke-linecap="round" opacity="0.85"/>
<line x1="217.8" y1="759.9" x2="215.1" y2="755.0" stroke="#6f8cc4" stroke-width="1.1" stroke-linecap="round" opacity="0.85"/>
<line x1="286.8" y1="768.6" x2="292.7" y2="768.7" stroke="#5a78b8" stroke-width="1.3" stroke-linecap="round" opacity="0.85"/>
<line x1="197.3" y1="679.5" x2="201.6" y2="678.0" stroke="#5a78b8" stroke-width="1.2" stroke-linecap="round" opacity="0.85"/>
<line x1="260.3" y1="718.0" x2="263.4" y2="713.0" stroke="#3d5da3" stroke-width="1.3" stroke-linecap="round" opacity="0.85"/>
<line x1="183.5" y1="771.3" x2="183.4" y2="765.4" stroke="#4a6ab0" stroke-width="0.9" stroke-linecap="round" opacity="0.85"/>
<line x1="229.5" y1="718.4" x2="231.3" y2="712.8" stroke="#6f8cc4" stroke-width="1.1" stroke-linecap="round" opacity="0.85"/>
<line x1="328.9" y1="703.4" x2="331.5" y2="704.0" stroke="#4a6ab0" stroke-width="1.6" stroke-linecap="round" opacity="0.85"/>
<line x1="326.1" y1="635.1" x2="328.5" y2="633.8" stroke="#4a6ab0" stroke-width="0.8" stroke-linecap="round" opacity="0.85"/>
<line x1="240.8" y1="756.5" x2="241.3" y2="750.6" stroke="#3d5da3" stroke-width="1.0" stroke-linecap="round" opacity="0.85"/>
<line x1="299.5" y1="706.4" x2="301.6" y2="704.1" stroke="#3d5da3" stroke-width="0.9" stroke-linecap="round" opacity="0.85"/>
<line x1="324.7" y1="683.2" x2="328.0" y2="678.8" stroke="#5a78b8" stroke-width="1.4" stroke-linecap="round" opacity="0.85"/>
<line x1="217.2" y1="743.4" x2="219.9" y2="739.8" stroke="#6f8cc4" stroke-width="1.1" stroke-linecap="round" opacity="0.85"/>
<line x1="266.8" y1="671.2" x2="270.7" y2="666.9" stroke="#6f8cc4" stroke-width="1.0" stroke-linecap="round" opacity="0.85"/>
<line x1="319.0" y1="758.8" x2="323.0" y2="757.4" stroke="#5a78b8" stroke-width="1.4" stroke-linecap="round" opacity="0.85"/>
<line x1="319.0" y1="679.0" x2="322.4" y2="676.1" stroke="#6f8cc4" stroke-width="0.9" stroke-linecap="round" opacity="0.85"/>
<line x1="320.9" y1="673.1" x2="324.6" y2="673.2" stroke="#3d5da3" stroke-width="1.2" stroke-linecap="round" opacity="0.85"/>
<line x1="317.1" y1="707.8" x2="320.9" y2="707.2" stroke="#3d5da3" stroke-width="1.3" stroke-linecap="round" opacity="0.85"/>
<line x1="240.0" y1="706.0" x2="242.0" y2="704.2" stroke="#5a78b8" stroke-width="1.2" stroke-linecap="round" opacity="0.85"/>
<line x1="252.9" y1="729.4" x2="253.3" y2="723.5" stroke="#5a78b8" stroke-width="1.2" stroke-linecap="round" opacity="0.85"/>
<line x1="186.8" y1="673.5" x2="190.2" y2="671.7" stroke="#3d5da3" stroke-width="1.0" stroke-linecap="round" opacity="0.85"/>
<line x1="314.2" y1="706.7" x2="317.9" y2="705.3" stroke="#3d5da3" stroke-width="1.6" stroke-linecap="round" opacity="0.85"/>
<line x1="253.6" y1="704.8" x2="254.9" y2="700.7" stroke="#5a78b8" stroke-width="1.5" stroke-linecap="round" opacity="0.85"/>
<line x1="275.8" y1="733.1" x2="279.7" y2="734.3" stroke="#5a78b8" stroke-width="1.6" stroke-linecap="round" opacity="0.85"/>
<line x1="315.7" y1="733.9" x2="320.7" y2="732.2" stroke="#4a6ab0" stroke-width="0.9" stroke-linecap="round" opacity="0.85"/>
<line x1="252.3" y1="738.7" x2="252.0" y2="736.1" stroke="#3d5da3" stroke-width="1.6" stroke-linecap="round" opacity="0.85"/>
<line x1="278.3" y1="702.6" x2="280.6" y2="699.5" stroke="#3d5da3" stroke-width="1.6" stroke-linecap="round" opacity="0.85"/>
<line x1="204.9" y1="671.3" x2="204.9" y2="667.8" stroke="#6f8cc4" stroke-width="1.0" stroke-linecap="round" opacity="0.85"/>
<line x1="207.5" y1="736.3" x2="210.1" y2="732.4" stroke="#4a6ab0" stroke-width="1.4" stroke-linecap="round" opacity="0.85"/>
<line x1="281.5" y1="697.8" x2="280.7" y2="694.0" stroke="#6f8cc4" stroke-width="1.4" stroke-linecap="round" opacity="0.85"/>
<line x1="309.6" y1="715.6" x2="313.8" y2="715.8" stroke="#6f8cc4" stroke-width="1.4" stroke-linecap="round" opacity="0.85"/>
<line x1="186.2" y1="764.7" x2="187.5" y2="760.6" stroke="#4a6ab0" stroke-width="1.0" stroke-linecap="round" opacity="0.85"/>
<line x1="271.5" y1="648.9" x2="275.5" y2="647.8" stroke="#4a6ab0" stroke-width="0.8" stroke-linecap="round" opacity="0.85"/>
<line x1="219.8" y1="746.8" x2="222.0" y2="745.0" stroke="#5a78b8" stroke-width="1.5" stroke-linecap="round" opacity="0.85"/>
<line x1="314.4" y1="674.0" x2="320.3" y2="674.3" stroke="#3d5da3" stroke-width="1.1" stroke-linecap="round" opacity="0.85"/>
<line x1="222.1" y1="710.7" x2="223.5" y2="706.8" stroke="#3d5da3" stroke-width="0.9" stroke-linecap="round" opacity="0.85"/>
<line x1="284.9" y1="639.1" x2="288.0" y2="637.5" stroke="#5a78b8" stroke-width="1.0" stroke-linecap="round" opacity="0.85"/>
<line x1="230.0" y1="642.6" x2="230.0" y2="639.9" stroke="#5a78b8" stroke-width="1.0" stroke-linecap="round" opacity="0.85"/>
<line x1="307.7" y1="760.7" x2="311.6" y2="756.5" stroke="#6f8cc4" stroke-width="1.5" stroke-linecap="round" opacity="0.85"/>
<line x1="191.9" y1="696.7" x2="193.8" y2="693.0" stroke="#6f8cc4" stroke-width="1.4" stroke-linecap="round" opacity="0.85"/>
<line x1="262.4" y1="726.8" x2="265.7" y2="726.2" stroke="#6f8cc4" stroke-width="1.6" stroke-linecap="round" opacity="0.85"/>
<line x1="259.5" y1="661.6" x2="260.4" y2="656.5" stroke="#3d5da3" stroke-width="1.3" stroke-linecap="round" opacity="0.85"/>
<line x1="206.7" y1="777.7" x2="210.2" y2="773.1" stroke="#5a78b8" stroke-width="1.4" stroke-linecap="round" opacity="0.85"/>
<line x1="276.9" y1="737.9" x2="278.9" y2="734.3" stroke="#6f8cc4" stroke-width="1.6" stroke-linecap="round" opacity="0.85"/>
<line x1="321.5" y1="660.9" x2="325.3" y2="658.6" stroke="#3d5da3" stroke-width="1.0" stroke-linecap="round" opacity="0.85"/>
<line x1="283.5" y1="695.5" x2="286.2" y2="696.7" stroke="#6f8cc4" stroke-width="1.2" stroke-linecap="round" opacity="0.85"/>
<line x1="295.8" y1="668.4" x2="300.9" y2="666.3" stroke="#6f8cc4" stroke-width="0.8" stroke-linecap="round" opacity="0.85"/>
<line x1="286.4" y1="651.0" x2="288.2" y2="649.0" stroke="#6f8cc4" stroke-width="1.1" stroke-linecap="round" opacity="0.85"/>
<line x1="237.6" y1="743.1" x2="239.0" y2="740.2" stroke="#4a6ab0" stroke-width="1.5" stroke-linecap="round" opacity="0.85"/>
<line x1="253.9" y1="720.3" x2="253.7" y2="716.7" stroke="#3d5da3" stroke-width="1.1" stroke-linecap="round" opacity="0.85"/>
<line x1="183.3" y1="757.7" x2="185.3" y2="753.1" stroke="#4a6ab0" stroke-width="1.0" stroke-linecap="round" opacity="0.85"/>
<line x1="298.4" y1="738.2" x2="300.3" y2="734.6" stroke="#5a78b8" stroke-width="1.3" stroke-linecap="round" opacity="0.85"/>
<line x1="210.2" y1="698.1" x2="213.1" y2="693.4" stroke="#3d5da3" stroke-width="1.2" stroke-linecap="round" opacity="0.85"/>
<line x1="250.7" y1="763.7" x2="253.0" y2="760.4" stroke="#6f8cc4" stroke-width="1.3" stroke-linecap="round" opacity="0.85"/>
<line x1="255.1" y1="750.6" x2="257.8" y2="749.9" stroke="#4a6ab0" stroke-width="1.0" stroke-linecap="round" opacity="0.85"/>
<line x1="287.8" y1="774.4" x2="290.8" y2="770.6" stroke="#6f8cc4" stroke-width="1.1" stroke-linecap="round" opacity="0.85"/>
<line x1="276.1" y1="665.8" x2="281.4" y2="663.2" stroke="#5a78b8" stroke-width="1.3" stroke-linecap="round" opacity="0.85"/>
<line x1="239.6" y1="758.0" x2="239.5" y2="754.3" stroke="#6f8cc4" stroke-width="1.0" stroke-linecap="round" opacity="0.85"/>
<line x1="272.9" y1="665.3" x2="272.7" y2="662.2" stroke="#6f8cc4" stroke-width="0.8" stroke-linecap="round" opacity="0.85"/>
<line x1="265.6" y1="753.9" x2="270.9" y2="752.7" stroke="#6f8cc4" stroke-width="0.9" stroke-linecap="round" opacity="0.85"/>
<path d="M185,631 C188,645 190,655 187,674" stroke="#9b6a2c" stroke-width="2.6" fill="none" stroke-dasharray="2 1.2" filter="url(#rough)" opacity="0.85"/>
<path d="M205,631 C202,645 199,655 197,668" stroke="#9b6a2c" stroke-width="2.6" fill="none" stroke-dasharray="2 1.2" filter="url(#rough)" opacity="0.85"/>
<path d="M194,638 C196,650 193,660 191,670" stroke="#9b6a2c" stroke-width="2.6" fill="none" stroke-dasharray="2 1.2" filter="url(#rough)" opacity="0.85"/>
<path d="M228.5,679.5 C228.9,682.8 226.7,688.0 225.0,690.6 C223.3,693.2 220.6,694.4 218.3,695.2 C216.1,696.0 213.7,696.2 211.6,695.3 C209.5,694.4 207.0,692.3 205.8,689.7 C204.6,687.1 204.6,683.0 204.5,679.5 C204.4,676.0 203.9,671.2 205.1,668.5 C206.3,665.9 209.4,664.0 211.6,663.4 C213.7,662.8 216.3,663.7 218.1,664.9 C220.0,666.2 221.0,668.5 222.7,671.0 C224.4,673.4 228.1,676.2 228.5,679.5Z" fill="#6f8cc4" filter="url(#rough)" opacity="0.95"/>
<path d="M223.7,680.0 C223.6,682.6 222.7,685.2 221.8,687.3 C220.8,689.4 219.5,692.0 218.1,692.7 C216.6,693.4 214.4,692.6 213.2,691.4 C211.9,690.3 211.5,687.7 210.5,685.8 C209.5,683.9 207.4,682.1 207.3,680.0 C207.2,677.9 208.9,675.6 209.8,673.3 C210.7,671.1 211.5,667.4 212.8,666.7 C214.1,666.1 216.1,668.4 217.7,669.3 C219.3,670.2 221.5,670.1 222.5,671.9 C223.5,673.7 223.8,677.4 223.7,680.0Z" fill="#98aad0" filter="url(#rough)"/>
<path d="M219.9,681.0 C219.9,682.6 219.3,684.4 218.8,685.7 C218.4,687.0 217.8,687.9 217.1,688.6 C216.4,689.2 215.5,690.1 214.8,689.7 C214.0,689.4 213.1,687.9 212.7,686.5 C212.3,685.0 212.1,682.6 212.3,681.0 C212.4,679.4 213.1,678.0 213.6,677.0 C214.0,675.9 214.5,675.2 215.1,674.6 C215.7,674.0 216.4,673.2 217.1,673.5 C217.7,673.8 218.4,674.9 218.9,676.2 C219.4,677.5 219.9,679.4 219.9,681.0Z" fill="#d6d8dc" filter="url(#rough)"/>
<path d="M250,653 C258,650 268,652 272,658 C272,666 266,672 258,674 C252,672 248,662 250,653 Z" fill="#f1f1f1" filter="url(#rough)"/>
<path d="M256,703 C262,700 268,704 268,712 C268,720 266,728 260,731 C254,728 253,716 256,703 Z" fill="#f1f1f1" filter="url(#rough)"/>
<path d="M281,694 C285,687 292,681 302,679 C312,678 322,679 331,680 L331,683.5 C320,683 310,683 303,685 C295,688 289,693 284,696 Z" fill="#f1f1f1" filter="url(#rough)"/>
<path d="M290,728 C300,725 315,725 331,726 L331,732 C318,732 302,733 291,731 Z" fill="#f1f1f1" filter="url(#rough)"/>
<path d="M303,750 C308,748 313,754 315,762 C317,770 317,776 316,780 L306,780 C306,770 302,760 303,750 Z" fill="#f1f1f1" filter="url(#rough)"/>
<path d="M303.4,708.0 C303.4,709.0 302.7,710.0 302.3,710.9 C301.9,711.8 301.6,712.8 301.0,713.3 C300.4,713.7 299.5,714.0 298.9,713.6 C298.4,713.2 297.9,711.9 297.6,711.0 C297.3,710.0 297.2,709.1 297.1,708.0 C297.0,706.9 296.8,705.3 297.1,704.4 C297.4,703.6 298.4,703.3 299.0,703.0 C299.7,702.7 300.4,702.3 301.0,702.6 C301.6,702.9 302.1,703.9 302.5,704.8 C302.9,705.7 303.5,707.0 303.4,708.0Z" fill="#f1f1f1" filter="url(#rough)"/>
<path d="M325.3,703.0 C325.2,704.0 324.3,704.7 323.8,705.6 C323.3,706.4 322.9,707.5 322.3,707.9 C321.6,708.3 320.5,708.1 319.8,707.8 C319.0,707.5 318.2,706.8 317.7,706.0 C317.3,705.2 317.1,704.0 317.1,703.0 C317.2,702.0 317.5,701.0 317.9,700.2 C318.3,699.3 318.9,698.1 319.6,697.8 C320.4,697.4 321.5,697.7 322.3,698.0 C323.1,698.4 324.1,698.9 324.6,699.7 C325.1,700.5 325.4,702.0 325.3,703.0Z" fill="#f1f1f1" filter="url(#rough)"/>
</g></g>
<g clip-path="url(#c3)"><g filter="url(#desat3)">
<rect x="336.20" y="630.80" width="149.80" height="149.20" fill="#a3b3d3" stroke="none" stroke-width="1" />
<rect x="336.2" y="630.8" width="149.8" height="149.2" filter="url(#spkN)" opacity="0.9"/>
<rect x="336.2" y="630.8" width="149.8" height="149.2" filter="url(#spkW3)" opacity="0.45"/>
<path d="M445.9,639.0 C445.7,640.3 444.2,641.8 443.1,642.7 C441.9,643.6 440.5,643.9 439.0,644.5 C437.4,645.2 435.2,646.8 433.6,646.6 C432.0,646.4 429.9,644.6 429.2,643.3 C428.5,642.0 429.2,640.3 429.4,639.0 C429.6,637.7 429.5,636.3 430.4,635.3 C431.2,634.4 433.0,633.8 434.4,633.5 C435.9,633.2 437.4,633.2 439.0,633.4 C440.6,633.6 442.9,633.8 444.0,634.8 C445.2,635.7 446.0,637.7 445.9,639.0Z" fill="#6e84b6" filter="url(#rough)"/>
<path d="M444.6,639.0 C444.5,640.1 443.3,641.3 442.3,642.1 C441.3,642.9 440.2,643.7 438.9,644.1 C437.5,644.5 435.6,645.0 434.3,644.7 C433.0,644.3 431.7,643.1 430.9,642.2 C430.2,641.2 429.8,640.2 429.7,639.0 C429.5,637.8 429.2,636.3 430.0,635.3 C430.7,634.2 432.5,633.2 434.0,632.8 C435.6,632.4 437.8,632.5 439.3,632.9 C440.8,633.3 442.3,634.4 443.2,635.4 C444.1,636.4 444.8,637.9 444.6,639.0Z" fill="#8d9cbd" filter="url(#rough)"/>
<path d="M441.2,639.0 C441.3,639.8 442.2,640.9 441.8,641.6 C441.3,642.3 439.7,642.9 438.6,643.0 C437.5,643.2 436.2,642.7 435.1,642.4 C434.1,642.1 432.9,641.8 432.3,641.3 C431.7,640.7 431.5,639.8 431.5,639.0 C431.5,638.2 431.6,637.3 432.2,636.7 C432.8,636.1 433.9,635.4 435.0,635.2 C436.0,635.0 437.2,635.3 438.3,635.6 C439.3,635.8 440.9,636.0 441.3,636.6 C441.8,637.2 441.2,638.2 441.2,639.0Z" fill="#bfa779" filter="url(#rough)"/>
<path d="M441.8,639.0 C441.9,639.6 441.2,640.4 440.6,640.9 C440.0,641.4 439.1,642.1 438.2,642.2 C437.4,642.3 436.3,641.7 435.5,641.5 C434.7,641.2 434.1,640.9 433.5,640.5 C433.0,640.1 432.3,639.6 432.2,639.0 C432.0,638.4 432.3,637.6 432.8,637.1 C433.3,636.6 434.5,636.4 435.4,636.2 C436.2,636.1 437.3,635.9 438.1,636.1 C438.9,636.3 439.5,636.9 440.1,637.4 C440.7,637.8 441.7,638.4 441.8,639.0Z" fill="#f1eee7" filter="url(#rough)"/>
<path d="M382.6,662.3 C381.4,662.5 379.9,661.3 378.5,660.7 C377.1,660.0 375.3,659.8 374.4,658.5 C373.5,657.2 373.1,654.6 373.2,653.0 C373.2,651.4 374.1,650.3 374.6,649.1 C375.2,647.8 375.5,646.2 376.5,645.5 C377.5,644.9 379.1,644.9 380.4,645.4 C381.7,645.9 383.5,647.1 384.4,648.5 C385.4,650.0 386.0,652.3 386.2,654.1 C386.4,655.9 386.2,657.9 385.6,659.3 C385.0,660.6 383.8,662.0 382.6,662.3Z" fill="#6e84b6" filter="url(#rough)"/>
<path d="M382.0,660.7 C381.1,661.1 379.6,661.6 378.7,660.9 C377.8,660.2 377.2,657.8 376.5,656.5 C375.9,655.2 375.1,654.3 374.8,653.0 C374.4,651.7 374.3,650.0 374.7,648.8 C375.0,647.7 375.8,646.4 376.7,646.1 C377.6,645.8 379.0,646.5 380.0,647.1 C381.0,647.7 382.2,648.7 382.9,649.8 C383.6,651.0 383.9,652.6 384.2,654.0 C384.4,655.5 384.8,657.4 384.5,658.5 C384.1,659.6 383.0,660.3 382.0,660.7Z" fill="#8d9cbd" filter="url(#rough)"/>
<path d="M381.1,658.3 C380.6,658.7 379.7,659.2 379.0,658.9 C378.3,658.5 377.4,657.2 376.9,656.2 C376.4,655.2 375.9,654.0 375.8,653.0 C375.8,652.1 376.3,651.4 376.7,650.7 C377.0,650.1 377.3,649.5 377.8,649.2 C378.3,648.8 379.2,648.2 379.8,648.5 C380.4,648.9 380.8,650.4 381.4,651.3 C382.0,652.2 383.1,653.1 383.3,654.0 C383.4,654.9 382.7,655.8 382.4,656.5 C382.0,657.2 381.7,657.9 381.1,658.3Z" fill="#bfa779" filter="url(#rough)"/>
<path d="M380.6,656.8 C380.2,657.0 379.7,657.2 379.2,656.9 C378.8,656.6 378.4,655.8 377.9,655.2 C377.4,654.5 376.4,653.7 376.3,653.0 C376.1,652.3 376.7,651.4 377.0,651.0 C377.3,650.5 377.8,650.4 378.2,650.2 C378.6,650.0 379.1,649.7 379.6,649.9 C380.1,650.2 380.8,650.9 381.1,651.5 C381.5,652.2 381.7,653.1 381.8,653.9 C381.9,654.6 381.9,655.4 381.7,655.9 C381.5,656.4 381.0,656.6 380.6,656.8Z" fill="#f1eee7" filter="url(#rough)"/>
<path d="M372.5,681.8 C371.0,682.2 369.6,682.1 367.8,681.7 C365.9,681.3 363.2,681.1 361.5,679.4 C359.8,677.7 358.6,673.9 357.3,671.3 C356.1,668.6 354.5,665.8 354.2,663.5 C353.8,661.1 354.0,658.1 355.1,657.0 C356.3,655.9 358.9,656.0 361.1,656.9 C363.3,657.7 366.4,660.0 368.4,662.3 C370.4,664.6 371.9,667.9 373.2,670.7 C374.5,673.5 376.4,677.1 376.3,679.0 C376.2,680.8 373.9,681.4 372.5,681.8Z" fill="#6e84b6" filter="url(#rough)"/>
<path d="M372.0,681.2 C371.2,682.2 370.2,684.1 368.7,683.4 C367.1,682.8 364.4,679.6 362.6,677.5 C360.9,675.4 359.4,673.1 358.3,670.9 C357.1,668.7 356.0,666.1 355.7,664.2 C355.5,662.2 356.0,660.5 356.8,659.5 C357.7,658.4 359.1,657.2 360.9,657.8 C362.7,658.5 365.5,661.2 367.6,663.4 C369.6,665.6 372.1,668.8 373.1,671.1 C374.1,673.4 373.7,675.8 373.5,677.4 C373.3,679.1 372.8,680.2 372.0,681.2Z" fill="#8d9cbd" filter="url(#rough)"/>
<path d="M369.8,678.1 C369.2,678.5 368.2,678.6 367.1,678.3 C366.0,677.9 364.3,677.1 363.3,675.8 C362.2,674.6 361.6,672.5 360.8,670.9 C360.1,669.3 358.9,667.6 358.7,666.3 C358.5,665.0 358.9,663.7 359.5,663.3 C360.2,662.9 361.5,663.4 362.7,663.8 C363.9,664.2 365.5,664.5 366.7,665.7 C367.9,666.9 369.1,669.4 369.9,671.1 C370.6,672.8 371.1,674.5 371.1,675.7 C371.1,676.9 370.5,677.6 369.8,678.1Z" fill="#bfa779" filter="url(#rough)"/>
<path d="M369.0,676.9 C368.7,677.5 368.0,678.5 367.2,678.0 C366.3,677.5 365.0,675.3 363.9,674.1 C362.9,672.9 361.7,671.9 361.1,670.8 C360.5,669.7 360.5,668.5 360.4,667.5 C360.3,666.5 360.1,665.2 360.5,664.7 C360.9,664.2 361.9,664.3 362.8,664.6 C363.8,665.0 365.3,665.8 366.2,666.9 C367.1,668.0 367.8,669.9 368.3,671.2 C368.8,672.4 369.1,673.4 369.2,674.4 C369.3,675.3 369.3,676.3 369.0,676.9Z" fill="#f1eee7" filter="url(#rough)"/>
<path d="M429.8,673.3 C428.6,674.1 426.2,673.5 424.4,672.9 C422.7,672.3 420.6,671.2 419.1,669.6 C417.5,668.0 415.6,665.4 415.1,663.4 C414.6,661.4 415.7,659.5 416.3,657.7 C416.8,656.0 417.0,654.1 418.2,653.2 C419.3,652.3 421.1,652.4 423.0,652.6 C424.8,652.8 427.7,653.0 429.2,654.6 C430.8,656.2 431.9,660.0 432.2,662.2 C432.6,664.4 431.8,666.2 431.4,668.0 C431.0,669.9 430.9,672.5 429.8,673.3Z" fill="#6e84b6" filter="url(#rough)"/>
<path d="M429.8,673.3 C428.8,674.3 426.4,673.9 424.7,673.3 C423.0,672.6 421.0,671.0 419.5,669.3 C418.1,667.6 416.5,665.1 415.9,663.2 C415.3,661.2 415.9,659.3 416.1,657.4 C416.4,655.5 416.3,652.8 417.4,651.9 C418.5,651.0 420.9,651.2 422.7,652.0 C424.4,652.8 426.3,654.8 427.7,656.6 C429.1,658.3 430.6,660.7 431.0,662.5 C431.4,664.3 430.4,665.6 430.2,667.4 C430.0,669.2 430.7,672.3 429.8,673.3Z" fill="#8d9cbd" filter="url(#rough)"/>
<path d="M427.7,669.7 C426.8,669.9 425.5,668.7 424.4,668.3 C423.2,667.9 421.8,668.1 421.0,667.2 C420.2,666.3 419.8,664.3 419.4,662.9 C418.9,661.5 418.4,660.1 418.5,658.9 C418.5,657.6 418.7,655.8 419.4,655.3 C420.1,654.9 421.7,655.5 422.9,655.9 C424.1,656.4 425.4,657.1 426.5,658.3 C427.5,659.4 428.8,661.2 429.3,662.7 C429.9,664.2 430.0,666.1 429.7,667.3 C429.5,668.5 428.6,669.6 427.7,669.7Z" fill="#bfa779" filter="url(#rough)"/>
<path d="M426.8,668.2 C426.2,668.4 425.1,667.4 424.3,667.1 C423.4,666.8 422.5,667.0 421.7,666.3 C420.9,665.5 419.8,663.9 419.4,662.8 C419.1,661.7 419.2,660.2 419.4,659.5 C419.7,658.7 420.4,658.3 421.0,658.1 C421.6,657.8 422.3,657.6 423.0,658.0 C423.8,658.3 424.5,659.2 425.3,660.0 C426.1,660.8 427.5,661.8 427.9,662.8 C428.3,663.8 428.1,665.1 427.9,666.0 C427.7,666.9 427.4,668.0 426.8,668.2Z" fill="#f1eee7" filter="url(#rough)"/>
<path d="M422.4,685.6 C420.9,686.5 417.2,685.3 415.0,684.9 C412.8,684.4 411.2,684.0 409.1,683.0 C406.9,682.0 403.4,680.7 402.3,678.9 C401.1,677.1 401.9,674.0 402.2,672.1 C402.5,670.2 403.1,668.6 404.2,667.4 C405.3,666.2 406.9,665.2 408.8,664.9 C410.7,664.6 413.5,664.6 415.6,665.7 C417.7,666.8 420.1,669.4 421.5,671.6 C422.9,673.8 423.9,676.6 424.0,679.0 C424.2,681.3 423.9,684.6 422.4,685.6Z" fill="#6e84b6" filter="url(#rough)"/>
<path d="M420.3,683.5 C419.5,684.8 417.4,685.6 415.5,685.6 C413.6,685.7 410.8,685.1 408.9,683.9 C407.0,682.6 405.3,680.1 404.0,678.1 C402.6,676.0 400.8,673.4 400.7,671.4 C400.6,669.5 401.9,667.6 403.2,666.4 C404.5,665.2 406.4,664.1 408.3,664.2 C410.3,664.3 413.2,665.5 415.0,666.9 C416.8,668.3 418.2,670.8 419.1,672.6 C420.0,674.5 420.1,676.2 420.3,678.0 C420.5,679.8 421.1,682.2 420.3,683.5Z" fill="#8d9cbd" filter="url(#rough)"/>
<path d="M416.5,679.7 C415.8,680.4 415.6,681.9 414.5,682.1 C413.5,682.3 411.3,681.8 410.1,680.9 C408.9,680.0 408.3,678.1 407.3,676.7 C406.4,675.3 404.8,673.7 404.6,672.5 C404.4,671.3 405.4,670.0 406.2,669.4 C407.1,668.8 408.5,668.9 409.7,669.0 C411.0,669.1 412.5,669.1 413.7,669.9 C414.9,670.7 416.0,672.3 416.9,673.6 C417.7,674.9 418.9,676.7 418.9,677.7 C418.8,678.7 417.2,679.0 416.5,679.7Z" fill="#bfa779" filter="url(#rough)"/>
<path d="M415.7,678.9 C415.1,679.4 414.9,680.5 414.1,680.5 C413.3,680.5 411.8,679.5 410.9,678.8 C410.0,678.1 409.1,677.1 408.5,676.2 C408.0,675.4 407.7,674.3 407.6,673.5 C407.5,672.7 407.6,671.8 408.0,671.2 C408.3,670.5 409.0,669.6 409.9,669.7 C410.7,669.7 412.0,670.8 413.1,671.5 C414.2,672.2 415.8,672.9 416.5,673.8 C417.2,674.8 417.6,676.5 417.5,677.3 C417.3,678.2 416.2,678.3 415.7,678.9Z" fill="#f1eee7" filter="url(#rough)"/>
<path d="M483.0,660.0 C483.2,661.3 483.6,663.1 482.9,664.3 C482.3,665.5 480.7,666.6 479.3,667.0 C477.9,667.5 476.2,667.5 474.7,667.1 C473.2,666.7 471.2,665.9 470.4,664.8 C469.7,663.6 470.1,661.4 470.5,660.0 C470.8,658.6 471.6,657.7 472.3,656.6 C473.1,655.5 473.8,654.1 474.9,653.6 C476.1,653.0 478.1,652.6 479.2,653.1 C480.4,653.6 481.3,655.3 481.9,656.4 C482.5,657.6 482.9,658.7 483.0,660.0Z" fill="#6e84b6" filter="url(#rough)"/>
<path d="M482.2,660.0 C482.2,661.0 481.6,662.0 481.0,662.9 C480.4,663.7 479.6,664.7 478.7,665.1 C477.7,665.6 476.2,665.9 475.2,665.6 C474.1,665.3 472.9,664.4 472.3,663.4 C471.7,662.5 471.6,661.2 471.5,660.0 C471.4,658.8 471.0,657.1 471.7,656.1 C472.3,655.2 474.0,654.6 475.1,654.3 C476.3,654.0 477.8,653.9 478.8,654.4 C479.8,654.8 480.6,656.1 481.1,657.0 C481.7,657.9 482.2,659.0 482.2,660.0Z" fill="#8d9cbd" filter="url(#rough)"/>
<path d="M480.6,660.0 C480.7,660.7 481.1,661.7 480.7,662.4 C480.4,663.0 479.3,663.6 478.4,663.9 C477.6,664.1 476.4,664.1 475.6,663.8 C474.8,663.6 474.0,662.9 473.6,662.2 C473.1,661.6 472.6,660.7 472.7,660.0 C472.8,659.3 473.6,658.7 474.1,658.1 C474.6,657.5 474.9,656.7 475.6,656.3 C476.4,655.9 477.8,655.4 478.6,655.7 C479.3,656.0 479.7,657.3 480.0,658.0 C480.4,658.7 480.5,659.3 480.6,660.0Z" fill="#bfa779" filter="url(#rough)"/>
<path d="M480.4,660.0 C480.3,660.5 479.9,661.1 479.6,661.6 C479.2,662.0 478.7,662.5 478.1,662.7 C477.5,662.9 476.6,662.9 476.0,662.7 C475.4,662.5 474.9,662.0 474.5,661.5 C474.1,661.1 473.8,660.6 473.7,660.0 C473.6,659.4 473.4,658.5 473.8,658.0 C474.2,657.6 475.3,657.4 476.0,657.4 C476.7,657.3 477.3,657.5 477.9,657.6 C478.5,657.8 479.2,658.0 479.6,658.4 C480.0,658.8 480.4,659.5 480.4,660.0Z" fill="#f1eee7" filter="url(#rough)"/>
<path d="M367.6,697.4 C367.7,699.7 367.7,702.9 366.4,704.5 C365.2,706.0 362.1,705.9 360.0,706.5 C357.9,707.0 355.6,708.5 353.9,707.9 C352.3,707.3 351.4,704.5 350.1,702.8 C348.9,701.0 346.4,699.2 346.4,697.4 C346.4,695.6 348.9,693.6 350.2,692.0 C351.5,690.5 352.5,689.0 354.3,688.0 C356.1,686.9 358.9,685.2 360.8,685.7 C362.8,686.1 365.0,688.6 366.2,690.6 C367.3,692.5 367.6,695.1 367.6,697.4Z" fill="#6e84b6" filter="url(#rough)"/>
<path d="M366.2,697.4 C366.0,699.2 364.7,701.0 363.6,702.3 C362.5,703.6 361.1,704.5 359.6,705.1 C358.1,705.8 356.1,706.4 354.6,706.0 C353.0,705.6 351.1,704.1 350.3,702.7 C349.5,701.3 349.9,699.2 349.8,697.4 C349.8,695.6 349.3,693.2 350.1,691.9 C351.0,690.7 353.2,690.7 354.9,690.0 C356.6,689.3 358.5,687.4 360.2,687.6 C361.9,687.9 364.0,689.8 365.0,691.4 C366.0,693.1 366.4,695.6 366.2,697.4Z" fill="#8d9cbd" filter="url(#rough)"/>
<path d="M363.2,697.4 C363.0,698.6 362.6,699.6 362.0,700.6 C361.3,701.6 360.4,703.1 359.3,703.4 C358.2,703.6 356.6,702.6 355.6,702.1 C354.5,701.6 353.8,701.0 353.1,700.2 C352.4,699.4 351.7,698.5 351.4,697.4 C351.1,696.3 350.6,694.2 351.3,693.4 C352.0,692.6 354.3,693.2 355.6,692.8 C356.9,692.5 358.1,691.2 359.3,691.3 C360.6,691.4 362.4,692.5 363.0,693.5 C363.6,694.5 363.4,696.2 363.2,697.4Z" fill="#bfa779" filter="url(#rough)"/>
<path d="M362.1,697.4 C362.0,698.4 362.2,699.5 361.7,700.3 C361.1,701.0 359.9,702.0 358.9,702.1 C358.0,702.3 356.7,701.7 355.8,701.3 C354.9,700.9 354.1,700.4 353.5,699.8 C352.8,699.1 351.9,698.2 351.9,697.4 C351.9,696.6 353.1,695.9 353.6,695.1 C354.2,694.4 354.6,693.2 355.5,692.8 C356.4,692.3 357.9,692.4 359.0,692.6 C360.0,692.9 361.3,693.6 361.9,694.4 C362.4,695.2 362.1,696.4 362.1,697.4Z" fill="#f1eee7" filter="url(#rough)"/>
<path d="M441.0,712.7 C439.0,713.1 436.5,714.8 434.9,713.7 C433.2,712.7 431.9,708.9 431.0,706.3 C430.1,703.8 429.4,700.9 429.5,698.5 C429.7,696.0 430.8,694.0 431.9,691.7 C432.9,689.4 434.3,684.8 436.0,684.6 C437.8,684.4 440.1,688.8 442.2,690.5 C444.2,692.1 447.0,692.3 448.2,694.5 C449.5,696.7 449.7,700.8 449.5,703.6 C449.3,706.5 448.4,710.0 447.0,711.5 C445.6,713.0 443.0,712.4 441.0,712.7Z" fill="#6e84b6" filter="url(#rough)"/>
<path d="M441.4,715.1 C439.7,715.2 437.4,712.8 435.8,711.3 C434.3,709.7 433.1,707.9 432.1,705.7 C431.1,703.6 429.7,700.6 429.9,698.4 C430.0,696.3 431.9,694.5 433.0,692.9 C434.2,691.3 435.2,689.4 436.8,688.8 C438.3,688.1 440.7,688.1 442.4,689.2 C444.0,690.3 445.6,693.0 446.6,695.4 C447.6,697.8 448.4,701.0 448.3,703.5 C448.2,706.0 447.1,708.5 445.9,710.4 C444.8,712.3 443.1,714.9 441.4,715.1Z" fill="#8d9cbd" filter="url(#rough)"/>
<path d="M440.6,710.6 C439.6,711.1 437.7,710.5 436.7,709.4 C435.7,708.3 435.1,705.8 434.6,704.2 C434.1,702.5 433.8,700.9 433.8,699.3 C433.8,697.7 433.9,695.6 434.5,694.6 C435.1,693.5 436.5,693.3 437.5,693.1 C438.6,692.8 440.0,692.5 440.9,693.2 C441.9,694.0 442.6,696.1 443.2,697.7 C443.8,699.2 444.6,701.2 444.5,702.6 C444.4,704.1 443.3,705.0 442.7,706.3 C442.0,707.6 441.6,710.1 440.6,710.6Z" fill="#bfa779" filter="url(#rough)"/>
<path d="M440.2,708.5 C439.3,708.6 438.2,708.0 437.4,707.2 C436.6,706.4 435.9,705.0 435.4,703.7 C434.9,702.4 434.4,700.7 434.5,699.4 C434.5,698.2 435.3,697.4 435.8,696.3 C436.3,695.2 436.7,693.1 437.5,692.9 C438.2,692.7 439.5,694.2 440.3,695.1 C441.1,696.0 441.6,697.1 442.2,698.3 C442.7,699.5 443.4,701.0 443.5,702.4 C443.6,703.8 443.3,705.7 442.8,706.7 C442.2,707.7 441.1,708.4 440.2,708.5Z" fill="#f1eee7" filter="url(#rough)"/>
<path d="M476.0,721.1 C474.4,721.9 472.5,722.2 470.3,721.4 C468.2,720.5 465.2,718.8 463.1,716.2 C461.1,713.5 458.8,708.9 457.8,705.4 C456.8,702.0 456.6,697.6 457.3,695.2 C458.0,692.8 460.1,691.7 462.0,691.1 C463.8,690.4 465.9,690.1 468.2,691.1 C470.5,692.1 473.5,694.2 475.7,697.1 C477.9,700.0 480.7,705.0 481.3,708.2 C482.0,711.5 480.4,714.5 479.5,716.7 C478.6,718.8 477.5,720.3 476.0,721.1Z" fill="#6e84b6" filter="url(#rough)"/>
<path d="M477.3,723.9 C476.0,725.0 473.0,724.0 470.8,722.6 C468.5,721.3 465.7,718.6 463.8,715.7 C462.0,712.8 460.5,708.6 459.6,705.4 C458.7,702.1 458.0,697.9 458.6,696.0 C459.2,694.0 461.5,694.1 463.1,693.5 C464.6,692.8 465.9,691.4 467.9,692.0 C469.9,692.6 473.2,694.3 475.3,697.1 C477.3,699.8 479.6,705.2 480.2,708.4 C480.8,711.6 479.2,713.8 478.7,716.4 C478.3,718.9 478.6,722.9 477.3,723.9Z" fill="#8d9cbd" filter="url(#rough)"/>
<path d="M474.2,717.3 C473.2,717.7 471.8,717.5 470.4,716.7 C469.0,715.9 467.0,714.5 465.9,712.7 C464.8,710.8 464.2,708.0 463.5,705.8 C462.9,703.6 462.0,700.8 462.2,699.4 C462.4,697.9 463.8,697.7 464.8,697.1 C465.8,696.6 466.8,695.4 468.1,696.0 C469.5,696.6 471.6,698.7 472.8,700.7 C474.1,702.7 475.0,705.6 475.7,707.9 C476.3,710.2 476.8,712.8 476.6,714.4 C476.3,716.0 475.2,716.9 474.2,717.3Z" fill="#bfa779" filter="url(#rough)"/>
<path d="M473.9,716.7 C473.3,717.2 471.6,716.1 470.4,715.3 C469.1,714.5 467.4,713.4 466.5,711.9 C465.6,710.3 465.6,707.8 465.1,706.0 C464.6,704.1 463.6,702.1 463.6,700.7 C463.6,699.3 464.2,697.9 465.0,697.6 C465.8,697.3 467.2,698.3 468.3,699.0 C469.5,699.7 471.0,700.4 472.0,701.9 C473.0,703.4 473.9,706.1 474.2,707.8 C474.6,709.5 474.2,710.6 474.2,712.1 C474.1,713.6 474.6,716.2 473.9,716.7Z" fill="#f1eee7" filter="url(#rough)"/>
<path d="M428.7,715.4 C428.6,717.3 427.1,719.3 425.9,721.0 C424.7,722.6 423.4,724.8 421.7,725.4 C420.0,726.0 417.8,725.0 415.8,724.5 C413.8,723.9 410.6,723.7 409.7,722.2 C408.8,720.7 410.2,717.6 410.3,715.4 C410.5,713.2 409.5,710.6 410.4,709.1 C411.4,707.7 414.1,707.1 415.9,706.7 C417.7,706.3 419.6,706.2 421.3,706.7 C423.0,707.2 424.9,708.2 426.2,709.6 C427.4,711.1 428.7,713.5 428.7,715.4Z" fill="#6e84b6" filter="url(#rough)"/>
<path d="M427.8,715.4 C428.0,717.2 427.5,720.2 426.3,721.3 C425.1,722.5 422.5,721.9 420.7,722.4 C419.0,722.8 417.4,724.4 415.9,724.1 C414.5,723.8 412.7,721.9 412.0,720.5 C411.3,719.0 411.6,717.1 411.6,715.4 C411.5,713.7 411.1,711.7 411.8,710.1 C412.5,708.6 414.2,706.4 415.7,706.1 C417.3,705.7 419.3,707.4 420.8,708.1 C422.3,708.9 423.7,709.4 424.9,710.6 C426.0,711.8 427.6,713.6 427.8,715.4Z" fill="#8d9cbd" filter="url(#rough)"/>
<path d="M423.6,715.4 C423.8,716.5 424.2,717.9 423.7,718.9 C423.2,719.9 421.9,720.9 420.7,721.3 C419.5,721.7 417.6,721.9 416.5,721.4 C415.4,720.9 414.7,719.5 414.1,718.5 C413.4,717.5 412.4,716.4 412.4,715.4 C412.4,714.4 413.3,713.2 414.1,712.3 C414.8,711.5 415.8,710.7 416.8,710.3 C417.9,709.9 419.5,709.5 420.5,709.9 C421.5,710.3 422.4,711.6 422.9,712.5 C423.4,713.4 423.5,714.3 423.6,715.4Z" fill="#bfa779" filter="url(#rough)"/>
<path d="M422.6,715.4 C422.6,716.2 422.9,717.3 422.5,717.9 C422.1,718.5 420.9,718.9 420.0,719.1 C419.1,719.4 418.0,719.6 417.2,719.3 C416.3,719.1 415.6,718.3 415.1,717.7 C414.5,717.0 414.0,716.1 414.0,715.4 C414.0,714.7 414.6,713.8 415.2,713.2 C415.7,712.5 416.3,711.9 417.2,711.5 C418.0,711.1 419.4,710.7 420.3,710.9 C421.1,711.1 422.0,712.2 422.4,712.9 C422.8,713.7 422.6,714.6 422.6,715.4Z" fill="#f1eee7" filter="url(#rough)"/>
<path d="M465.2,743.8 C464.5,745.9 459.7,746.9 457.1,748.0 C454.6,749.1 452.5,750.2 450.0,750.3 C447.4,750.4 443.8,750.1 441.7,748.6 C439.6,747.1 438.2,743.9 437.5,741.4 C436.8,739.0 436.6,735.8 437.6,733.7 C438.5,731.6 441.1,730.6 443.2,728.9 C445.4,727.1 447.7,723.3 450.3,723.0 C452.9,722.8 457.2,725.2 459.1,727.3 C460.9,729.4 460.3,732.8 461.3,735.5 C462.3,738.2 465.9,741.7 465.2,743.8Z" fill="#6e84b6" filter="url(#rough)"/>
<path d="M462.5,742.8 C462.0,744.9 459.3,746.9 457.2,748.0 C455.1,749.0 452.6,749.0 450.0,749.2 C447.4,749.3 443.5,750.2 441.4,748.9 C439.2,747.6 438.1,744.1 437.3,741.4 C436.5,738.8 435.5,735.6 436.3,733.3 C437.2,731.0 440.0,729.1 442.3,727.7 C444.6,726.3 447.9,724.5 450.2,725.0 C452.6,725.5 454.8,728.8 456.5,730.6 C458.2,732.4 459.4,733.7 460.5,735.8 C461.5,737.8 463.0,740.8 462.5,742.8Z" fill="#8d9cbd" filter="url(#rough)"/>
<path d="M458.8,741.5 C458.3,742.8 456.7,743.8 455.3,744.7 C453.9,745.6 452.1,746.8 450.3,746.8 C448.5,746.8 445.8,745.8 444.5,744.7 C443.1,743.5 442.7,741.4 442.2,739.8 C441.8,738.2 441.2,736.4 441.7,735.3 C442.3,734.1 444.3,733.5 445.7,732.9 C447.0,732.3 448.5,731.6 449.9,731.7 C451.4,731.8 452.9,732.7 454.3,733.5 C455.8,734.3 457.8,735.3 458.6,736.7 C459.3,738.0 459.4,740.1 458.8,741.5Z" fill="#bfa779" filter="url(#rough)"/>
<path d="M456.2,740.5 C455.7,741.5 455.1,742.3 454.1,743.0 C453.2,743.7 451.8,744.8 450.4,744.8 C449.0,744.7 446.9,743.7 446.0,742.8 C445.1,741.9 445.1,740.3 444.8,739.2 C444.6,738.1 444.0,737.1 444.3,736.2 C444.6,735.3 445.5,734.5 446.4,734.0 C447.3,733.5 448.7,733.2 449.9,733.4 C451.0,733.5 452.1,734.1 453.4,734.7 C454.6,735.4 456.9,736.1 457.4,737.1 C457.9,738.0 456.8,739.5 456.2,740.5Z" fill="#f1eee7" filter="url(#rough)"/>
<path d="M450.8,762.8 C450.9,764.9 449.5,767.7 448.0,769.1 C446.5,770.6 443.9,771.0 441.9,771.5 C439.8,772.1 437.5,772.7 435.7,772.2 C433.9,771.6 432.6,769.8 431.0,768.3 C429.4,766.7 426.0,764.7 426.0,762.8 C425.9,760.9 429.0,758.5 430.7,757.1 C432.4,755.7 434.1,755.3 436.1,754.4 C438.0,753.6 440.6,751.7 442.6,752.1 C444.5,752.5 446.2,755.0 447.6,756.8 C448.9,758.6 450.7,760.7 450.8,762.8Z" fill="#6e84b6" filter="url(#rough)"/>
<path d="M447.1,762.8 C447.3,764.5 447.7,766.6 446.9,768.3 C446.1,770.0 444.2,772.6 442.4,773.0 C440.6,773.5 437.9,771.9 436.1,771.0 C434.2,770.2 432.7,769.4 431.3,768.0 C429.9,766.6 427.9,764.7 427.7,762.8 C427.6,760.9 429.0,758.5 430.3,756.9 C431.6,755.2 433.5,753.7 435.5,753.0 C437.6,752.3 440.6,751.9 442.3,752.8 C444.1,753.6 445.0,756.3 445.8,758.0 C446.6,759.7 446.9,761.1 447.1,762.8Z" fill="#8d9cbd" filter="url(#rough)"/>
<path d="M445.7,762.8 C445.8,763.8 444.8,765.1 444.0,766.0 C443.2,766.8 442.2,767.7 440.9,768.1 C439.7,768.6 438.0,769.1 436.6,768.8 C435.2,768.6 433.2,767.8 432.5,766.8 C431.8,765.7 432.0,764.0 432.3,762.8 C432.5,761.6 433.3,760.7 434.1,759.8 C434.8,758.9 435.7,757.7 436.8,757.4 C437.9,757.1 439.6,757.5 440.8,757.9 C441.9,758.4 442.7,759.1 443.5,759.9 C444.4,760.8 445.6,761.8 445.7,762.8Z" fill="#bfa779" filter="url(#rough)"/>
<path d="M444.2,762.8 C444.4,763.7 444.6,765.0 444.0,765.8 C443.5,766.6 442.1,767.4 440.9,767.7 C439.7,768.0 438.0,767.9 437.0,767.5 C436.0,767.0 435.6,765.9 434.9,765.1 C434.2,764.4 432.8,763.6 432.7,762.8 C432.6,762.0 433.7,760.9 434.4,760.2 C435.2,759.5 436.2,758.7 437.2,758.5 C438.2,758.3 439.5,758.6 440.5,758.9 C441.4,759.3 442.2,759.9 442.8,760.5 C443.5,761.2 444.0,761.9 444.2,762.8Z" fill="#f1eee7" filter="url(#rough)"/>
<path d="M378.1,780.0 C378.9,782.3 378.6,786.0 376.4,788.0 C374.3,790.0 368.9,791.4 365.1,791.8 C361.3,792.2 357.0,791.3 353.6,790.4 C350.3,789.5 347.5,788.1 345.1,786.4 C342.6,784.7 339.4,782.4 338.8,780.0 C338.2,777.6 339.4,774.2 341.6,772.0 C343.8,769.8 348.4,767.2 352.2,766.8 C356.0,766.4 361.0,768.5 364.3,769.7 C367.6,770.9 369.6,772.3 372.0,774.1 C374.3,775.8 377.4,777.7 378.1,780.0Z" fill="#6e84b6" filter="url(#rough)"/>
<path d="M376.8,780.0 C376.4,782.0 374.1,784.1 371.9,785.7 C369.8,787.2 367.0,788.5 364.0,789.2 C360.9,789.9 357.2,790.2 353.7,789.9 C350.2,789.5 344.9,788.7 342.9,787.1 C340.8,785.4 340.8,782.1 341.4,780.0 C341.9,777.9 344.1,775.8 346.2,774.4 C348.4,773.0 351.4,772.0 354.4,771.4 C357.3,770.8 360.7,770.5 363.9,770.8 C367.2,771.2 371.7,771.9 373.9,773.5 C376.0,775.0 377.1,778.0 376.8,780.0Z" fill="#8d9cbd" filter="url(#rough)"/>
<path d="M369.7,780.0 C369.6,781.1 368.3,782.3 367.1,783.3 C365.9,784.4 364.6,785.8 362.6,786.3 C360.7,786.8 357.8,786.6 355.3,786.3 C352.9,786.0 349.4,785.6 347.8,784.5 C346.2,783.5 345.7,781.5 345.8,780.0 C345.9,778.5 346.9,776.9 348.5,775.7 C350.0,774.6 352.6,773.4 355.0,773.1 C357.3,772.8 360.4,773.3 362.6,773.9 C364.7,774.4 366.4,775.5 367.6,776.5 C368.8,777.5 369.8,778.9 369.7,780.0Z" fill="#bfa779" filter="url(#rough)"/>
<path d="M370.1,780.0 C370.5,781.0 369.1,782.5 367.8,783.4 C366.5,784.3 364.1,785.2 362.2,785.3 C360.3,785.4 358.2,784.6 356.5,784.1 C354.8,783.7 353.1,783.4 352.0,782.7 C350.9,782.0 349.8,781.0 349.6,780.0 C349.5,779.0 350.0,777.7 351.1,777.0 C352.3,776.2 354.5,776.0 356.3,775.6 C358.1,775.3 360.6,774.6 362.1,774.9 C363.7,775.2 364.4,776.6 365.7,777.4 C367.1,778.3 369.8,779.0 370.1,780.0Z" fill="#f1eee7" filter="url(#rough)"/>
<path d="M383.6,712.6 C387,722 390,730 392,738 C395,748 398,756 401.1,761.7" stroke="#6e84b6" stroke-width="13" stroke-linecap="round" fill="none" filter="url(#rough)"/>
<path d="M383.6,712.6 C387,722 390,730 392,738 C395,748 398,756 401.1,761.7" stroke="#8d9cbd" stroke-width="10.5" stroke-linecap="round" fill="none" filter="url(#rough)"/>
<path d="M383.6,712.6 C387,722 390,730 392,738 C395,748 398,756 401.1,761.7" stroke="#bfa779" stroke-width="6" stroke-linecap="round" fill="none" filter="url(#rough)"/>
<path d="M386,717 C389,725 391,732 393,740 C395,748 397,754 399.5,759" stroke="#f1eee7" stroke-width="3.6" stroke-linecap="round" fill="none" filter="url(#rough)"/>
<path d="M470,655 C475,648 481,644 487,642 L487,690 C480,687 474,680 471,672 C469,666 468,660 470,655 Z" fill="#c9d0df" filter="url(#rough)" opacity="0.6"/>
<path d="M477,665 C480,662 484,660 487,659 L487,674 C483,673 479,671 477,668 Z" fill="#eef0f4" filter="url(#rough)"/>
</g></g>
<rect x="537.80" y="631.12" width="27.80" height="101.93" fill="#e8731c" stroke="none" stroke-width="1" />
<rect x="537.80" y="733.05" width="27.80" height="28.75" fill="#f9d9b8" stroke="none" stroke-width="1" />
<rect x="572.10" y="631.12" width="27.80" height="48.35" fill="#f9d9b8" stroke="none" stroke-width="1" />
<rect x="572.10" y="679.47" width="27.80" height="82.33" fill="#bfd2ec" stroke="none" stroke-width="1" />
<line x1="531.60" y1="627.60" x2="531.60" y2="761.80" stroke="#333" stroke-width="1" />
<line x1="531.60" y1="761.80" x2="605.30" y2="761.80" stroke="#333" stroke-width="1" />
<line x1="529.40" y1="761.80" x2="531.60" y2="761.80" stroke="#333" stroke-width="1" />
<text transform="translate(525.30,765.10) scale(1.1,1)" font-size="9" text-anchor="end" fill="#111" stroke="#111" stroke-width="0.22" >0%</text>
<line x1="529.40" y1="729.13" x2="531.60" y2="729.13" stroke="#333" stroke-width="1" />
<text transform="translate(525.30,732.43) scale(1.1,1)" font-size="9" text-anchor="end" fill="#111" stroke="#111" stroke-width="0.22" >25%</text>
<line x1="529.40" y1="696.46" x2="531.60" y2="696.46" stroke="#333" stroke-width="1" />
<text transform="translate(525.30,699.76) scale(1.1,1)" font-size="9" text-anchor="end" fill="#111" stroke="#111" stroke-width="0.22" >50%</text>
<line x1="529.40" y1="663.79" x2="531.60" y2="663.79" stroke="#333" stroke-width="1" />
<text transform="translate(525.30,667.09) scale(1.1,1)" font-size="9" text-anchor="end" fill="#111" stroke="#111" stroke-width="0.22" >75%</text>
<line x1="529.40" y1="631.12" x2="531.60" y2="631.12" stroke="#333" stroke-width="1" />
<text transform="translate(525.30,634.42) scale(1.1,1)" font-size="9" text-anchor="end" fill="#111" stroke="#111" stroke-width="0.22" >100%</text>
<line x1="551.30" y1="761.80" x2="551.30" y2="764.50" stroke="#333" stroke-width="1" />
<line x1="586.00" y1="761.80" x2="586.00" y2="764.50" stroke="#333" stroke-width="1" />
<line x1="537.80" y1="627.60" x2="600.00" y2="627.60" stroke="#555" stroke-width="0.9" />
<polygon points="563.95,620.00 564.63,621.37 566.14,621.59 565.04,622.66 565.30,624.16 563.95,623.45 562.60,624.16 562.86,622.66 561.76,621.59 563.27,621.37" fill="#333"/>
<polygon points="569.70,620.00 570.38,621.37 571.89,621.59 570.79,622.66 571.05,624.16 569.70,623.45 568.35,624.16 568.61,622.66 567.51,621.59 569.02,621.37" fill="#333"/>
<polygon points="575.45,620.00 576.13,621.37 577.64,621.59 576.54,622.66 576.80,624.16 575.45,623.45 574.10,624.16 574.36,622.66 573.26,621.59 574.77,621.37" fill="#333"/>
<text transform="translate(551.30,775.80) scale(1.1,1)" font-size="9" text-anchor="middle" fill="#111" stroke="#111" stroke-width="0.22" >Normal</text>
<text transform="translate(551.30,784.30) scale(1.1,1)" font-size="9" text-anchor="middle" fill="#111" stroke="#111" stroke-width="0.22" >(n=25)</text>
<text transform="translate(586.60,775.80) scale(1.1,1)" font-size="9" text-anchor="middle" fill="#111" stroke="#111" stroke-width="0.22" >Tumor</text>
<text transform="translate(586.60,784.30) scale(1.1,1)" font-size="9" text-anchor="middle" fill="#111" stroke="#111" stroke-width="0.22" >(n=117)</text>
<rect x="609.90" y="675.60" width="8.90" height="9.40" fill="#e8731c" stroke="none" stroke-width="1" />
<rect x="609.90" y="685.00" width="8.90" height="9.50" fill="#f9d9b8" stroke="none" stroke-width="1" />
<rect x="609.90" y="694.50" width="8.90" height="9.50" fill="#bfd2ec" stroke="none" stroke-width="1" />
<text transform="translate(623.40,683.50) scale(1.1,1)" font-size="7.5" text-anchor="start" fill="#111" stroke="#111" stroke-width="0.08" >Positive</text>
<text transform="translate(623.40,692.80) scale(1.1,1)" font-size="7.5" text-anchor="start" fill="#111" stroke="#111" stroke-width="0.08" >Low positive</text>
<text transform="translate(623.40,702.30) scale(1.1,1)" font-size="7.5" text-anchor="start" fill="#111" stroke="#111" stroke-width="0.08" >Negative</text>
</svg></body></html>
